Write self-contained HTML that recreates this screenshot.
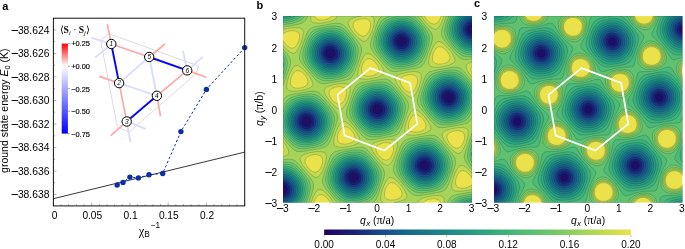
<!DOCTYPE html>
<html><head><meta charset="utf-8"><title>figure</title>
<style>html,body{margin:0;padding:0;background:#fff}svg{display:block}</style></head>
<body><svg width="685" height="249" viewBox="0 0 685 249">
<rect width="685" height="249" fill="#fff"/>
<g shape-rendering="geometricPrecision">
<rect x="283" y="16.1" width="189" height="186.6" fill="#ebe14b"/>
<path fill="#c3da52" stroke="#062018" stroke-opacity="0.38" stroke-width="0.5" fill-rule="evenodd" d="M283 16.1l31.6 0 0.9 1.8 1.3 1.2 2.2 0.8 2.5 0.3 3 -0.3 3 -0.8 2.5 -1.4 1.4 -1.6 93.3 0 1.8 3 2.5 2.6 2.5 1.8 2.5 0.7 2 -0.4 2 -1.6 1.8 -2.6 1.3 -3.5 30.9 0 0 50 -0.8 1.5 -0.2 1.5 0.2 1.5 0.8 2 0 105.6 -2 -3.1 -3 -2.8 -2.5 -1.4 -1.5 -0.3 -1 0.1 -1.5 0.6 -1 0.8 -2 2.6 -1.5 3.6 -0.6 3.9 0.4 2.5 0.9 1.5 1.8 1.3 2 0.5 3 0.2 3.5 -0.6 3 -1.3 2 -1.6 0 18 -31.6 0 -0.9 -1.8 -1.3 -1.2 -2.2 -0.8 -2.5 -0.3 -3 0.3 -3 0.8 -2.5 1.4 -1.4 1.6 -93.3 0 -1.8 -3 -2.5 -2.6 -2.5 -1.8 -2.5 -0.7 -2 0.4 -2 1.6 -1.8 2.6 -1.3 3.5 -30.9 0 0 -50 0.8 -1.5 0.2 -1.5 -0.2 -1.5 -0.8 -2 0 -105.6 2 3.1 3 2.8 2.5 1.4 1.5 0.3 1 -0.1 1.5 -0.6 1 -0.8 2 -2.6 1.5 -3.6 0.6 -3.9 -0.4 -2.5 -0.9 -1.5 -1.8 -1.3 -2 -0.5 -3 -0.2 -3.5 0.6 -3 1.3 -2 1.6zM314.5 154.6l-4 0.8 -3 1.4 -1.1 0.9 -0.8 1 -0.4 1 -0.2 1.5 0.2 1.5 0.8 2 1.2 2 1.8 2.1 1.5 1.4 2 1.3 1.5 0.5 1.5 0.1 1.5 -0.3 1 -0.7 1.5 -1.4 1 -1.5 1.6 -4 0.4 -2 0.1 -2 -0.6 -2.5 -0.6 -1 -0.9 -0.8 -2.5 -1zM339 86.6l-4 0.6 -3.3 1.4 -1.3 1 -0.8 1 -0.4 1 -0.2 1.5 0.2 1.5 0.8 2 2.5 3.7 1.5 1.5 2 1.4 1.5 0.7 1.5 0.3 1.5 -0.3 1 -0.4 1.5 -1.3 1 -1.3 1 -1.8 1 -2.5 0.6 -4 -0.4 -2.5 -0.5 -1 -0.9 -1 -2.3 -1.1zM360 19l-3.5 1.2 -1.5 0.9 -1 1 -0.9 2 0.1 2.5 0.8 2 1 1.7 3 3.4 3 2 1.5 0.4 1.5 0 1.5 -0.6 1.1 -0.9 1.4 -1.7 1 -1.8 1 -2.5 0.4 -2 0.2 -2 -0.3 -2 -1 -2 -1.2 -1 -1.1 -0.5 -3 -0.5zM385.5 142.6l-4 0.8 -3 1.4 -1.1 0.9 -0.8 1 -0.4 1 -0.2 1.5 0.2 1.5 0.8 2 1.2 2 1.8 2.1 1.5 1.4 2 1.3 1.5 0.5 1.5 0.1 1.5 -0.3 1 -0.7 1.5 -1.4 1 -1.5 1.6 -4 0.4 -2 0.1 -2 -0.6 -2.5 -0.7 -1 -0.8 -0.8 -2.5 -1zM410 74.6l-4 0.6 -3.3 1.4 -1.3 1 -0.8 1 -0.4 1 -0.2 1.5 0.2 1.5 0.8 2 2.5 3.7 1.5 1.5 2 1.4 1.5 0.7 1.5 0.3 1.5 -0.3 1 -0.4 1.5 -1.3 1 -1.3 1 -1.8 1 -2.5 0.6 -4 -0.4 -2.5 -0.5 -1 -0.9 -1 -2.3 -1.1zM438 47l-1.5 1.1 -1 1.1 -1.2 1.9 -1.1 2.5 -0.6 2.5 -0.2 2 0.2 2 0.7 1.5 0.8 1 1.4 0.9 1.5 0.4 2 0.3 2 -0.1 2.5 -0.4 2 -0.6 1.9 -1 1.7 -1.5 0.8 -2 -0.1 -2.5 -1.4 -3 -2.4 -3.1 -3 -2.4 -2.5 -0.9 -1.5 0zM456.5 130.6l-4 0.8 -3 1.4 -1.1 0.9 -0.8 1 -0.4 1 -0.2 1.5 0.2 1.5 0.8 2 1.2 2 1.8 2.1 1.5 1.4 2 1.3 1.5 0.5 1.5 0.1 1.5 -0.3 1 -0.7 1.5 -1.4 1 -1.5 1.6 -4 0.4 -2 0.1 -2 -0.6 -2.5 -1.5 -1.8 -2.5 -1zM296 71l-1.5 1.1 -1 1.1 -1.2 1.9 -1.1 2.5 -0.6 2.5 -0.2 2 0.3 2 0.6 1.5 0.9 1 1.3 0.9 1.5 0.4 2 0.3 2 -0.1 2.5 -0.4 2 -0.6 1.8 -1 1.8 -1.5 0.8 -2 -0.1 -2.5 -1.4 -3 -2.4 -3.1 -3 -2.4 -2.5 -0.9 -1.5 0zM344.5 126.7l-1.5 0.3 -1 0.7 -2.2 2.5 -1.8 4 -0.6 4 0.4 2.5 0.5 1 0.9 1 2.3 1.1 3 0.4 4.1 -0.5 3.7 -1.5 1.3 -1 0.8 -1 0.4 -1 0.2 -1.5 -0.2 -1.5 -0.8 -2 -1.2 -2 -1.8 -2.2 -1.5 -1.4 -2 -1.3 -1.5 -0.5zM367 59l-1.5 1.1 -1 1.1 -1.2 1.9 -1.1 2.5 -0.6 2.5 -0.2 2 0.3 2 0.6 1.5 0.8 1 1.4 0.9 1.5 0.4 2 0.3 2 -0.1 2.5 -0.4 2 -0.6 1.9 -1 1.7 -1.5 0.8 -2 -0.1 -2.5 -1.4 -3 -2.4 -3.1 -3 -2.4 -2.5 -0.9 -1.5 0zM391.5 182.7l-1.5 0.3 -1 0.7 -1 0.9 -1.2 1.6 -1.8 4 -0.6 4 0.4 2.5 0.5 1 0.9 1 2.3 1.1 3 0.4 4 -0.5 2 -0.6 1.8 -0.9 1.3 -1 0.8 -1 0.4 -1 0.2 -1.5 -0.2 -1.5 -0.8 -2 -1.2 -2 -1.6 -2 -1.7 -1.6 -2 -1.3 -1.5 -0.5zM416 114.6l-1.5 0.3 -1 0.4 -2 1.9 -1.9 3.5 -1.1 4 0 3 1 2.2 1 1 1 0.6 2.5 0.6 2 0.1 2.5 -0.3 3.9 -1.2 1.6 -1 1 -1 0.6 -1 0.4 -1.5 -0.1 -1.5 -0.7 -2 -1.1 -2 -1.5 -2 -1.6 -1.7 -2 -1.4 -1.5 -0.7z"/>
<path fill="#a6d459" stroke="#062018" stroke-opacity="0.38" stroke-width="0.5" fill-rule="evenodd" d="M283 16.1l27.9 0 -0.1 3.5 0.3 1 0.6 1 0.8 0.6 1.5 0.6 4 0.4 3.5 -0.1 3.5 -0.5 4 -0.9 3 -1 2.4 -1.1 1.4 -1 0.8 -1 0.3 -1.5 23.8 0 -5.7 1.3 -4.3 1.7 -1.4 1 -0.8 1 -0.4 1 0.1 1.5 0.7 2 1.6 3 2.4 3.5 2.6 3.1 2.5 2.5 2.5 2 2 1.2 2 0.5 1 -0.3 1 -0.6 1 -0.9 1.5 -2.2 2.5 -5.1 1.8 -5.2 0.9 -4.5 0 -3.5 -0.3 -1 -0.7 -1 -1.8 -1 49.8 0 3.5 5 4.3 4.6 3.5 2.7 1.5 0.7 1.5 0.3 1 -0.3 1 -0.6 2 -2.3 2.5 -4.7 2 -5.4 28 0 0 45.6 -3 1.3 -1.7 1.1 -0.8 1 -0.4 1.5 0.4 2 1.1 2.5 1.9 3 2.5 3.4 0 95.8 -4 -4.2 -3.5 -2.7 -2.5 -0.9 -1 0 -1 0.4 -1 0.8 -1.5 1.9 -1.5 2.6 -1.5 3.3 -2 6.2 -0.6 3 -0.2 2.5 0.3 2 0.8 1.5 1.2 0.8 2 0.5 3.5 0.2 4 -0.3 4.4 -0.7 4.1 -1.1 0 13.6 -27.9 0 0.1 -3.5 -0.3 -1 -0.6 -1 -0.8 -0.6 -1.5 -0.6 -4 -0.4 -3.5 0.1 -3.5 0.5 -4 0.9 -3 1 -2.4 1.1 -1.4 1 -0.8 1 -0.3 1.5 -23.8 0 5.7 -1.3 4.3 -1.7 1.4 -1 0.8 -1 0.4 -1 -0.1 -1.5 -0.7 -2 -1.6 -3 -2.4 -3.5 -2.6 -3.1 -2.5 -2.5 -2.5 -2 -2 -1.2 -2 -0.5 -1 0.3 -1 0.6 -1 0.9 -1.5 2.2 -2.5 5.1 -1.8 5.2 -0.9 4.5 0 3.5 0.3 1 0.7 1 1.8 1 -49.8 0 -3.5 -5 -4.3 -4.6 -3.5 -2.7 -1.5 -0.7 -1.5 -0.3 -1 0.3 -1 0.6 -2 2.3 -2.5 4.7 -2 5.4 -28 0 0 -45.6 3 -1.3 1.7 -1.1 0.8 -1 0.4 -1.5 -0.4 -2 -1.1 -2.5 -1.9 -3 -2.5 -3.4 0 -95.8 4 4.2 3.5 2.7 2.5 0.9 1 0 1 -0.4 1 -0.8 1.5 -1.9 1.5 -2.6 1.5 -3.3 2 -6.2 0.6 -3 0.2 -2.5 -0.3 -2 -0.8 -1.5 -1.2 -0.8 -2 -0.5 -3.5 -0.2 -4 0.3 -4.4 0.7 -4.1 1.1zM316.5 151.7l-6.7 1 -5.8 1.8 -2.8 1.7 -0.8 1 -0.3 1.5 0.4 2 1.4 3 2 3 2.7 3.5 2.9 3 3 2.5 2 1.2 2 0.5 1.5 -0.5 1.5 -1.3 1.5 -2.2 1.5 -2.8 1.5 -3.6 1.2 -3.8 0.8 -3.5 0.3 -3 -0.1 -1.5 -0.6 -1.5 -0.6 -0.8 -1 -0.6 -3 -0.6zM341 83.6l-6.5 0.9 -6 1.8 -1.8 0.8 -1.4 1 -0.8 1 -0.4 1.5 0.4 2 1.4 3 1.9 3 2.8 3.5 2.9 3.1 3 2.5 2 1.2 2 0.5 1.5 -0.5 1.5 -1.3 1.5 -2.2 1.5 -2.8 1.5 -3.5 1.1 -3.5 0.8 -3.5 0.4 -3 -0.1 -1.5 -0.3 -1.5 -0.7 -1 -0.7 -0.5 -1.5 -0.6 -1.5 -0.3zM367 53.5l-1.5 0.8 -2 2.3 -2 3.6 -1.6 3.9 -1.4 4.5 -0.7 4 0 3 0.7 1.7 1.5 1.2 2 0.5 3 0.2 3.5 -0.1 4 -0.6 3.7 -0.9 3.3 -1.1 2.7 -1.4 1.3 -1.5 0.4 -1 0 -1 -1 -3 -2.4 -4 -4 -5 -4 -3.8 -3 -1.9 -1.5 -0.4zM388 139.6l-6.5 0.9 -6 1.8 -1.9 0.9 -1.4 1 -0.7 1 -0.4 1.5 0.4 2 1.4 3 2 3 2.7 3.5 2.9 3 3 2.5 2 1.2 2 0.5 1.5 -0.5 1.5 -1.3 1.5 -2.2 1.5 -2.8 1.5 -3.6 1.2 -3.8 0.8 -3.5 0.3 -3 -0.4 -2.5 -0.7 -1 -0.7 -0.6 -1.5 -0.6 -1.5 -0.3zM412.5 71.6l-6.5 0.8 -6.1 1.7 -2.2 1 -1.4 1 -0.8 1 -0.4 1.5 0.4 2 1.1 2.5 1.9 3 2.7 3.5 2.8 3.1 3 2.7 2 1.3 2 0.6 1.5 -0.2 1.5 -1 1.5 -1.9 1.5 -2.6 1.5 -3.3 1.3 -3.7 0.9 -3.5 0.6 -3.5 -0.3 -3.1 -0.5 -1 -0.9 -0.9 -2.6 -0.8zM438 41.5l-1.5 0.8 -2 2.3 -2 3.6 -1.6 3.9 -1.4 4.5 -0.7 4 0 3 0.7 1.7 1.5 1.2 2 0.5 3 0.2 3.5 -0.1 4 -0.6 3.7 -0.9 3.3 -1.1 2.7 -1.4 1.4 -1.5 0.3 -1 0 -1 -1 -3 -2.4 -4 -4 -5 -4 -3.8 -3 -1.9 -1.5 -0.4zM459 127.6l-6.5 0.9 -6 1.8 -1.9 0.9 -1.4 1 -0.7 1 -0.4 1.5 0.4 2 1.4 3 1.9 3 2.8 3.5 2.9 3 3 2.5 2 1.2 2 0.5 1.5 -0.5 1.5 -1.3 1.5 -2.2 1.5 -2.8 1.5 -3.6 1.2 -3.8 0.8 -3.5 0.3 -3 -0.4 -2.5 -0.7 -1 -0.7 -0.6 -1.5 -0.6 -1.5 -0.3zM296 65.5l-1.5 0.8 -2 2.3 -2 3.6 -1.6 3.9 -1.4 4.5 -0.7 4 0 3 0.7 1.7 1.5 1.2 2 0.5 3 0.2 3.5 -0.2 4 -0.5 3.7 -0.9 3.3 -1.1 2.6 -1.4 1.4 -1.5 0.4 -1 0 -1 -1 -3 -2.4 -4 -4 -5 -4 -3.8 -3 -1.9 -1.5 -0.4zM343 121.5l-1.5 0.8 -2 2.3 -2 3.6 -1.5 3.6 -1.4 4.4 -0.8 4 0 3 0.6 2 1.1 1 2 0.7 3 0.3 3.5 -0.1 4 -0.5 4.1 -0.9 3.4 -1.2 2.6 -1.3 1.4 -1.5 0.4 -1 0 -1 -1 -3 -2.4 -4 -4 -5.1 -4 -3.8 -3 -1.9 -1.5 -0.4zM414 109.5l-1.5 0.8 -2 2.3 -2 3.6 -1.5 3.6 -1.4 4.4 -0.8 4 0 3 0.6 2 1.1 1 2 0.7 3 0.3 3.5 -0.1 4 -0.5 4.1 -0.9 3.4 -1.2 2.6 -1.3 1.4 -1.5 0.4 -1 0 -1 -1 -3 -2.4 -4 -4 -5.1 -4 -3.8 -3 -1.9 -1.5 -0.4z"/>
<path fill="#89cd62" stroke="#062018" stroke-opacity="0.38" stroke-width="0.5" fill-rule="evenodd" d="M283 16.1l24.6 0 -1.1 2.5 -1.3 2 -1.5 1.5 -1.7 1 -4.5 1.4 -14.5 2.5zM381.4 16.6l0.8 -0.5 35.4 0 10.5 12.5 2.7 3.5 1.3 2.5 0.5 2.5 -0.1 2.5 -1.4 5 -5.5 15.5 -1.7 3.5 -1.9 2.3 -1.5 1 -1.5 0.6 -5 1.2 -16.5 2.8 -3 0.2 -2.5 -0.3 -2.5 -1.1 -3 -2.5 -11.7 -13.7 -2.6 -3.5 -1.3 -2.5 -0.5 -2.5 0.2 -3 1.3 -4.5 5.6 -15.7 2 -3.8zM446.4 16.1l25.6 0 0 42.9 -4.5 0.6 -3 0 -2.5 -0.5 -2 -1.1 -2 -1.7 -2.5 -2.7 -9.7 -11.5 -2.9 -4 -1 -2 -0.4 -1.5 -0.1 -1.5 0.1 -2 1.2 -4.5zM332.4 23.6l4.6 -0.5 3 0.3 2.5 1.1 2.5 2 11.3 13.1 3.5 4.5 1.1 2 0.6 2 0.1 2 -0.2 2 -1.3 4.5 -5.6 15.8 -1.6 3.2 -1.9 2.3 -1.5 1 -1.5 0.6 -4.4 1.1 -16.6 2.8 -3 0.3 -2.5 -0.2 -3 -1.2 -3 -2.5 -13.2 -15.7 -1.7 -2.5 -0.9 -2 -0.3 -2.5 0.2 -2.5 1.3 -4.5 5.3 -15 1.6 -3.5 1.7 -2.2 2 -1.5 3.5 -1.2zM283 49.1l0 -0.2 3.5 4.2 2.6 3.5 1.1 2.5 0.4 2.5 -0.2 2.5 -0.9 3.5 -6.5 17.9zM450.3 67.6l3.7 -0.4 2.5 0 2 0.3 2 1 1.5 1 2 2 8 9.4 0 36.6 -1.5 2.7 -1.3 1.5 -1.7 1.2 -2.5 0.9 -4.5 1 -15 2.6 -3.5 0.3 -2.5 -0.2 -1.5 -0.4 -1.5 -0.8 -3 -2.5 -13.2 -15.7 -1.7 -2.5 -0.9 -2 -0.3 -2.5 0.2 -2.5 1.3 -4.5 5.3 -15 1.6 -3.5 1.7 -2.2 2 -1.5 3.5 -1.2zM383.9 79.1l2.1 0.1 2 0.5 1.5 0.8 2 1.5 3 3.2 10.5 12.4 2.4 3.5 1 2.5 0.2 2.5 -0.6 3.6 -6.6 19 -1.9 3.5 -1.9 2 -3.1 1.5 -5 1.1 -16 2.7 -3 0.2 -2.5 -0.3 -2.5 -1.1 -3 -2.5 -10.8 -12.6 -3.1 -4 -1.5 -2.5 -0.7 -2.5 0 -2 0.6 -3.1 6.5 -18.7 1.6 -3.3 1.9 -2.2 2.5 -1.4 3.5 -1.1 16 -2.7zM312.7 91.1l2.3 0.1 1.5 0.3 2 1 1.5 1 3.5 3.7 10.5 12.5 2.4 3.5 1 2.5 0.2 2.5 -0.6 3.5 -6.6 19 -1.9 3.5 -1.9 2 -3.1 1.5 -5 1.1 -16 2.7 -3 0.2 -2.5 -0.3 -2.5 -1.1 -2.5 -2 -9 -10.4 0 -36.6 1.1 -2.2 1.4 -1.7 1.6 -1.3 2.3 -1 5.6 -1.2 13.5 -2.3zM471.8 133.7l0.2 -0.4 0 36.6 -3.9 -4.7 -2.2 -3 -1.1 -2.5 -0.4 -2.5 0.2 -2.5 0.8 -3zM430.2 135.2l2.3 0 2 0.3 2 1 1.5 1 3 3.1 9.8 11.6 3 4 1.5 3 0.3 2.5 -0.4 3.5 -1.4 4.5 -5.4 15 -1.9 3.5 -1.9 2 -3.1 1.5 -5.5 1.2 -15.5 2.6 -3 0.2 -2.5 -0.3 -2.5 -1.1 -3 -2.5 -13.6 -16.1 -1.5 -2.5 -0.9 -2.5 -0.1 -2.5 0.4 -2.5 1.4 -4.5 5.3 -14.8 1.6 -3.2 1.9 -2.3 2.5 -1.4 3.5 -1.1 15.5 -2.6zM359.1 147.2l2.9 0 2 0.5 2 1.1 2 1.7 12.6 14.7 2.2 3 1.3 2.5 0.5 3 -0.4 3.5 -6.4 18.5 -1.1 2.5 -1.2 2 -1.3 1.5 -1.4 1 -35.4 0 -12.1 -14.5 -1.9 -3 -0.9 -2.5 -0.1 -2.5 0.7 -3.5 6.1 -17.5 1.3 -3 1.5 -2.3 1.5 -1.3 2 -1.1 5.5 -1.4zM288 159.2l2.5 0 2 0.3 2 1 2 1.5 3 3.2 9.7 11.5 1.9 2.5 1.6 2.5 0.9 3 -0.2 3.5 -1.1 4 -3.7 10.5 -25.6 0 0 -42.9zM469.9 192.2l2.1 -0.4 0 10.9 -24.6 0 1.1 -2.5 1.3 -2 1.5 -1.5 1.7 -1 4.5 -1.4z"/>
<path fill="#6ec66b" stroke="#062018" stroke-opacity="0.38" stroke-width="0.5" fill-rule="evenodd" d="M283 16.1l21.6 0 -1.6 2 -1.5 1.4 -2 1.3 -2 0.9 -6 1.7 -8.5 1.3zM388.8 16.6l1.7 -0.5 22.9 0 2.6 2 3.5 3.5 4.3 5 2.8 4 1.8 3.5 0.9 3 0.1 3.5 -0.7 4 -2.4 7.5 -2.6 6 -2.2 3.5 -3 2.6 -2 1.1 -3 1.1 -8.5 1.8 -7 0.7 -2.5 -0.2 -2.5 -0.5 -3.5 -1.6 -3.5 -2.8 -5.2 -5.7 -4.5 -6 -1.3 -2.5 -0.8 -2 -0.5 -2 -0.1 -2 0.6 -5 2 -6.5 2.6 -6.5 1.4 -2.5 1.3 -1.9 1.5 -1.5 1.5 -1.1 2 -1.1zM448.5 16.6l0.2 -0.5 23.3 0 0 40.6 -4 0.1 -3 -0.3 -2.5 -0.8 -2.5 -1.4 -3 -2.5 -3.5 -3.7 -4.1 -5 -2.7 -4 -1 -2 -0.8 -2.5 -0.3 -2 0 -2.5 1.1 -5.5zM330.9 26.1l4.6 -0.1 4 0.7 3.5 1.8 3.5 3 6.3 7.1 3.7 5.5 1.1 2.5 0.6 2 0.2 2 -0.1 2.5 -0.5 3 -0.9 3.5 -3 8 -2.4 4.6 -1.5 1.9 -1.5 1.4 -2 1.3 -2 0.9 -5.5 1.6 -8.5 1.4 -3.5 0.2 -2.5 -0.2 -3.5 -0.8 -3.5 -2 -4 -3.6 -4.5 -5.2 -3.4 -4.5 -1.9 -3.5 -1 -3.5 0 -4 1.2 -5.5 2.8 -8 2.3 -4.7 2.5 -3.2 2.8 -2.1 3.7 -1.6 5.5 -1.3zM283 52.6l0 -0.4 1.9 2.9 1.3 2.5 1 3 0.2 2.5 -0.2 3 -0.8 3.5 -1.5 5 -1.9 4.8zM448.6 70.1l3.4 -0.2 3 0.2 2.5 0.6 2.5 1.2 2.5 1.8 2.5 2.3 3.5 3.8 3.5 4.4 0 27.2 -1.8 3.8 -1.8 2.5 -2.1 2 -2.8 1.6 -4.5 1.5 -6 1.2 -6 0.8 -4.5 -0.1 -3.5 -0.8 -3.5 -2 -4 -3.6 -4.5 -5.1 -3.3 -4.6 -2 -3.5 -1 -3.5 0 -4 1.2 -5.5 2.8 -8 2.3 -4.7 2.5 -3.2 2.7 -2.1 3.8 -1.6 5.5 -1.3zM377.6 82.1l4.9 -0.1 4 0.7 3.5 1.8 3.5 3 6.3 7.1 3.7 5.5 1.1 2.5 0.6 2 0.2 2 -0.1 2.5 -0.5 3.1 -1 3.5 -2.9 8 -2.4 4.5 -1.5 1.9 -1.5 1.4 -1.7 1.2 -2.1 1 -5.7 1.6 -8.5 1.4 -3.5 0.2 -2.5 -0.2 -3.5 -0.8 -3.5 -2 -4 -3.6 -4.5 -5.1 -3.3 -4.5 -2 -3.5 -1 -3.5 0 -4 1.2 -5.6 2.8 -8 2.3 -4.7 2.5 -3.2 2.7 -2.1 3.8 -1.6 5.5 -1.3zM306.5 94.1l5 -0.1 4 0.7 3.5 1.8 3.5 3 6.3 7.1 3.7 5.6 1.1 2.5 0.6 2 0.2 2 -0.1 2.5 -0.5 3 -1 3.5 -2.9 8 -2.4 4.5 -1.5 1.9 -1.5 1.4 -1.7 1.2 -2.1 1 -5.7 1.6 -8.5 1.4 -3.5 0.2 -2.5 -0.2 -2 -0.3 -2 -0.7 -2 -1.1 -2 -1.5 -4.5 -4.4 -5 -6.1 0 -27.2 1.5 -3.3 1.7 -2.5 1.8 -1.9 2.2 -1.6 2.8 -1.2 3.5 -1.1 5 -1zM424.3 138.2l4.7 -0.2 4 0.6 3.5 1.6 3.5 2.8 6 6.7 4.3 6 1 2 0.8 2.5 0.3 2.5 -0.1 2.5 -0.5 3 -1 3.5 -2.8 7.7 -2.5 4.8 -2.6 3 -3.4 2.1 -5.5 1.8 -8.5 1.4 -3.5 0.3 -3 0 -4 -0.9 -3.5 -2 -3.5 -3.1 -4.6 -5.1 -3.7 -5 -1.9 -3.5 -1.1 -3.5 0 -4 1.1 -5.5 2.9 -8 2.3 -4.8 2.5 -3.2 2.7 -2 3.8 -1.7 5.5 -1.3zM471.9 139.7l0.1 -0.3 0 27.2 -2.2 -3.4 -1.3 -2.5 -0.7 -2.5 -0.2 -2.5 0.2 -3 0.8 -3.5 1.5 -5zM353.2 150.2l5.3 -0.2 2.5 0.3 2 0.6 2 1 2 1.4 4 3.7 6 7.2 2 3 1.3 2.5 0.8 2.5 0.3 2 0 2.5 -0.5 3 -2.2 7.5 -3 7 -1.2 2 -1.5 1.9 -3 2.4 -2.5 1.2 -3 1 -22.9 0 -3.1 -2.4 -3.5 -3.6 -4.2 -5 -3 -4.5 -1.4 -3 -0.7 -3 -0.1 -3 0.6 -3.5 1.8 -6 2.5 -6.5 2 -3.6 2.5 -2.9 3 -2 3.5 -1.3 5.5 -1.3zM283 162.2l3 -0.3 3.5 0.3 3 0.9 2.5 1.4 3 2.5 3.5 3.7 4.1 5 2.7 4 1 2 0.8 2.5 0.3 2 0 2.5 -1.3 6 -2.8 8 -23.3 0zM471 194.2l1 -0.1 0 8.6 -21.6 0 1.6 -2 1.5 -1.4 3.5 -2 6 -1.8z"/>
<path fill="#5abf72" stroke="#062018" stroke-opacity="0.38" stroke-width="0.5" fill-rule="evenodd" d="M283 16.1l18.6 0 -3.1 2.6 -4 1.8 -5.5 1.5 -6 0.7zM397.2 16.6l4.5 -0.5 4.8 0.2 3.5 0.8 3.5 1.8 4 3.3 4.3 4.9 3 4.5 1 2 0.8 2.5 0.5 4 -0.5 4.5 -1.7 6 -2.5 5.5 -2.4 3.5 -2.5 2.4 -3.5 2 -4 1.3 -6 1.2 -5.5 0.2 -4.5 -0.7 -3.5 -1.5 -2 -1.3 -2.5 -2.1 -4.5 -5 -3.3 -5 -1 -2 -0.8 -2.5 -0.4 -2 -0.1 -2.5 0.8 -5.5 2.3 -6.7 1.3 -2.8 1.6 -2.5 2.6 -3 3 -2 4 -1.7zM450.8 16.1l21.2 0 0 38.6 -3 0 -3 -0.4 -3 -1 -2.5 -1.4 -3 -2.4 -3 -3 -3.1 -3.9 -2.2 -3.5 -1.2 -2.5 -0.7 -2.5 -0.4 -2.5 0.1 -2.5 0.4 -3 0.7 -3 1.2 -3.5zM330.6 28.1l4.9 0.2 4 1 3.5 1.9 3.9 3.4 4.3 5 3.1 5 1 2.5 0.5 2 0.2 4.5 -1 5.5 -2.1 6 -2.4 4.6 -1.5 1.9 -1.5 1.6 -3.5 2.3 -5 1.8 -6.5 1.2 -5.5 0.2 -4 -0.7 -3.5 -1.5 -3.5 -2.5 -4 -4.1 -3.6 -4.8 -2.2 -4 -1.1 -4 -0.1 -4 0.9 -5 2 -6 2.3 -4.5 2.8 -3.5 3 -2.3 3.9 -1.7 5.1 -1.3zM283 56.1l0.8 1.5 0.8 2.5 0.5 4 -0.5 4.5 -1.6 5.7zM448.2 72.1l3.3 0 3 0.3 2.5 0.7 2.5 1.2 2.5 1.7 2.5 2.2 2.7 2.9 2.7 3.5 2.1 3.4 0 18.3 -1.8 4.4 -2 3.5 -2.2 2.5 -2.5 2 -3.5 1.7 -5 1.4 -5.5 0.8 -4.5 0.1 -4 -0.7 -3.5 -1.5 -3.5 -2.5 -3.8 -3.8 -3.5 -4.5 -2.3 -4.1 -1.2 -4 -0.3 -4 0.8 -5 2 -6 2.5 -5 2.7 -3.5 3.1 -2.3 3.5 -1.5 5 -1.4zM377.1 84.1l4.9 0.1 4 0.9 3.5 1.8 3.5 2.8 4.8 5.4 3.3 5 1.1 2.5 0.5 2 0.3 2 0.1 2.5 -1 5.6 -2.2 6.5 -2.4 4.5 -1.5 2 -1.5 1.5 -3.5 2.3 -5 1.8 -6.5 1.2 -5.5 0.2 -4 -0.7 -3.5 -1.5 -3.5 -2.5 -3.8 -3.8 -3.5 -4.5 -2.3 -4 -1.2 -4 -0.3 -4 0.8 -5.1 2 -6 2.3 -4.7 2.5 -3.3 3 -2.5 3.5 -1.7 5 -1.4zM306 96.1l4.5 0 4 0.8 4 2 3.5 2.8 4.8 5.4 3.3 5.1 1.1 2.5 0.5 2 0.3 2 0.1 2.5 -1 5.5 -2.2 6.5 -2.4 4.5 -1.5 2 -1.5 1.5 -3.5 2.3 -5 1.8 -6.5 1.2 -5.5 0.2 -3 -0.4 -2.5 -0.8 -2 -1 -2.5 -1.7 -2.5 -2.2 -2.7 -2.9 -2.4 -3 -1.9 -3 -0.5 -0.9 0 -18.3 1.6 -3.9 1.9 -3.5 2 -2.5 2.2 -2 2.8 -1.5 3.5 -1.3 4.5 -1.1zM423.7 140.2l4.8 -0.1 4 0.8 4 2 3.5 2.8 4.9 5.5 3.2 5 1.1 2.5 0.5 2 0.3 2 0.1 2.5 -1 5.5 -2.2 6.5 -2.4 4.5 -1.5 2 -1.5 1.5 -3.5 2.3 -4.5 1.7 -6.5 1.3 -5.5 0.2 -4 -0.5 -3.5 -1.4 -3.5 -2.4 -3.8 -3.7 -3.6 -4.5 -2.6 -4.5 -1.3 -4 -0.3 -4 0.8 -5 2 -6 2.3 -4.8 2.5 -3.3 2.9 -2.4 3.6 -1.8 5 -1.4zM471.9 144.7l0.1 -0.2 0 18.3 -1.6 -4.1 -0.5 -4 0.5 -4.5zM352.7 152.2l4.8 -0.1 4 0.8 4 2 3.5 2.8 4.9 5.5 3.2 5 1.1 2.5 0.5 2 0.3 2 0.1 2.5 -1 5.5 -2.2 6.5 -2.4 4.5 -1.5 2 -1.5 1.5 -3.5 2.3 -5 1.8 -6.5 1.2 -5.5 0.2 -4 -0.7 -3.5 -1.5 -3.5 -2.5 -3.5 -3.5 -3.8 -4.8 -2.2 -4 -1.3 -4 -0.3 -4 0.8 -5 2 -6 2.3 -4.8 2.5 -3.3 2.9 -2.4 3.6 -1.8 5 -1.4zM283 164.2l3 -0.1 3 0.4 3 1 2.5 1.4 3 2.4 3 3 3.1 3.9 2.2 3.5 1.2 2.5 0.7 2.5 0.4 2.5 -0.1 2.5 -0.4 3 -0.7 3 -1.2 3.5 -1.5 3.5 -21.2 0zM470.4 196.2l1.6 -0.1 0 6.6 -18.6 0 3 -2.5 3.6 -1.8 5 -1.4z"/>
<path fill="#48b779" stroke="#062018" stroke-opacity="0.38" stroke-width="0.5" fill-rule="evenodd" d="M283 16.1l15.6 0 -3.1 1.9 -3.5 1.4 -4.5 1.1 -4.5 0.4zM452.9 16.1l19.1 0 0 36.8 -3 -0.1 -3 -0.6 -2.5 -0.9 -2.9 -1.7 -2.6 -2.1 -2.8 -2.9 -2.4 -3 -1.8 -3 -1.1 -2.5 -0.7 -2.5 -0.3 -2.5 0 -2.5 0.5 -3 0.9 -3.5 1.1 -3zM399.2 18.1l4.8 -0.1 4 0.6 3.5 1.4 3.5 2.4 4 4 3.4 4.7 1.8 4 0.6 2 0.3 2.5 -0.3 4.5 -1.4 5.5 -2.3 5 -2.4 3.5 -3.2 2.8 -3.5 1.8 -4.5 1.4 -5 0.7 -4.5 0 -3.5 -0.8 -3.5 -1.5 -3.5 -2.5 -3.7 -3.9 -3.2 -4.5 -1.8 -4 -0.9 -4 0.2 -4.5 1.2 -5 2.1 -5 2.6 -4 2.6 -2.5 3.4 -2.1 4.5 -1.6zM328.1 30.1l4.9 -0.1 4 0.6 3.5 1.4 3.5 2.4 4 4 3.4 4.7 1.8 4 0.6 2 0.3 2.5 -0.3 4.5 -1.4 5.5 -2.3 5 -2.5 3.5 -3.1 2.8 -3.5 1.8 -4.5 1.4 -5 0.7 -4 0 -4 -0.8 -3.5 -1.5 -3.5 -2.5 -3.7 -3.9 -3.2 -4.5 -1.8 -4 -0.9 -4 0.2 -4.5 1.2 -5 2.1 -5 2.6 -4 2.6 -2.5 3.4 -2.1 4.5 -1.6zM283 63.1l0 -0.4 0 4.1zM445.9 74.1l4.6 -0.2 4 0.6 3.5 1.3 3.5 2.2 3.8 3.6 3.5 4.5 2.2 4.5 1 4 0 4.5 -1.3 5.5 -2 5.1 -2.7 4 -3 2.8 -3.5 2 -4.5 1.5 -5 0.8 -4.5 0 -4 -0.8 -3.5 -1.5 -3.3 -2.3 -3.9 -4 -3.2 -4.6 -1.8 -4 -0.9 -4 0.2 -4.5 1.2 -5 2 -5 2.7 -4 2.5 -2.5 3.5 -2.1 4 -1.4zM374.9 86.1l4.6 -0.2 4 0.6 3.5 1.3 3.7 2.3 4.1 4 3.3 4.5 2.1 4.5 0.9 4 -0.2 4.6 -1.2 5 -2 5 -2.7 4 -2.5 2.5 -3.5 2.1 -4.5 1.6 -5 0.8 -4.5 0.1 -4 -0.6 -3.5 -1.4 -3.5 -2.4 -3.8 -3.7 -3.3 -4.5 -2.1 -4.5 -0.9 -4 0.2 -4.6 1.2 -5 2 -5 2.6 -4 2.6 -2.5 3.5 -2.1 4 -1.4zM303.8 98.1l4.7 -0.2 4 0.6 3.5 1.3 3.5 2.2 3.9 3.6 3.4 4.6 2.3 4.5 0.9 4 0 4.5 -1.1 5 -2.2 5.5 -2.7 4 -2.5 2.5 -3.5 2.1 -4.5 1.6 -5 0.8 -4.5 0.1 -4 -0.6 -3.5 -1.4 -3.5 -2.4 -3.8 -3.7 -3.3 -4.5 -1.9 -4 -1 -4 0 -4.5 1.1 -5 2 -5 2.4 -4.1 2.5 -2.5 3.5 -2.3 4.5 -1.7zM421.6 142.2l4.9 -0.3 4 0.6 3.5 1.3 3.5 2.2 3.9 3.7 3.4 4.5 2.3 4.5 0.9 4 0 4.5 -1.1 5 -2.3 5.5 -2.6 4 -2.6 2.5 -3.4 2.1 -4 1.4 -5 1 -4.5 0.2 -4 -0.6 -3.5 -1.3 -3.5 -2.2 -3.8 -3.6 -3.5 -4.5 -2.2 -4.5 -1 -4 0 -4.5 1.1 -5 2 -5 2.4 -4 2.5 -2.6 3.5 -2.3 4 -1.6zM472 152.2l0 -0.2 0 4.1zM350.6 154.2l4.9 -0.3 4 0.6 3.5 1.3 3.5 2.2 3.9 3.7 3.4 4.5 2.3 4.5 0.9 4 0 4.5 -1.1 5 -2.3 5.5 -2.6 4 -2.6 2.5 -3.4 2.1 -4 1.4 -5 1 -4.5 0.2 -4 -0.6 -3.5 -1.3 -3.5 -2.2 -3.8 -3.6 -3.5 -4.5 -2.2 -4.5 -1 -4 0 -4.5 1.1 -5 2 -5 2.4 -4 2.5 -2.6 3.5 -2.3 4 -1.6zM283 166.2l0 -0.3 2 0.1 3.5 0.5 3 1 2.5 1.4 2.9 2.3 2.6 2.6 2.7 3.4 1.8 3 1.1 2.5 0.7 2.5 0.3 2.5 0 2.5 -0.5 3 -0.9 3.5 -1.1 3 -1.5 3 -19.1 0zM468.4 198.2l3.6 -0.3 0 4.8 -15.6 0 2.3 -1.5 2.8 -1.3 3.5 -1.1z"/>
<path fill="#38ab7d" stroke="#062018" stroke-opacity="0.38" stroke-width="0.5" fill-rule="evenodd" d="M283 16.1l12.2 0 -2.7 1.3 -3 1 -3.5 0.6 -3 0.2zM455 16.1l17 0 0 35.1 -3 -0.3 -3 -0.6 -2.5 -1.1 -2.5 -1.5 -2.5 -2 -2.4 -2.6 -1.9 -2.5 -1.7 -3 -1 -2.5 -0.6 -2.5 -0.2 -2.5 0.1 -2.5 0.5 -3 0.9 -3 1.3 -3zM397.1 20.1l4.4 -0.5 4 0.3 3.5 1 3.3 1.7 3.7 3 3 3.4 2.2 3.6 1.6 4 0.5 4 -0.3 4 -1.2 4.5 -2.1 4.5 -2.2 3 -2.7 2.5 -3.3 1.9 -4 1.4 -4.5 0.7 -4 0 -4 -0.8 -3.5 -1.6 -4 -3 -3.2 -3.6 -2.6 -4 -1.5 -4 -0.5 -4 0.4 -4.5 1.4 -4.7 2.2 -4.3 2.3 -3 3.1 -2.5 3.9 -1.9zM326.1 32.1l4.4 -0.5 4 0.3 3.5 1 3.3 1.7 3.7 3 3 3.4 2.2 3.6 1.6 4 0.5 4 -0.3 4 -1.2 4.5 -2.1 4.5 -2.2 3 -2.7 2.5 -3.3 1.9 -4 1.4 -4.5 0.7 -4 0 -4 -0.8 -3.5 -1.6 -4 -3 -3.2 -3.6 -2.6 -4 -1.5 -4 -0.5 -4 0.4 -4.5 1.4 -4.7 2.2 -4.3 2.3 -3 3.1 -2.5 3.4 -1.7zM443.9 76.1l4.1 -0.4 4 0.2 3.5 0.8 3.5 1.7 3.5 2.7 3.2 3.5 2.5 4 1.6 4 0.5 4 -0.3 4 -1.2 4.5 -2.1 4.6 -2.2 3 -2.8 2.5 -3.2 1.8 -4 1.4 -4.5 0.7 -4 0 -4 -0.8 -3.5 -1.6 -4 -3 -3.2 -3.5 -2.5 -4.1 -1.6 -4 -0.5 -4 0.4 -4.5 1.4 -4.7 2.1 -4.3 2.4 -3 3 -2.4 3.5 -1.8zM372.9 88.1l4.1 -0.4 4 0.2 3.5 0.8 3.5 1.7 3.5 2.7 3.2 3.5 2.5 4 1.6 4 0.5 4 -0.3 4.1 -1.2 4.5 -2.1 4.5 -2.2 3 -2.8 2.5 -3.2 1.8 -4 1.4 -4.5 0.7 -4 0 -4 -0.8 -3.5 -1.6 -4 -3 -3.2 -3.5 -2.5 -4 -1.6 -4 -0.5 -4 0.4 -4.6 1.4 -4.7 2.1 -4.3 2.4 -3 3 -2.4 3.5 -1.8zM306.8 99.6l4.2 0.4 3.5 1.1 3.5 2 3.5 3 2.9 3.6 2.3 4 1.3 4 0.3 4 -0.6 4.5 -1.5 4.5 -2.2 4 -2.5 3 -3 2.3 -4 1.8 -4.5 1.1 -5 0.2 -4 -0.5 -3.5 -1.4 -3.5 -2.2 -3 -2.8 -2.8 -3.5 -2.1 -4 -1.1 -3.5 -0.3 -4 0.6 -4.5 1.5 -4.5 2.2 -4.1 2.5 -3 3 -2.3 3.5 -1.6 4.5 -1.2zM423.9 143.7l4.1 0.2 4 1 3.5 1.8 3 2.4 3.2 3.6 2.6 4 1.5 4 0.5 4 -0.4 4.5 -1.3 4.5 -2.1 4.2 -2.5 3.3 -3 2.4 -3.5 1.8 -4.5 1.3 -4.5 0.5 -4 -0.3 -4 -1.2 -3.5 -2 -3 -2.5 -3.1 -3.5 -2.4 -4 -1.3 -3.5 -0.5 -4 0.4 -4.5 1.3 -4.5 1.9 -4 2.6 -3.5 3.1 -2.5 3.5 -1.8 4 -1.2zM352.7 155.7l4.3 0.2 3.5 0.8 3.5 1.7 3.5 2.7 3.2 3.6 2.6 4 1.5 4 0.5 4 -0.4 4.5 -1.3 4.5 -2.1 4.2 -2.5 3.3 -3 2.4 -3.5 1.8 -4.5 1.3 -4.5 0.5 -4 -0.3 -4 -1.2 -3.5 -2 -3 -2.5 -3.1 -3.5 -2.4 -4 -1.3 -3.5 -0.5 -4 0.4 -4.5 1.3 -4.5 1.9 -4 2.6 -3.5 2.6 -2.2 3.5 -1.9 4 -1.3zM283 167.7l3 0.2 3 0.6 2.5 1.1 2.5 1.5 2.5 2 2.4 2.6 1.9 2.5 1.7 3 1 2.5 0.6 2.5 0.2 2.5 -0.1 2.5 -0.5 3 -0.9 3 -1.3 3 -1.5 2.5 -17 0zM470.3 199.7l1.7 -0.1 0 3.1 -12.2 0 2.2 -1.1 2.5 -0.9 3 -0.7z"/>
<path fill="#28a082" stroke="#062018" stroke-opacity="0.38" stroke-width="0.5" fill-rule="evenodd" d="M283 16.1l8.2 0 -3.7 1 -4 0.4 -0.5 0zM456.7 16.6l0.4 -0.5 14.9 0 0 33.4 -3 -0.3 -2.5 -0.6 -2.4 -1 -2.1 -1.2 -2.3 -1.8 -2.2 -2.3 -2 -2.7 -1.4 -2.5 -0.9 -2.5 -0.6 -2.5 -0.2 -2.5 0.2 -2.5 0.6 -3 0.8 -2.5 1.1 -2.5zM398 21.6l4 -0.3 3.5 0.4 3.5 1.1 3 1.6 3.2 2.7 2.8 3.3 2.1 3.7 1.1 3.5 0.4 3.5 -0.4 4 -1.2 4.1 -2 3.9 -2.4 3 -2.6 2.1 -3.5 1.8 -3.5 1 -4 0.5 -4 -0.3 -3.5 -1 -3.1 -1.6 -3.4 -2.7 -2.8 -3.3 -2.1 -3.5 -1.3 -4 -0.4 -4 0.5 -4 1.3 -4 2.2 -4 2.1 -2.5 3 -2.3 3.5 -1.7zM327 33.6l4 -0.3 3.5 0.4 3.5 1.1 3 1.6 3.2 2.7 2.8 3.3 2.1 3.7 1.1 3.5 0.4 3.5 -0.4 4 -1.2 4.1 -2 3.9 -2.4 3 -2.6 2.1 -3.5 1.8 -3.5 1 -4 0.5 -4 -0.3 -3.5 -1 -3.1 -1.6 -3.4 -2.7 -2.8 -3.3 -2.1 -3.5 -1.3 -4 -0.4 -4 0.5 -4 1.3 -4 2.2 -4 2.1 -2.5 3 -2.3 3.5 -1.7zM444.8 77.6l4.2 -0.3 3.5 0.4 3.5 1.1 3 1.6 3.3 2.7 2.7 3.3 2.1 3.7 1.1 3.5 0.4 3.5 -0.4 4 -1.2 4.1 -2 3.9 -2.4 3.1 -2.6 2 -3.5 1.8 -3.5 1 -4 0.5 -4 -0.3 -3.5 -1 -3.1 -1.5 -3.4 -2.8 -2.8 -3.3 -2.1 -3.5 -1.3 -4 -0.4 -4 0.5 -4 1.3 -4 2.1 -4 2.2 -2.5 3 -2.3 3.5 -1.7zM373.8 89.6l4.2 -0.3 3.5 0.4 3.5 1.1 3 1.6 3.3 2.7 2.7 3.3 2.1 3.7 1.1 3.5 0.4 4.1 -0.5 4 -1.3 4 -1.8 3.5 -2.5 3 -2.5 2 -3.5 1.8 -3.5 1 -4 0.5 -4 -0.3 -3.5 -1 -3.1 -1.5 -3.4 -2.8 -2.8 -3.2 -2.1 -3.5 -1.3 -4 -0.4 -4.1 0.5 -4 1.3 -4 2.1 -4 2.2 -2.5 3 -2.3 3.5 -1.7zM302.8 101.6l3.7 -0.3 4 0.4 3.5 1.1 3 1.6 3.3 2.7 2.7 3.3 2.1 3.8 1.1 3.5 0.4 4 -0.5 4 -1.3 4 -1.8 3.5 -2.5 3 -2.5 2 -3.5 1.8 -3.5 1 -4 0.5 -4 -0.3 -3.5 -1 -3.1 -1.5 -3.4 -2.8 -2.8 -3.2 -2.1 -3.5 -1.3 -4 -0.4 -4 0.5 -4 1.3 -4 2.1 -4.1 2.2 -2.5 3 -2.3 3.5 -1.7zM420.6 145.7l3.9 -0.4 4 0.4 3.5 1.1 3 1.6 3 2.5 2.8 3.3 2.1 3.5 1.2 3.5 0.5 3.5 -0.3 4 -1.1 4 -1.9 4 -2.3 3 -2.5 2.2 -3.3 1.8 -3.7 1.2 -4 0.6 -4 -0.2 -3.5 -0.9 -3.5 -1.7 -3.5 -2.8 -2.8 -3.2 -2.1 -3.5 -1.3 -4 -0.4 -4 0.5 -4 1.3 -4 1.8 -3.5 2.4 -3 2.6 -2.1 3.5 -1.8zM349.6 157.7l3.9 -0.4 4 0.4 3.5 1.1 3 1.6 3 2.5 2.8 3.3 2.1 3.5 1.2 3.5 0.5 3.5 -0.3 4 -1.1 4 -1.9 4 -2.3 3 -2.5 2.2 -3.3 1.8 -3.7 1.2 -4 0.6 -4 -0.2 -3.5 -0.9 -3.5 -1.7 -3.5 -2.8 -2.8 -3.2 -2.1 -3.5 -1.3 -4 -0.4 -4 0.5 -4 1.3 -4 1.8 -3.5 2.4 -3 2.6 -2.1 3.5 -1.8zM283 169.7l0 -0.4 0.5 0 4 0.6 3 1.1 2.5 1.4 2.3 1.8 2.2 2.3 2 2.7 1.4 2.5 0.9 2.5 0.6 2.5 0.2 2.5 -0.2 3 -0.7 3 -0.9 2.5 -1.3 2.6 -1.6 2.4 -14.9 0zM467.5 201.7l4.5 -0.4 0 1.4 -8.2 0z"/>
<path fill="#229284" stroke="#062018" stroke-opacity="0.38" stroke-width="0.5" fill-rule="evenodd" d="M458.9 16.6l0.5 -0.5 12.6 0 0 31.8 -2.5 -0.3 -2.5 -0.6 -2.5 -1 -2 -1.3 -2 -1.6 -2 -2.1 -1.7 -2.4 -1.3 -2.5 -0.9 -2.5 -0.4 -2.5 -0.1 -2.5 0.3 -2.5 0.6 -2.5 1 -2.6 1.4 -2.4zM398.9 23.1l3.6 -0.1 3.5 0.5 3 1.1 3 1.8 2.9 2.7 2.3 3 1.5 3 1 3.5 0.2 3.5 -0.4 3.5 -1.2 3.5 -1.9 3.5 -2.2 2.5 -2.7 2.1 -3.5 1.6 -3.5 0.8 -3.5 0.3 -3.5 -0.5 -3.5 -1.2 -3 -1.8 -3 -2.8 -2.2 -3 -1.5 -3 -1 -3.5 -0.2 -3.5 0.6 -4 1.3 -3.6 2 -3.3 2.5 -2.6 2.5 -1.8 3.5 -1.5zM327.9 35.1l3.6 -0.1 3.5 0.5 3 1.1 3 1.8 2.9 2.7 2.3 3 1.5 3 1 3.5 0.2 3.5 -0.5 3.5 -1.1 3.5 -2 3.5 -2.1 2.5 -2.7 2.1 -3.5 1.6 -3.5 0.8 -3.5 0.3 -3.5 -0.5 -3.5 -1.2 -3 -1.8 -3 -2.8 -2.2 -3 -1.5 -3 -1 -3.5 -0.2 -3.5 0.6 -4 1.3 -3.6 2 -3.3 2.5 -2.6 2.5 -1.8 3.5 -1.5zM445.7 79.1l3.8 -0.1 3.5 0.5 3 1.1 3 1.8 3 2.7 2.2 3 1.5 3 1 3.5 0.2 3.5 -0.5 3.5 -1.1 3.5 -2 3.5 -2.1 2.6 -2.7 2 -3 1.4 -3.5 1 -3.5 0.3 -3.5 -0.4 -3.5 -1.1 -3 -1.7 -3 -2.5 -2.4 -3.1 -1.8 -3.5 -1 -3.5 -0.2 -3.5 0.5 -3.5 1.1 -3.5 2 -3.5 2.3 -2.6 3 -2.2 3 -1.3zM374.6 91.1l3.9 -0.1 3.5 0.5 3 1.1 3 1.8 3 2.7 2.2 3 1.5 3 1 3.5 0.2 3.6 -0.5 3.5 -1.1 3.5 -2 3.5 -2.2 2.5 -2.6 2 -3 1.4 -3.5 1 -3.5 0.3 -3.5 -0.4 -3.5 -1.1 -3 -1.7 -3 -2.5 -2.4 -3 -1.8 -3.5 -1 -3.5 -0.2 -3.6 0.5 -3.5 1.1 -3.5 2 -3.5 2.2 -2.5 2.6 -2 3.5 -1.6zM303.6 103.1l3.4 -0.2 3.5 0.5 3.5 1.2 3 1.8 3 2.7 2.2 3.1 1.5 3 1 3.5 0.2 3.5 -0.5 3.5 -1.1 3.5 -2 3.5 -2.2 2.5 -2.6 2 -3 1.4 -3.5 1 -3.5 0.3 -3.5 -0.4 -3.5 -1.1 -3 -1.7 -3 -2.5 -2.4 -3 -1.8 -3.5 -1 -3.5 -0.2 -3.5 0.5 -3.5 1.1 -3.5 2 -3.5 2.1 -2.6 2.7 -2 3.5 -1.6zM421.4 147.2l3.6 -0.3 3.5 0.5 3 1 3 1.7 3 2.5 2.4 3.1 1.6 3 1.1 3.5 0.3 3.5 -0.4 3.7 -1.2 3.8 -1.8 3.2 -2.4 2.8 -2.6 2 -3 1.4 -3.5 1 -3.5 0.3 -3.5 -0.4 -3.5 -1.1 -3 -1.7 -3 -2.5 -2.4 -3 -1.8 -3.5 -1 -3.5 -0.2 -3.5 0.5 -3.5 1.1 -3.5 2 -3.5 2.1 -2.5 2.7 -2.1 3.5 -1.6zM350.4 159.2l3.6 -0.3 3.5 0.5 3 1 3 1.7 3 2.5 2.4 3.1 1.6 3 1.1 3.5 0.3 3.5 -0.4 3.5 -1 3.5 -1.9 3.5 -2.1 2.6 -2.5 2 -3 1.6 -3.5 1.1 -3.5 0.4 -3.5 -0.3 -3.5 -1 -3 -1.5 -3 -2.4 -2.5 -3 -2 -3.5 -1.1 -3.5 -0.3 -3.5 0.4 -4 1.2 -3.5 1.9 -3.5 2.2 -2.5 2.7 -2.1 3 -1.4zM283 171.2l0 -0.3 1.5 0.1 3.1 0.7 2.6 1 2.5 1.5 2.3 1.9 1.8 2.1 1.7 2.5 1.2 2.5 0.8 2.5 0.4 2.5 0 2.5 -0.4 2.5 -0.6 2.5 -1.1 2.5 -1.5 2.5 -1.7 2 -12.6 0z"/>
<path fill="#1d8487" stroke="#062018" stroke-opacity="0.38" stroke-width="0.5" fill-rule="evenodd" d="M461.3 16.6l0.6 -0.5 10.1 0 0 30.1 -2.5 -0.3 -2 -0.5 -2.5 -1 -2 -1.3 -2 -1.7 -2 -2.3 -1.3 -2 -1.1 -2.5 -0.5 -2 -0.4 -2.5 0.1 -2.5 0.4 -2.5 0.8 -2.3 1 -2.2 1.5 -2.1zM400.2 24.6l3.3 0.1 3 0.7 3 1.3 2.5 1.8 2.5 2.6 1.7 2.5 1.3 3 0.7 3.5 0 3 -0.7 3.5 -1.2 3 -2 3 -2.3 2.2 -2.5 1.6 -3 1.2 -3.5 0.6 -3.5 -0.1 -3 -0.7 -3 -1.3 -2.5 -1.8 -2.5 -2.6 -1.8 -2.6 -1.2 -3 -0.7 -3.5 0 -3 0.7 -3.5 1.3 -3 2 -3 2.2 -2.1 3 -1.8 3 -1.1zM329.1 36.6l3.4 0.1 3 0.7 3 1.3 2.5 1.8 2.5 2.6 1.7 2.5 1.3 3 0.7 3.5 0 3 -0.7 3.5 -1.2 3 -1.8 2.7 -2.3 2.3 -2.7 1.8 -3 1.2 -3 0.5 -3.5 0.1 -3 -0.6 -3 -1.2 -2.6 -1.8 -2.4 -2.3 -2 -2.7 -1.4 -3 -0.8 -3.5 -0.1 -3 0.7 -3.5 1.1 -3 2 -3.1 2.4 -2.4 2.6 -1.7 3 -1.2zM446.8 80.6l3.2 0 3 0.6 3 1.2 2.6 1.7 2.4 2.4 2 2.7 1.4 2.9 0.8 3.5 0.1 3 -0.7 3.5 -1.1 3.1 -1.9 2.9 -2.1 2.3 -2.6 1.8 -2.9 1.2 -3.5 0.7 -3.5 0.1 -3 -0.6 -3 -1.2 -2.6 -1.7 -2.4 -2.4 -2 -2.7 -1.4 -3 -0.8 -3.5 -0.1 -3 0.7 -3.5 1.4 -3.5 1.7 -2.6 2.3 -2.4 2.7 -1.7 3 -1.2zM375.7 92.6l3.3 0 3 0.6 3 1.2 2.6 1.7 2.4 2.4 2 2.7 1.4 2.9 0.8 3.5 0.1 3.1 -0.7 3.5 -1.1 3 -1.9 3 -2.1 2.2 -2.6 1.8 -2.9 1.2 -3.5 0.7 -3.5 0.1 -3 -0.6 -3 -1.2 -2.6 -1.7 -2.4 -2.4 -2 -2.7 -1.4 -2.9 -0.8 -3.5 -0.1 -3.1 0.7 -3.5 1.3 -3.5 1.8 -2.6 2.3 -2.4 2.7 -1.7 3 -1.2zM304.6 104.6l3.4 0 3 0.6 3 1.2 2.6 1.7 2.4 2.4 2 2.7 1.4 3 0.8 3.5 0.1 3 -0.7 3.5 -1.1 3 -1.9 3 -2.1 2.2 -2.5 1.7 -3 1.3 -3 0.7 -3.5 0.1 -3 -0.5 -3 -1.1 -3 -1.9 -2.5 -2.4 -2 -2.7 -1.4 -2.9 -0.8 -3.5 -0.1 -3 0.7 -3.5 1.3 -3.5 1.8 -2.7 2.3 -2.4 2.7 -1.7 3 -1.2zM422.4 148.7l3.6 -0.1 3 0.6 3 1.2 2.5 1.7 2.5 2.4 2 2.7 1.4 3 0.7 3 0.2 3 -0.5 3.5 -1.1 3 -1.7 3 -2 2.2 -2.5 1.9 -3 1.4 -3.5 0.9 -3.5 0.1 -3 -0.5 -3 -1.1 -2.5 -1.5 -2.5 -2.2 -2.1 -2.7 -1.6 -3 -0.9 -3.5 -0.2 -3.5 0.6 -3.5 1.2 -3.1 1.8 -2.9 2.2 -2.3 2.5 -1.7 3 -1.3zM351.4 160.7l3.1 -0.1 3.5 0.6 3 1.2 2.5 1.7 2.5 2.4 2 2.7 1.4 3 0.7 3 0.2 3 -0.5 3.5 -1.1 3 -1.7 3 -2 2.2 -2.5 1.9 -3 1.4 -3.5 0.9 -3.5 0.1 -3 -0.5 -3 -1.1 -2.5 -1.5 -2.5 -2.2 -2.1 -2.7 -1.6 -3 -0.9 -3.5 -0.2 -3.5 0.6 -3.5 1.2 -3.1 1.8 -2.9 2.2 -2.3 2.5 -1.7 3 -1.3zM283 172.7l2 0.1 2.5 0.6 2.5 1 2 1.3 2 1.7 2 2.3 1.3 2 1.1 2.5 0.6 2.5 0.3 2.5 -0.1 2.5 -0.6 2.5 -0.9 2.5 -1.2 2.2 -1.5 2 -1.9 1.8 -10.1 0z"/>
<path fill="#1a7488" stroke="#062018" stroke-opacity="0.38" stroke-width="0.5" fill-rule="evenodd" d="M464.1 16.6l0.8 -0.5 7.1 0 0 28.5 -2.5 -0.3 -2.1 -0.7 -2.4 -1.1 -1.9 -1.4 -1.6 -1.5 -1.6 -2 -1.1 -2 -0.9 -2.5 -0.4 -2 -0.1 -2.5 0.3 -2.5 0.7 -2.5 1 -2 1.3 -2 1.4 -1.5zM397.8 26.6l3.2 -0.4 3 0.2 3 0.9 2.4 1.3 2.1 1.6 2.1 2.4 1.5 2.5 1.1 3 0.4 3 -0.2 3 -0.8 3 -1.2 2.5 -1.9 2.5 -2 1.7 -2.5 1.4 -2.5 0.9 -3 0.5 -3 -0.2 -3 -0.7 -2.5 -1.2 -2.5 -1.9 -2 -2.2 -1.5 -2.4 -1.1 -2.9 -0.5 -3 0.1 -3 0.7 -3 1.3 -2.7 1.7 -2.3 2.3 -2.1 2.5 -1.4zM326.8 38.6l2.7 -0.4 3 0.2 3 0.7 2.5 1.2 2.5 1.9 2 2.2 1.5 2.4 1.1 2.8 0.5 3 -0.1 3 -0.7 3 -1.1 2.5 -1.8 2.5 -2.2 2 -2.4 1.5 -2.8 1 -3 0.5 -3 -0.2 -3 -0.7 -2.5 -1.2 -2.5 -1.9 -2 -2.2 -1.5 -2.4 -1.1 -2.9 -0.5 -3 0.1 -3 0.7 -3 1.3 -2.7 1.7 -2.3 2.3 -2.1 2.5 -1.4zM444.7 82.6l2.8 -0.4 3 0.2 3 0.7 2.5 1.2 2.4 1.8 2.1 2.3 1.5 2.4 1.1 2.8 0.5 3 -0.1 3 -0.7 3 -1.2 2.5 -1.6 2.4 -2 1.9 -2.5 1.6 -2.5 1 -3 0.5 -3 0 -3 -0.7 -2.5 -1 -2.5 -1.8 -2.3 -2.4 -1.6 -2.5 -1.2 -3 -0.5 -3 0.1 -3 0.7 -3 1.3 -2.7 1.6 -2.3 2.4 -2.1 2.5 -1.4zM373.7 94.6l2.8 -0.4 3 0.2 3 0.7 2.5 1.2 2.4 1.8 2.1 2.3 1.5 2.4 1.1 2.8 0.5 3 -0.1 3.1 -0.7 3 -1.2 2.5 -1.6 2.3 -2 1.9 -2.5 1.6 -2.5 1 -3 0.5 -3 0 -3 -0.7 -2.5 -1 -2.5 -1.8 -2.3 -2.3 -1.6 -2.5 -1.2 -3 -0.5 -3 0.1 -3.1 0.7 -3 1.3 -2.7 1.6 -2.3 2.2 -2 2.7 -1.5zM302.7 106.6l2.8 -0.4 3 0.2 3 0.7 2.5 1.2 2.4 1.9 2.1 2.2 1.5 2.4 1.1 2.9 0.5 3 -0.1 3 -0.7 3 -1.2 2.5 -1.6 2.3 -2 1.9 -2.5 1.6 -2.5 1 -3 0.5 -3 0 -3 -0.7 -2.5 -1 -2.5 -1.8 -2.3 -2.3 -1.6 -2.5 -1.2 -3 -0.5 -3 0.1 -3 0.7 -3 1.3 -2.8 1.6 -2.2 2.2 -2.1 2.5 -1.5zM420.6 150.7l2.9 -0.5 3 0.2 3 0.7 2.5 1.2 2.5 1.9 2 2.2 1.5 2.4 1.1 2.9 0.5 3 -0.1 3 -0.7 3 -1.2 2.5 -1.6 2.3 -2 1.9 -2.5 1.6 -2.5 1 -3 0.5 -3 0 -3 -0.7 -2.5 -1 -2.5 -1.8 -2.3 -2.3 -1.6 -2.5 -1.2 -3 -0.5 -3 0.1 -3 0.7 -3 1.3 -2.8 1.6 -2.2 2.2 -2 2.4 -1.5zM349.5 162.7l3 -0.5 3 0.2 3 0.7 2.5 1.2 2.5 1.9 2 2.2 1.5 2.4 1.1 2.9 0.5 3 -0.1 3 -0.7 3 -1.2 2.5 -1.6 2.3 -2 1.9 -2.5 1.6 -2.5 1 -3 0.5 -3 0 -3 -0.7 -2.5 -1 -2.5 -1.8 -2.3 -2.3 -1.6 -2.5 -1.2 -3 -0.5 -3 0.1 -3 0.7 -3 1.1 -2.5 1.8 -2.5 2.1 -2 2.5 -1.5zM283 174.7l0 -0.5 0.5 0.1 3.5 0.7 2.5 1 2.4 1.7 2 2 1.5 2 1.1 2.2 0.7 2.3 0.4 2.5 -0.1 2.5 -0.4 2.5 -0.7 2 -1.1 2 -1.5 2 -1.8 1.7 -1.9 1.3 -7.1 0z"/>
<path fill="#17658a" stroke="#062018" stroke-opacity="0.38" stroke-width="0.5" fill-rule="evenodd" d="M468.1 16.6l2 -0.5 1.9 0 0 26.8 -2.5 -0.4 -2 -0.7 -2 -1 -2 -1.6 -1.5 -1.6 -1.3 -2 -0.9 -2 -0.6 -2.5 -0.1 -2 0.2 -2.5 0.8 -2.5 1 -2 1.4 -1.9 1.5 -1.4 2 -1.3zM399.1 28.1l2.9 -0.2 2.5 0.4 2.5 0.9 2 1.2 2 1.7 1.6 2 1.4 2.5 0.7 2.5 0.2 2.5 -0.2 2.5 -0.7 2.5 -1.4 2.5 -1.6 2 -1.8 1.5 -2.2 1.2 -2.5 0.8 -2.5 0.3 -2.5 -0.2 -2.5 -0.7 -2.5 -1.2 -2.1 -1.7 -1.7 -2 -1.5 -2.5 -0.8 -2.5 -0.3 -2.5 0.2 -3 0.8 -2.5 1.3 -2.5 1.6 -1.9 2 -1.6 2.5 -1.3zM328 40.1l2.5 -0.2 2.5 0.3 2.5 0.8 2.5 1.4 2 1.7 1.6 2 1.4 2.5 0.7 2.5 0.2 2.5 -0.2 2.5 -0.7 2.5 -1.4 2.5 -1.6 2 -1.8 1.5 -2.2 1.2 -2.5 0.8 -2.5 0.3 -2.5 -0.2 -2.5 -0.7 -2.5 -1.2 -2.1 -1.7 -1.7 -2 -1.5 -2.5 -0.8 -2.5 -0.3 -2.5 0.2 -3 0.8 -2.5 1.3 -2.5 1.6 -1.9 2 -1.6 2.5 -1.3zM445.9 84.1l2.6 -0.2 2.5 0.3 2.5 0.8 2.2 1.1 1.9 1.5 1.9 2.3 1.3 2.2 0.8 2.5 0.3 2.5 -0.1 2.5 -0.7 2.5 -1.2 2.5 -1.5 2 -1.9 1.8 -2.5 1.4 -2.5 0.8 -2.5 0.3 -2.5 -0.2 -2.5 -0.7 -2.5 -1.2 -2.1 -1.7 -1.7 -2 -1.5 -2.5 -0.8 -2.5 -0.3 -2.5 0.2 -3 0.8 -2.5 1.3 -2.5 1.6 -1.9 2 -1.6 2.5 -1.3zM374.9 96.1l2.6 -0.2 2.5 0.3 2.5 0.8 2.2 1.1 1.9 1.5 1.9 2.3 1.3 2.2 0.8 2.5 0.3 2.5 -0.1 2.6 -0.7 2.5 -1.2 2.5 -1.5 2 -1.9 1.7 -2.5 1.4 -2.5 0.8 -2.5 0.3 -2.5 -0.2 -2.5 -0.7 -2.5 -1.2 -2.1 -1.6 -1.7 -2 -1.5 -2.5 -0.8 -2.5 -0.3 -2.5 0.2 -3.1 0.8 -2.5 1.3 -2.5 1.6 -1.9 2 -1.6 2.5 -1.3zM303.8 108.1l2.7 -0.2 2.5 0.3 2.5 0.8 2.2 1.2 1.9 1.5 1.9 2.2 1.3 2.3 0.8 2.5 0.3 2.5 -0.1 2.5 -0.7 2.5 -1.2 2.5 -1.5 2 -1.9 1.7 -2.5 1.4 -2.5 0.8 -2.5 0.3 -2.5 -0.2 -2.5 -0.7 -2.5 -1.2 -2.1 -1.6 -1.7 -2 -1.5 -2.5 -0.8 -2.5 -0.3 -2.5 0.2 -3 0.8 -2.5 1.3 -2.5 1.6 -2 2 -1.6 2.5 -1.3zM421.7 152.2l2.8 -0.3 2.5 0.3 2.5 0.8 2.2 1.2 1.9 1.5 1.9 2.2 1.3 2.3 0.8 2.5 0.3 2.5 -0.1 2.5 -0.7 2.5 -1.2 2.5 -1.5 2 -1.9 1.7 -2.5 1.4 -2.5 0.8 -2.5 0.3 -2.5 -0.2 -2.5 -0.7 -2.5 -1.2 -2 -1.6 -1.8 -2 -1.4 -2.5 -0.9 -2.5 -0.3 -2.5 0.2 -3 0.7 -2.5 1.4 -2.5 1.6 -2 2 -1.6 2.5 -1.3zM350.7 164.2l2.8 -0.3 2.5 0.3 2.5 0.8 2.2 1.2 1.9 1.5 1.9 2.2 1.3 2.3 0.8 2.5 0.3 2.5 -0.1 2.5 -0.7 2.5 -1.2 2.5 -1.5 2 -1.9 1.7 -2.5 1.4 -2.5 0.8 -2.5 0.3 -2.5 -0.2 -2.5 -0.7 -2.5 -1.2 -2 -1.6 -1.8 -2 -1.4 -2.5 -0.9 -2.5 -0.3 -2.5 0.2 -3 0.7 -2.5 1.4 -2.5 1.6 -2 2 -1.6 2 -1.1zM283 176.2l0 -0.3 1.5 0.2 3 0.9 2.2 1.2 1.9 1.5 1.7 2 1.2 2 1 2.5 0.4 2.5 -0.1 2.5 -0.5 2.5 -0.8 2 -1.5 2.3 -1.6 1.7 -1.9 1.3 -2 1 -2.6 0.7 -1.9 0z"/>
<path fill="#19528a" stroke="#062018" stroke-opacity="0.38" stroke-width="0.5" fill-rule="evenodd" d="M469.4 18.1l2.6 -0.4 0 23.3 -2 -0.2 -2 -0.7 -1.8 -1 -1.7 -1.4 -1.4 -1.6 -0.9 -1.5 -0.8 -2 -0.4 -2 -0.1 -2 0.3 -2 0.6 -2 1.1 -2 1.3 -1.5 1.8 -1.5 1.5 -0.8zM398.4 30.1l2.1 -0.3 2.5 0.1 2 0.4 2 0.9 2 1.4 1.4 1.5 1.4 2 0.8 2 0.4 2 0.1 2.5 -0.5 2.5 -0.9 2 -1.2 1.8 -1.5 1.6 -2 1.3 -2 0.8 -2 0.4 -2.5 0 -2.5 -0.5 -2 -0.9 -2 -1.4 -1.5 -1.6 -1.3 -2 -0.8 -2 -0.4 -2 -0.1 -2.5 0.6 -2.5 0.8 -2 1.4 -2 1.6 -1.5 1.7 -1.1zM327.4 42.1l2.1 -0.3 2.5 0.1 2 0.4 2 0.9 2 1.4 1.4 1.5 1.4 2 0.8 2 0.4 2 0.1 2.5 -0.5 2.5 -0.9 2 -1.2 1.8 -1.5 1.6 -2 1.3 -2 0.8 -2 0.4 -2.5 0 -2.5 -0.5 -2 -0.9 -2 -1.4 -1.5 -1.6 -1.3 -2 -0.8 -2 -0.4 -2 -0.1 -2.5 0.5 -2.5 0.9 -2 1.4 -2 1.6 -1.5 1.7 -1.1zM445.3 86.1l2.2 -0.3 2 0 2.5 0.5 2 0.9 2 1.4 1.5 1.5 1.3 2 0.8 2 0.4 2 0.1 2.5 -0.5 2.5 -0.9 2 -1.2 1.8 -1.5 1.6 -2 1.3 -2 0.8 -2 0.4 -2.5 0 -2.5 -0.5 -2 -0.9 -2 -1.4 -1.5 -1.6 -1.3 -2 -0.8 -2 -0.4 -2 -0.1 -2.5 0.5 -2.5 0.9 -2 1.4 -2 1.6 -1.5 1.7 -1.1zM374.2 98.1l2.3 -0.3 2 0 2.5 0.5 2 0.9 2 1.4 1.5 1.5 1.3 2 0.8 2 0.4 2 0.1 2.6 -0.5 2.5 -0.9 2 -1.2 1.7 -1.5 1.6 -2 1.3 -2 0.8 -2 0.4 -2.5 0 -2.5 -0.5 -2 -0.9 -2 -1.4 -1.5 -1.5 -1.3 -2 -0.8 -2 -0.4 -2 -0.1 -2.6 0.5 -2.5 0.9 -2 1.4 -2 1.5 -1.5 1.8 -1.1zM303.2 110.2l2.3 -0.4 2 0 2.5 0.5 2 0.9 2 1.4 1.5 1.6 1.3 2 0.8 2 0.4 2 0.1 2.5 -0.5 2.5 -0.9 2 -1.2 1.7 -1.5 1.6 -2 1.3 -2 0.8 -2 0.4 -2.5 0 -2.5 -0.5 -2 -0.9 -2 -1.4 -1.5 -1.5 -1.3 -2 -0.8 -2 -0.4 -2 -0.1 -2.5 0.5 -2.5 0.9 -2 1.4 -2 1.5 -1.5 1.8 -1.2zM421.1 154.2l2.4 -0.4 2 0 2.5 0.5 2 0.9 2 1.4 1.5 1.6 1.3 2 0.8 2 0.4 2 0.1 2.5 -0.5 2.5 -0.9 2 -1.2 1.7 -1.5 1.6 -2 1.3 -2 0.8 -2 0.4 -2.5 0 -2.5 -0.5 -2 -0.9 -2 -1.4 -1.4 -1.5 -1.4 -2 -0.8 -2 -0.4 -2 -0.1 -2.5 0.5 -2.5 0.9 -2 1.3 -2 1.6 -1.5 1.8 -1.2zM350.1 166.2l2.4 -0.4 2 0 2.5 0.5 2 0.9 2 1.4 1.5 1.6 1.3 2 0.8 2 0.4 2 0.1 2.5 -0.6 2.5 -0.8 2 -1.2 1.7 -1.5 1.6 -2 1.3 -2 0.8 -2 0.4 -2.5 0 -2.5 -0.5 -2 -0.9 -2 -1.4 -1.4 -1.5 -1.4 -2 -0.8 -2 -0.4 -2 -0.1 -2.5 0.5 -2.5 0.9 -2 1.3 -2 1.6 -1.5 1.8 -1.2zM283 178.2l0 -0.4 0.5 0 3 0.7 2.3 1.2 1.8 1.5 1.6 2 1.1 2 0.6 2 0.2 2.5 -0.3 2.5 -0.6 2 -1.1 2 -1.3 1.5 -1.8 1.5 -1.9 1 -2.1 0.6 -2 0.3z"/>
<path fill="#193880" stroke="#062018" stroke-opacity="0.38" stroke-width="0.5" fill-rule="evenodd" d="M469.6 20.1l2.4 -0.4 0 19.4 -3 -0.7 -1.5 -0.8 -1.5 -1.1 -2 -2.6 -1.1 -3.3 0 -2 0.2 -1.5 1.2 -3 2.2 -2.4 1.5 -1zM398.5 32.1l2 -0.4 2 0.1 2 0.4 1.5 0.7 1.5 1 1.5 1.5 1 1.5 0.7 1.7 0.4 2 0 2 -0.4 2 -0.7 1.5 -1 1.6 -1.5 1.4 -1.5 1 -1.5 0.6 -2 0.4 -2 -0.1 -1.9 -0.4 -1.6 -0.7 -1.5 -1 -1.5 -1.5 -1 -1.5 -0.7 -1.8 -0.4 -2 0 -2 0.5 -2 0.6 -1.5 1 -1.5 1.5 -1.4 1.5 -1zM327.5 44.1l2 -0.4 2 0.1 2 0.4 1.5 0.7 1.5 1 1.5 1.5 1 1.5 0.7 1.7 0.4 2 0 2 -0.4 2 -0.7 1.5 -1 1.6 -1.5 1.4 -1.5 1 -1.5 0.6 -2 0.4 -2 -0.1 -1.8 -0.4 -1.7 -0.7 -1.5 -1 -1.5 -1.5 -1 -1.5 -0.7 -1.8 -0.4 -2 0 -2 0.5 -2 0.6 -1.5 1 -1.5 1.5 -1.4 1.5 -1zM445.4 88.1l2.1 -0.4 2 0.1 2 0.4 1.5 0.7 1.5 1 1.5 1.5 1 1.5 0.7 1.7 0.4 2 0 2 -0.4 2 -0.7 1.5 -1 1.6 -1.5 1.4 -1.5 1 -1.5 0.6 -2 0.4 -2 -0.1 -2 -0.4 -1.5 -0.7 -1.5 -1 -1.5 -1.5 -1 -1.5 -0.7 -1.8 -0.4 -2 0 -2 0.4 -2 0.7 -1.5 1 -1.5 1.5 -1.4zM374.4 100.1l1.6 -0.3 2 -0.1 2 0.4 1.5 0.5 1.5 0.9 1.5 1.3 1 1.3 1 2 0.6 2 0 2.1 -0.3 2 -0.5 1.5 -0.9 1.5 -1.3 1.5 -1.6 1.1 -1.5 0.7 -2 0.5 -2 0.1 -2 -0.4 -1.5 -0.5 -1.5 -0.9 -1.5 -1.3 -1 -1.3 -1 -2 -0.6 -2 0 -2.1 0.3 -2 0.5 -1.5 0.9 -1.5 1.4 -1.5 1.5 -1.1zM303.4 112.2l1.6 -0.4 2 -0.1 2 0.4 1.5 0.6 1.5 0.8 1.5 1.3 1 1.4 1 2 0.6 2 0 2 -0.3 2 -0.5 1.5 -0.9 1.5 -1.4 1.5 -1.5 1.1 -1.5 0.7 -2 0.5 -2 0.1 -2 -0.4 -1.5 -0.5 -1.5 -0.9 -1.5 -1.3 -1 -1.3 -1 -2 -0.6 -2 0 -2 0.3 -2 0.5 -1.5 0.9 -1.5 1.4 -1.6 1.5 -1.1zM421.3 156.2l1.7 -0.4 2 -0.1 2 0.4 1.5 0.5 1.5 0.9 1.5 1.3 1 1.4 1.1 2 0.5 2 0 2 -0.3 2 -0.6 1.5 -0.8 1.5 -1.4 1.5 -1.5 1.1 -1.5 0.7 -2 0.5 -2 0.1 -2 -0.4 -1.5 -0.5 -1.6 -1 -1.4 -1.2 -1 -1.3 -1 -2 -0.6 -2 0 -2 0.3 -2 0.5 -1.5 0.9 -1.5 1.4 -1.6 1.5 -1.1zM350.3 168.2l1.7 -0.4 2 -0.1 2 0.4 1.5 0.5 1.5 0.9 1.5 1.3 1 1.4 1.1 2 0.5 2 0 2 -0.3 2 -0.6 1.5 -0.8 1.5 -1.4 1.5 -1.5 1.1 -1.5 0.7 -2 0.5 -2 0.1 -2 -0.4 -1.5 -0.5 -1.6 -1 -1.4 -1.2 -1 -1.3 -1 -2 -0.6 -2 0 -2 0.3 -2 0.5 -1.5 0.9 -1.5 1.4 -1.6 1.5 -1.1zM283 180.2l0 -0.5 3 0.7 2 1.1 1.4 1.2 1.2 1.5 0.9 1.8 0.5 1.7 0.2 2 -0.3 2 -0.4 1.5 -0.8 1.5 -1.2 1.5 -1.5 1.3 -1.5 0.8 -1.5 0.5 -2 0.3z"/>
<path fill="#1a1f75" stroke="#062018" stroke-opacity="0.38" stroke-width="0.5" fill-rule="evenodd" d="M470.6 22.1l1.4 -0.2 0 15 -2.5 -0.7 -2.3 -1.6 -1.4 -2 -0.7 -2.5 0.1 -2.5 1.1 -2.5 1.7 -1.8zM399.5 34.1l3 -0.1 1.5 0.4 1.5 0.7 2.1 2 1.1 2.5 0.3 1.5 -0.1 1.5 -0.9 2.6 -1 1.4 -1 0.9 -2.5 1.2 -1.5 0.2 -1.5 -0.1 -1.5 -0.4 -1.5 -0.7 -2.1 -2.1 -1.2 -2.5 -0.2 -1.5 0.1 -1.5 0.9 -2.5 1 -1.4 1 -0.9zM328.5 46.1l1.5 -0.2 1.5 0.1 1.5 0.4 1.5 0.7 2.1 2 1.1 2.5 0.3 1.5 -0.1 1.5 -0.9 2.6 -1 1.4 -1 0.9 -2.5 1.2 -1.5 0.2 -1.5 -0.1 -1.5 -0.4 -1.5 -0.7 -2.1 -2.1 -1.2 -2.5 -0.2 -1.5 0.1 -1.5 0.9 -2.5 1 -1.4 1 -0.9zM446.4 90.1l1.6 -0.2 1.5 0.1 2.5 0.8 1.5 1.1 1 1.1 1.2 2.6 0.3 1.5 -0.1 1.5 -0.9 2.6 -1 1.4 -1 0.9 -2.5 1.2 -1.5 0.2 -1.5 -0.1 -1.5 -0.4 -1.5 -0.7 -2.1 -2.1 -1.2 -2.5 -0.2 -1.5 0.1 -1.5 0.9 -2.5 1 -1.4 1 -0.9zM375.4 102.1l1.6 -0.2 1.5 0.1 2.5 0.8 1.5 1.1 1 1.1 1.3 2.6 0.2 1.5 -0.1 1.6 -0.9 2.5 -1 1.4 -1 0.9 -2.5 1.2 -1.5 0.2 -1.5 -0.1 -1.5 -0.4 -1.5 -0.7 -2.1 -2 -1.2 -2.5 -0.2 -1.5 0.1 -1.6 0.9 -2.5 1 -1.4 1 -0.9zM304.4 114.2l1.6 -0.3 1.5 0.1 2.5 0.8 1.5 1.1 1 1.1 1.3 2.7 0.2 1.5 -0.1 1.5 -0.9 2.5 -1 1.4 -1 0.9 -2.5 1.2 -1.5 0.2 -1.5 -0.1 -1.5 -0.4 -1.5 -0.7 -2.1 -2 -1.1 -2.5 -0.3 -1.5 0.1 -1.5 0.8 -2.5 1.1 -1.5 1 -0.9zM422.3 158.2l2.7 -0.3 1.5 0.3 1.5 0.6 2.2 1.9 1.4 2.5 0.3 1.5 0.1 1.5 -0.7 2.5 -0.8 1.3 -1 1.1 -2.5 1.4 -1.5 0.4 -1.5 0 -2.6 -0.7 -2.4 -1.8 -0.9 -1.2 -0.7 -1.5 -0.3 -1.5 -0.1 -1.5 0.3 -1.5 0.6 -1.5 1.6 -2 1.5 -1zM351.3 170.2l2.7 -0.3 1.5 0.3 1.5 0.6 2.2 1.9 1.4 2.5 0.3 1.5 0.1 1.5 -0.7 2.5 -0.8 1.3 -1 1.1 -2.5 1.4 -1.5 0.4 -1.5 0 -2.6 -0.7 -2.4 -1.8 -0.9 -1.2 -0.7 -1.5 -0.3 -1.5 -0.1 -1.5 0.3 -1.5 0.6 -1.5 1.6 -2 1.5 -1zM283 182.2l0 -0.3 0.5 0.1 2 0.6 1.5 0.9 1 0.9 1.4 2.3 0.5 1.5 0.1 1.5 -0.5 2.5 -1.6 2.5 -2.4 1.6 -2.5 0.6z"/>
<path fill="#1d0e66" stroke="#062018" stroke-opacity="0.38" stroke-width="0.5" fill-rule="evenodd" d="M471.1 24.6l0.9 -0.2 0 9.9 -1.5 -0.4 -1.5 -1 -1 -1.5 -0.5 -1.8 0.2 -1.5 0.8 -1.7 1 -1zM400.1 36.6l1.9 -0.1 2 0.6 1.5 1.4 0.8 1.6 0.1 2 -0.4 1.5 -1.2 1.5 -1.8 1.1 -2 0.1 -2 -0.6 -1.5 -1.4 -0.8 -1.7 -0.1 -2 0.5 -1.5 1.1 -1.5zM329.1 48.6l1.9 -0.1 2 0.6 1.5 1.4 0.8 1.6 0.1 2 -0.4 1.5 -1.2 1.5 -1.8 1.1 -2 0.1 -2 -0.6 -1.5 -1.4 -0.8 -1.7 -0.1 -2 0.5 -1.5 1.1 -1.5zM447 92.6l2 -0.1 2 0.6 1.5 1.4 0.8 1.6 0.1 2 -0.4 1.5 -1.2 1.5 -1.8 1.1 -2 0.1 -2 -0.6 -1.5 -1.4 -0.8 -1.7 -0.1 -2 0.4 -1.5 1.2 -1.5zM376 104.6l2 -0.1 2 0.6 1.5 1.4 0.8 1.6 0.1 2.1 -0.4 1.5 -1.2 1.5 -1.8 1 -2 0.1 -2 -0.6 -1.5 -1.4 -0.8 -1.6 -0.1 -2.1 0.4 -1.5 1.2 -1.5zM304.9 116.7l2.1 -0.2 2 0.6 1.5 1.4 0.8 1.7 0.1 2 -0.4 1.5 -1.2 1.5 -1.8 1 -2 0.1 -2 -0.6 -1.5 -1.4 -0.8 -1.6 -0.1 -2 0.4 -1.5 1.2 -1.5zM422.9 160.7l1.6 -0.3 2 0.5 1.5 1 1.1 1.8 0.4 2 -0.6 2 -1.1 1.5 -1.8 1 -2 0.1 -2 -0.6 -1.5 -1.4 -0.8 -1.6 -0.1 -2 0.4 -1.5 1.2 -1.5zM351.9 172.7l1.6 -0.3 2 0.5 1.5 1 1.1 1.8 0.4 2 -0.6 2 -1.1 1.5 -1.8 1 -2 0.1 -2 -0.6 -1.5 -1.4 -0.8 -1.6 -0.1 -2 0.4 -1.5 1.2 -1.5zM283 184.7l0 -0.2 1.5 0.4 1.7 1.3 0.9 1.5 0.4 2 -0.5 1.9 -1 1.4 -1.5 1 -1.5 0.4z"/>
<rect x="494" y="16.1" width="188.6" height="186.6" fill="#ebe14b"/>
<path fill="#c5da52" stroke="#062018" stroke-opacity="0.38" stroke-width="0.5" fill-rule="evenodd" d="M494 16.1l31.2 0 1.3 2.1 2 1.7 2.5 1.1 2.5 0.3 2.5 -0.3 2.5 -1 2 -1.6 1.6 -2.3 92.6 0 1.1 3 1.1 1.5 1.2 1.2 1.5 1.1 1.5 0.7 3 0.5 3 -0.5 1.5 -0.7 1.5 -1.1 2 -2.7 1 -3 29.5 0 0 50.3 -0.8 2.2 -0.2 2 0.3 2 0.7 2.1 0 100.7 -2 -2.4 -2.5 -1.6 -3 -0.7 -3 0.3 -2.5 1.2 -2.2 2 -1.6 3 -0.4 3 0.4 3 1.3 2.5 2.1 2 2.9 1.3 3 0.3 3 -0.6 2.6 -1.5 1.9 -2.2 0 17.7 -31.2 0 -1.3 -2.1 -2 -1.7 -2.5 -1.1 -2.5 -0.3 -2.5 0.3 -2.5 1 -2 1.6 -1.6 2.3 -92.6 0 -1.1 -3 -1.1 -1.5 -1.2 -1.2 -1.5 -1.1 -1.5 -0.7 -3 -0.5 -3 0.5 -1.5 0.7 -1.5 1.1 -2 2.7 -1 3 -29.5 0 0 -50.3 0.8 -2.2 0.2 -2 -0.3 -2 -0.7 -2.1 0 -100.7 2 2.4 2.5 1.6 3 0.7 3 -0.3 2.5 -1.2 2.2 -2 1.6 -3 0.4 -3 -0.4 -3 -1.3 -2.5 -2.1 -2 -2.9 -1.3 -3 -0.3 -3 0.6 -2.6 1.5 -1.9 2.2zM523.5 153.6l-2 0.5 -1.5 0.8 -1.5 1.1 -1.1 1.2 -0.9 1.5 -0.7 2 -0.2 1.5 0.2 2 0.6 2 0.8 1.5 2.3 2.5 1.5 0.9 2 0.8 1.5 0.2 2 -0.1 2 -0.6 1.5 -0.8 1.5 -1.3 1 -1.1 0.8 -1.5 0.7 -2 0.2 -1.5 0 -2 -0.6 -2 -0.7 -1.5 -1.2 -1.5 -1.2 -1 -1.5 -0.9 -2 -0.6 -1.5 -0.2zM547.5 85.6l-2 0.5 -1.5 0.8 -1.5 1.1 -1.1 1.1 -0.9 1.5 -0.7 2 -0.2 1.5 0.2 2 0.6 2 0.8 1.5 1.1 1.5 1.2 1.1 1.5 0.9 2 0.8 1.5 0.2 2 -0.1 2 -0.6 1.5 -0.8 1.5 -1.3 1 -1.2 0.8 -1.5 0.7 -2 0.2 -2 -0.1 -1.5 -0.5 -2 -0.7 -1.5 -1.2 -1.5 -1.2 -0.9 -1.5 -0.9 -2 -0.6 -1.5 -0.2zM572 17.5l-2 0.5 -1.5 0.6 -1.5 1 -1.5 1.4 -1 1.6 -0.6 1.5 -0.2 1.5 0 2 0.4 2 0.7 1.5 1.1 1.5 1.1 1.2 1.5 1.1 2 0.8 1.5 0.4 2 0 2 -0.5 1.5 -0.7 1.5 -1.1 1.2 -1.2 0.9 -1.5 0.8 -2 0.3 -2 0 -1.5 -0.4 -2 -0.7 -1.5 -1 -1.5 -1.1 -1 -1.5 -1 -2 -0.8 -1.5 -0.3zM594.6 141.6l-2 0.5 -1.5 0.7 -1.5 1.1 -1.2 1.3 -0.9 1.5 -0.7 2 -0.2 1.5 0.2 2 0.6 2 0.8 1.5 1.2 1.5 1.2 1 1.5 1 2 0.7 1.5 0.2 2 -0.1 2 -0.6 1.3 -0.7 1.3 -1 1.3 -1.5 0.8 -1.5 0.7 -2 0.2 -2 -0.1 -1.5 -0.5 -2 -0.7 -1.5 -1.2 -1.5 -1.1 -1 -1.5 -0.9 -2 -0.6 -1.5 -0.2zM618.6 73.6l-2 0.5 -1.5 0.7 -1.5 1.1 -1.2 1.2 -0.9 1.5 -0.7 2 -0.2 1.5 0.2 2 0.6 2 0.7 1.5 1.2 1.5 1.3 1.1 1.5 1 2 0.7 1.5 0.2 2 -0.1 2 -0.6 1.4 -0.8 1.2 -1 1.3 -1.5 0.8 -1.5 0.7 -2 0.2 -2 -0.1 -1.5 -0.5 -2 -0.8 -1.5 -1.2 -1.5 -1 -0.9 -1.5 -0.9 -2 -0.6 -1.5 -0.2zM649.1 47l-1.5 0.6 -1.6 1 -1.4 1.4 -1.1 1.6 -0.6 1.5 -0.5 2 0 2 0.4 2 0.6 1.5 1.2 1.7 1.5 1.3 1.5 0.9 1.5 0.5 2 0.3 1.5 0 2 -0.5 3 -1.6 1.2 -1.1 1.1 -1.5 0.6 -1.5 0.5 -2 -0.1 -2 -0.3 -1.5 -0.9 -2 -1 -1.5 -2.6 -2.2 -1.5 -0.7 -2 -0.5 -2 0zM665.6 129.6l-2 0.5 -1.5 0.7 -1.5 1.1 -1.2 1.3 -0.9 1.5 -0.7 2 -0.2 1.5 0.2 2 0.6 2 0.8 1.5 1.2 1.5 1.2 1.1 1.5 0.9 2 0.7 1.5 0.2 2 -0.1 2 -0.6 1.3 -0.7 1.3 -1 1.3 -1.5 0.8 -1.5 0.7 -2 0.2 -2 -0.1 -1.5 -0.5 -2 -0.7 -1.5 -1.2 -1.5 -1.1 -1 -1.5 -0.8 -2 -0.7 -1.5 -0.2zM507 71l-1.5 0.6 -1.5 1 -1.5 1.5 -1 1.5 -0.6 1.5 -0.5 2 0 2 0.4 2 0.6 1.5 1.1 1.6 1.5 1.4 1.5 0.8 1.5 0.6 2 0.3 1.5 0 2 -0.4 3 -1.6 1.3 -1.2 1 -1.5 0.7 -1.5 0.5 -2 -0.1 -2 -0.3 -1.5 -0.9 -2 -1 -1.5 -1.2 -1.2 -1.5 -1 -1.5 -0.7 -2 -0.5 -2 0zM554 127l-1.5 0.6 -1.6 1.1 -1.4 1.4 -1 1.6 -0.6 1.5 -0.5 2 0 2 0.4 2 0.7 1.5 1 1.5 1.5 1.4 1.5 0.9 1.5 0.5 2 0.3 1.5 0 2 -0.4 3 -1.6 1.2 -1.1 1.1 -1.5 0.7 -1.5 0.5 -2 -0.1 -2 -0.3 -1.5 -0.8 -2 -1.1 -1.5 -1.2 -1.2 -1.5 -1.1 -1.5 -0.7 -2 -0.5 -2 0zM578 59l-1.5 0.6 -1.5 1 -1.5 1.5 -1 1.5 -0.6 1.5 -0.5 2 0 2 0.4 2 0.6 1.5 1.1 1.6 1.5 1.4 1.5 0.9 1.5 0.5 2 0.3 1.5 0 2 -0.4 3 -1.6 1.3 -1.2 1.1 -1.5 0.6 -1.5 0.5 -2 -0.1 -2 -0.3 -1.5 -0.9 -2 -1 -1.5 -2.7 -2.2 -1.5 -0.7 -2 -0.5 -2 0zM603.1 182.7l-2 0.3 -1.5 0.6 -1.5 1 -1.2 1.1 -1.1 1.5 -1 2 -0.4 2 0 1.5 0.3 2 0.5 1.5 0.9 1.5 1.4 1.5 1.6 1 1.5 0.7 2 0.4 1.5 0 2 -0.3 1.5 -0.5 1.5 -0.9 1.6 -1.4 1.1 -1.5 0.7 -1.5 0.4 -1.5 0.1 -2 -0.3 -1.5 -0.7 -2 -0.9 -1.5 -1.3 -1.5 -1.7 -1.3 -1.5 -0.7 -1.5 -0.4zM625.1 115l-1.5 0.6 -1.6 1.1 -1.4 1.3 -1.1 1.7 -0.6 1.5 -0.5 2 0 2 0.4 2 0.7 1.5 1.1 1.6 1.5 1.3 1.5 0.9 1.5 0.5 2 0.3 1.5 0 2 -0.5 3 -1.5 1.1 -1.1 1.1 -1.5 0.7 -1.5 0.5 -2 -0.1 -2 -0.3 -1.5 -0.8 -2 -1.1 -1.5 -1.1 -1.2 -1.5 -1.1 -1.5 -0.7 -2 -0.5 -2 0z"/>
<path fill="#abd558" stroke="#062018" stroke-opacity="0.38" stroke-width="0.5" fill-rule="evenodd" d="M494 16.1l30.2 0 1.4 2.5 2.3 2 2.6 1.2 3 0.4 3 -0.5 3 -1.3 2.1 -1.8 1.6 -2.5 90.6 0 0.6 2 0.7 1.5 1.1 1.5 1.4 1.4 3 1.9 1.5 0.4 2 0.3 2 -0.2 1.5 -0.5 1.5 -0.7 1.5 -1.2 1.3 -1.4 0.9 -1.5 1.2 -3.5 28.6 0 0 48.6 -1.5 2.9 -0.4 3 0.5 3 1.4 2.7 0 97.6 -2.5 -2.3 -3 -1.5 -3 -0.4 -3 0.7 -2.5 1.4 -2.2 2.4 -1.4 3 -0.5 3 0.4 3 1.4 3 2.3 2.2 2.5 1.2 3 0.6 3 -0.3 3 -1.3 2.5 -2 0 16.1 -30.2 0 -1.4 -2.5 -2.3 -2 -2.6 -1.2 -3 -0.4 -3 0.5 -3 1.3 -2.1 1.8 -1.6 2.5 -90.6 0 -0.6 -2 -0.7 -1.5 -1.1 -1.5 -1.4 -1.4 -3 -1.9 -1.5 -0.4 -2 -0.3 -2 0.2 -1.5 0.5 -1.5 0.7 -1.5 1.2 -1.3 1.4 -0.9 1.5 -1.2 3.5 -28.6 0 0 -48.6 1.5 -2.9 0.4 -3 -0.5 -3 -1.4 -2.7 0 -97.6 2.5 2.3 3 1.5 3 0.4 3 -0.7 2.5 -1.4 2.2 -2.4 1.4 -3 0.5 -3 -0.4 -3 -1.4 -3 -2.3 -2.2 -2.5 -1.2 -3 -0.6 -3 0.3 -3 1.3 -2.5 2zM524.5 152.6l-2 0.3 -2 0.7 -1.5 0.9 -1.5 1.2 -1.2 1.5 -0.8 1.5 -0.7 2 -0.1 2 0.3 2 0.7 2 1.1 2 1.2 1.3 1.5 1.3 2 1 2 0.6 2 0.2 2 -0.3 2 -0.8 1.5 -1 1.5 -1.5 1.3 -1.8 0.8 -2 0.4 -2 0.1 -2 -0.3 -2 -0.6 -1.5 -0.9 -1.5 -1.3 -1.5 -1.5 -1.1 -2 -0.9 -2 -0.5zM549 84.6l-2 0.2 -2 0.6 -2 1 -1.4 1.2 -1.3 1.5 -0.8 1.5 -0.6 2 -0.2 2 0.3 2 0.6 2 1.2 2 1.2 1.4 1.5 1.3 2 1 2 0.6 2 0.2 2 -0.3 2 -0.8 1.5 -1 1.4 -1.4 1.1 -1.5 1 -2 0.5 -2 0.1 -2 -0.2 -2 -0.7 -2 -0.9 -1.5 -1.3 -1.4 -1.5 -1.1 -1.5 -0.8 -2 -0.5zM570 17.1l-2 0.8 -1.5 0.9 -1.4 1.3 -1.1 1.5 -0.7 1.5 -0.5 2 -0.1 2 0.4 2 0.8 2 0.9 1.5 1.3 1.5 1.9 1.5 1.5 0.7 2 0.6 2 0.2 2 -0.3 2 -0.8 1.5 -1 1.5 -1.5 1.3 -1.9 0.8 -2 0.4 -2 0.1 -2 -0.4 -2 -0.8 -2 -1 -1.5 -1.4 -1.3 -1.5 -1 -2 -0.8 -2 -0.3 -2 0zM595.6 140.6l-2 0.3 -2 0.7 -1.5 0.8 -1.6 1.3 -1.2 1.5 -0.8 1.5 -0.7 2 -0.1 2 0.3 2 0.7 2 1.1 2 1.3 1.4 1.5 1.2 2 1 2 0.6 2 0.2 2 -0.4 2 -0.7 1.5 -1 1.5 -1.5 1.2 -1.8 0.8 -2 0.4 -2 0.1 -2 -0.4 -2 -0.5 -1.5 -0.9 -1.5 -1.3 -1.5 -1.4 -1.1 -2 -0.9 -2 -0.5zM620.1 72.6l-2 0.2 -2 0.6 -2 1 -1.5 1.2 -1.3 1.5 -0.8 1.5 -0.5 1.5 -0.3 2 0.1 2 0.6 2 1.1 2 1.1 1.5 1.5 1.3 2 1.2 2 0.7 2 0.3 2 -0.2 1.5 -0.5 2 -1.1 1.5 -1.3 1.1 -1.4 1.1 -2 0.6 -2 0.2 -2 -0.1 -2 -0.6 -2 -0.8 -1.5 -1.1 -1.5 -1.4 -1.2 -2 -1 -2 -0.6zM649.1 46l-2 0.8 -1.5 1 -1.5 1.5 -1.3 1.8 -0.8 2 -0.4 2 -0.1 2 0.3 2 0.9 2 1 1.5 1.4 1.4 1.5 1 1.5 0.6 2 0.5 2 0.1 2 -0.3 2 -0.7 1.5 -0.9 1.5 -1.2 1.2 -1.5 0.8 -1.5 0.7 -2 0.1 -2 -0.3 -2 -0.7 -2 -1.1 -2 -1.4 -1.5 -1.8 -1.4 -1.5 -0.7 -2 -0.6 -2 -0.2zM666.6 128.6l-2 0.3 -2 0.7 -1.5 0.8 -1.6 1.3 -1.2 1.5 -0.8 1.5 -0.7 2 -0.1 2 0.3 2 0.6 2 1.2 2 1.3 1.4 1.5 1.2 2 1.1 2 0.5 2 0.2 2 -0.4 2 -0.8 1.5 -1 1.5 -1.4 1.2 -1.8 0.8 -2 0.4 -2 0.1 -2 -0.4 -2 -0.5 -1.5 -0.9 -1.5 -1.3 -1.5 -1.4 -1.1 -2 -0.9 -2 -0.5zM507 70.1l-2 0.8 -1.5 1 -1.5 1.4 -1.2 1.8 -0.8 2 -0.4 2 -0.1 2 0.4 2 0.8 2 1 1.5 1.3 1.4 1.5 1 2 0.8 2 0.3 2 0 2 -0.3 2 -0.8 1.5 -1 1.5 -1.4 1.1 -1.5 0.7 -1.5 0.5 -2 0.1 -2 -0.4 -2 -0.8 -2 -0.9 -1.5 -1.4 -1.5 -1.9 -1.4 -1.5 -0.8 -2 -0.5 -2 -0.2zM554 126.1l-2 0.7 -1.5 1 -1.5 1.5 -1.2 1.9 -0.8 2 -0.4 2 -0.1 2 0.4 2 0.8 2 1 1.5 1.3 1.3 1.5 1 2 0.8 2 0.3 2 0 2 -0.4 2 -0.7 1.5 -1 1.5 -1.3 1.1 -1.5 0.7 -1.5 0.5 -2 0.1 -2 -0.4 -2 -0.8 -2 -0.9 -1.5 -1.3 -1.5 -2 -1.5 -1.5 -0.8 -2 -0.5 -2 -0.2zM578 58.1l-2 0.7 -1.5 1 -1.5 1.5 -1.2 1.8 -0.8 2 -0.4 2 -0.1 2 0.4 2 0.8 2 1 1.5 1.3 1.4 1.5 1 2 0.8 2 0.3 2 0 2 -0.4 2 -0.7 1.5 -1 1.6 -1.4 1 -1.5 0.7 -1.5 0.5 -2 0.1 -2 -0.4 -2 -0.8 -2 -0.9 -1.5 -1.4 -1.5 -1.9 -1.4 -1.5 -0.7 -2 -0.6 -2 -0.2zM601.1 182l-2 0.8 -1.5 1 -1.5 1.4 -1 1.5 -1 2 -0.5 2 -0.1 2 0.2 2 0.7 2 0.9 1.5 1.3 1.4 1.5 1.1 2 0.9 2 0.5 2 0.1 2 -0.3 2 -0.7 1.5 -0.8 1.4 -1.2 1.3 -1.5 0.8 -1.5 0.6 -2 0.2 -2 -0.2 -2 -0.7 -2 -0.9 -1.6 -1.5 -1.8 -1.5 -1.3 -2 -1 -2 -0.6 -2 -0.2zM625.1 114l-2 0.8 -1.5 1 -1.5 1.5 -1.3 1.9 -0.8 2 -0.4 2 -0.1 2 0.4 2 0.8 2 1 1.5 1.4 1.3 1.5 1 1.5 0.6 2 0.5 2 0.1 2 -0.3 2 -0.7 1.5 -0.8 1.4 -1.2 1.3 -1.5 0.8 -1.5 0.6 -2 0.2 -2 -0.3 -2 -0.6 -2 -0.9 -1.6 -1.5 -1.8 -1.5 -1.3 -2 -1 -2 -0.6 -2 -0.2z"/>
<path fill="#8fce60" stroke="#062018" stroke-opacity="0.38" stroke-width="0.5" fill-rule="evenodd" d="M494 16.1l29 0 1.6 3 2.4 2.2 3 1.4 3.5 0.4 3.5 -0.5 3.3 -1.5 2.3 -2 1 -1.5 0.8 -1.5 25.5 0 -1.9 0.7 -2 1.1 -1.4 1.2 -1.3 1.5 -0.8 1.5 -0.7 2 -0.2 2 0.2 2 0.6 2 0.9 2 1.2 1.7 1.5 1.5 1.5 1.1 2 1 2 0.6 2 0.2 2 -0.3 1.5 -0.5 2 -1.1 1.4 -1.2 2.2 -3 0.9 -2 0.5 -2 0.1 -2 -0.2 -2 -0.6 -2 -0.7 -1.5 -1.1 -1.5 -1.5 -1.3 -1.5 -0.9 -2 -0.8 56.3 0 0.6 2 0.9 2 2.5 3 1.8 1.4 1.5 0.8 2 0.6 2 0.3 2 -0.2 2 -0.6 3 -1.9 1.5 -1.7 1 -1.7 0.9 -2 0.5 -2 27.6 0 0 47 -1.3 1.5 -0.8 1.5 -0.7 2 -0.2 2 0.2 2 0.6 2 0.9 2 1.3 1.8 0 94.6 -3 -2.4 -3 -1.2 -3 -0.2 -3 0.7 -2.9 1.8 -2.2 2.5 -1.5 3.5 -0.5 3.5 0.4 3 1.4 3 2.3 2.3 2.5 1.4 3 0.7 3.5 -0.2 3 -0.9 3 -1.9 0 14.6 -29 0 -1.6 -3 -2.4 -2.2 -3 -1.4 -3.5 -0.4 -3.5 0.5 -3.3 1.5 -2.3 2 -1 1.5 -0.8 1.5 -25.5 0 1.9 -0.7 2 -1.1 1.4 -1.2 1.3 -1.5 0.8 -1.5 0.7 -2 0.2 -2 -0.2 -2 -0.6 -2 -0.9 -2 -1.2 -1.7 -1.5 -1.5 -1.5 -1.1 -2 -1 -2 -0.6 -2 -0.2 -2 0.3 -1.5 0.5 -2 1.1 -1.4 1.2 -2.2 3 -0.9 2 -0.5 2 -0.1 2 0.2 2 0.6 2 0.7 1.5 1.1 1.5 1.5 1.3 1.5 0.9 2 0.8 -56.3 0 -0.6 -2 -0.9 -2 -2.5 -3 -1.8 -1.4 -1.5 -0.8 -2 -0.6 -2 -0.3 -2 0.2 -2 0.6 -3 1.9 -1.5 1.7 -1 1.7 -0.9 2 -0.5 2 -27.6 0 0 -47 1.3 -1.5 0.8 -1.5 0.7 -2 0.2 -2 -0.2 -2 -0.6 -2 -0.9 -2 -1.3 -1.8 0 -94.6 3 2.4 3 1.2 3 0.2 3 -0.7 2.9 -1.8 2.2 -2.5 1.5 -3.5 0.5 -3.5 -0.4 -3 -1.4 -3 -2.3 -2.3 -2.5 -1.4 -3 -0.7 -3.5 0.2 -3 0.9 -3 1.9zM525 151.7l-2.5 0.3 -2 0.6 -2 1 -1.5 1.1 -1.4 1.5 -1.1 2 -0.7 2 -0.2 2 0.2 2 0.8 2.5 1.1 2 1.6 2 1.7 1.4 2 1.1 2 0.7 2.5 0.3 2 -0.3 2 -0.7 2 -1.3 1.5 -1.4 1.3 -1.8 1 -2 0.6 -2 0.2 -2.5 -0.2 -2 -0.5 -2 -1.1 -2 -1.3 -1.6 -1.5 -1.2 -2 -1 -2 -0.5zM546 84.1l-2 0.7 -2 1.1 -1.4 1.2 -1.3 1.5 -1 2 -0.6 2 -0.1 2 0.3 2 0.7 2 1.1 2 1.6 2 1.7 1.5 2 1.1 2 0.7 2.5 0.3 2 -0.3 2 -0.7 2 -1.3 1.5 -1.4 1.3 -1.9 1 -2 0.7 -2.5 0.1 -2.5 -0.3 -2 -0.7 -2 -1.1 -1.8 -1.5 -1.6 -1.5 -1.1 -2 -0.8 -2.5 -0.6 -2.5 0zM577.5 57l-2 0.9 -1.7 1.2 -1.5 1.5 -1.3 2 -0.9 2 -0.5 2.5 -0.1 2.5 0.4 2 0.8 2 0.9 1.5 1.5 1.5 1.9 1.3 2 0.8 2.5 0.4 2.5 -0.1 2 -0.4 2 -0.8 2 -1.3 1.6 -1.4 1.3 -2 0.8 -2 0.3 -2 -0.1 -2 -0.5 -2 -0.9 -2 -1.3 -2 -1.7 -1.6 -2 -1.4 -2 -0.9 -2 -0.5 -2 0zM596.1 139.7l-2.5 0.2 -2 0.7 -2 1 -1.6 1.1 -1.4 1.5 -1.1 2 -0.7 2 -0.2 2 0.2 2 0.8 2.5 1.1 2 1.6 2 1.8 1.4 2 1.1 2 0.7 2.5 0.3 2 -0.3 2 -0.7 2 -1.3 1.5 -1.4 1.2 -1.8 1 -2 0.6 -2 0.2 -2.5 -0.2 -2 -0.5 -2 -1.1 -2 -1.2 -1.5 -1.5 -1.2 -2 -1.1 -2 -0.5zM617.1 72.1l-2 0.7 -2 1.1 -1.5 1.2 -1.3 1.5 -1 2 -0.6 2 -0.1 2 0.3 2 0.7 2 1.1 2 1.6 2 1.8 1.5 2 1.1 2 0.7 2.5 0.3 2 -0.3 2 -0.7 2 -1.3 1.5 -1.5 1.3 -1.8 0.9 -2 0.7 -2.5 0.1 -2.5 -0.3 -2 -0.7 -2 -1 -1.8 -1.5 -1.6 -1.6 -1.1 -1.9 -0.8 -2.5 -0.6 -2.5 0zM648.6 45l-2 0.9 -1.8 1.2 -1.5 1.5 -1.3 2 -0.9 2 -0.5 2.5 -0.1 2.5 0.4 2 0.8 2 0.9 1.5 1.5 1.5 2 1.3 2 0.8 2.5 0.4 2.5 -0.1 2 -0.4 2 -0.8 1.8 -1.2 1.6 -1.5 1.1 -1.5 0.9 -2 0.4 -2 0 -2 -0.4 -2 -0.7 -2 -1.2 -2 -1.5 -1.7 -2 -1.5 -2 -1 -2 -0.6 -2.5 -0.1zM664.1 128.1l-2 0.6 -2 1.2 -1.6 1.3 -1.2 1.5 -1 2 -0.6 2 -0.1 2 0.3 2 0.7 2 1.1 2 1.6 2 1.8 1.4 2 1.2 2 0.6 2.5 0.3 2 -0.3 2 -0.7 2 -1.3 1.5 -1.5 1.2 -1.7 1 -2 0.7 -2.5 0.1 -2.5 -0.3 -2 -0.6 -2 -1.1 -1.8 -1.5 -1.7 -1.5 -1 -2 -0.9 -2.5 -0.6 -2.5 0zM506.5 69l-2 0.9 -2 1.4 -1.6 1.8 -1.2 2 -0.9 2.5 -0.3 2 0.1 2.5 0.5 2 0.9 2 1.1 1.5 1.4 1.4 2 1.1 2 0.7 2.5 0.3 2.5 -0.1 2 -0.6 2 -0.8 2 -1.4 1.4 -1.6 1 -1.5 0.8 -2 0.3 -2 -0.1 -2 -0.5 -2 -0.9 -2 -1.3 -2 -1.7 -1.7 -2 -1.4 -2 -0.8 -2 -0.5 -2 0zM556 124.6l-2 0.3 -2 0.7 -2 1.3 -1.5 1.5 -1.3 1.8 -0.9 2 -0.6 2 -0.2 2.5 0.2 2 0.5 2 1.1 2 1.3 1.5 1.4 1.1 2 1.1 2 0.5 2.5 0.2 2.5 -0.2 2 -0.6 2.2 -1.1 1.8 -1.5 1.3 -1.5 1 -2 0.6 -2 0.1 -2 -0.3 -2 -0.9 -2.5 -1.2 -2 -1.6 -1.8 -2 -1.6 -2 -1 -2 -0.5zM627.1 112.6l-2 0.3 -2 0.7 -2 1.3 -1.5 1.4 -1.3 1.9 -1 2 -0.6 2 -0.2 2.5 0.2 2 0.5 2 1.1 2 1.3 1.5 1.5 1.2 2 1 2 0.5 2.5 0.2 2.5 -0.3 2 -0.6 2.1 -1 1.8 -1.5 1.3 -1.5 1 -2 0.6 -2 0.1 -2 -0.3 -2 -0.9 -2.5 -1.2 -2 -1.5 -1.8 -2 -1.5 -2 -1 -2 -0.6z"/>
<path fill="#73c869" stroke="#062018" stroke-opacity="0.38" stroke-width="0.5" fill-rule="evenodd" d="M494 16.1l27.7 0 0.7 2 0.8 1.5 2.3 2.4 1.5 0.9 2 0.8 4 0.6 4 -0.5 2 -0.7 2 -1 2.9 -2.5 1.1 -1.5 0.9 -2 20.8 0 -1.7 1 -1.8 1.5 -1.2 1.5 -0.9 1.5 -0.5 1.5 -0.3 2 0 2 0.5 2 0.7 2 1.1 2 1.4 1.8 1.8 1.7 1.7 1.2 2 1 2 0.6 2 0.2 2 -0.2 1.5 -0.5 2 -1 1.5 -1.1 2.6 -3.2 1 -2 0.7 -2 0.5 -4 -0.2 -2 -0.5 -2 -1.7 -3 -1.4 -1.4 -1.6 -1.1 51.6 0 0.8 2.5 1 2 1.5 2 1.8 1.8 2 1.4 2 1 2 0.6 2 0.2 2 -0.2 2 -0.7 2 -1.2 1.5 -1.3 1.3 -1.6 1.3 -2 0.8 -2 0.6 -2.5 26.5 0 0 45.3 -1.9 1.7 -1.3 2 -0.8 2 -0.3 2.5 0.2 2.5 0.8 2.5 1.4 2.5 1.9 2.4 0 91.4 -3 -2.2 -3.5 -1.3 -3.5 -0.1 -3 1 -3 2.2 -2.4 3.2 -1.4 3.5 -0.5 4 0.5 3.5 1.3 2.7 2.1 2.3 2.9 1.7 3.5 0.8 3.5 -0.1 3.5 -0.8 3 -1.6 0 13 -27.7 0 -0.7 -2 -0.8 -1.5 -2.3 -2.4 -1.5 -0.9 -2 -0.8 -4 -0.6 -4 0.5 -2 0.7 -2 1 -2.9 2.5 -1.1 1.5 -0.9 2 -20.8 0 1.7 -1 1.8 -1.5 1.2 -1.5 0.9 -1.5 0.5 -1.5 0.3 -2 0 -2 -0.5 -2 -0.7 -2 -1.1 -2 -1.4 -1.8 -1.8 -1.7 -1.7 -1.2 -2 -1 -2 -0.6 -2 -0.2 -2 0.2 -1.5 0.5 -2 1 -1.5 1.1 -2.6 3.2 -1 2 -0.7 2 -0.5 4 0.2 2 0.5 2 1.7 3 1.4 1.4 1.6 1.1 -51.6 0 -0.8 -2.5 -1 -2 -1.5 -2 -1.8 -1.8 -2 -1.4 -2 -1 -2 -0.6 -2 -0.2 -2 0.2 -2 0.7 -2 1.2 -1.5 1.3 -1.3 1.6 -1.3 2 -0.8 2 -0.6 2.5 -26.5 0 0 -45.3 1.9 -1.7 1.3 -2 0.8 -2 0.3 -2.5 -0.2 -2.5 -0.8 -2.5 -1.4 -2.5 -1.9 -2.4 0 -91.4 3 2.2 3.5 1.3 3.5 0.1 3 -1 3 -2.2 2.4 -3.2 1.4 -3.5 0.5 -4 -0.5 -3.5 -1.3 -2.7 -2.1 -2.3 -2.9 -1.7 -3.5 -0.8 -3.5 0.1 -3.5 0.8 -3 1.6zM523.5 150.7l-2.5 0.5 -2.5 1 -2 1.3 -1.8 1.7 -1.1 1.5 -0.9 2 -0.4 2 0.1 2.5 0.5 2.5 1.2 2.5 1.4 2.1 2 2 2 1.5 2.5 1.2 2.5 0.5 2.5 0 2 -0.6 2 -1 2 -1.6 1.7 -2.1 1.4 -2.5 0.8 -2.5 0.4 -2.5 -0.1 -2.5 -0.6 -2.5 -0.9 -2 -1.2 -1.6 -1.6 -1.4 -2.4 -1.3 -2 -0.6 -2.5 -0.3zM548 82.6l-2.5 0.5 -2.5 0.9 -2 1.1 -1.8 1.5 -1.2 1.5 -1.1 2 -0.5 2 -0.1 2.5 0.5 2.5 1 2.5 1.6 2.5 1.6 1.8 2 1.6 2.5 1.3 2.5 0.7 2.5 0 2.5 -0.6 2 -1 2 -1.6 1.4 -1.7 1.5 -2.5 0.9 -2.5 0.4 -2.5 0.1 -2.5 -0.5 -2.5 -0.8 -2 -1.5 -2 -1.5 -1.3 -2 -1.1 -2 -0.7 -2.5 -0.4zM577.5 55.5l-2 0.8 -2 1.3 -1.9 2 -1.3 2 -1.2 2.5 -0.7 3 -0.1 2.5 0.4 2.5 0.7 2 1.2 2 1.5 1.5 1.9 1.3 2.5 0.9 2.5 0.4 2.5 0 2.5 -0.4 2.5 -0.9 2.1 -1.2 1.9 -1.6 1.2 -1.5 1 -2 0.5 -2 0.1 -2 -0.3 -2.5 -1 -2.5 -1.4 -2.5 -2 -2.2 -2.1 -1.6 -2 -1.1 -2.5 -0.8 -2.5 -0.2zM594.6 138.7l-2.5 0.5 -2.5 1 -2.1 1.2 -1.8 1.8 -1.1 1.5 -0.9 2 -0.4 2 0.1 2.5 0.5 2.5 1.2 2.5 1.4 2.1 2.1 2.1 2 1.4 2.5 1.2 2.5 0.5 2.5 0 2 -0.6 2 -1 2 -1.6 1.6 -2.1 1.4 -2.5 0.8 -2.5 0.4 -2.5 -0.1 -2.5 -0.6 -2.5 -0.9 -2 -1.1 -1.5 -1.8 -1.5 -2.2 -1.3 -2 -0.6 -2.5 -0.3zM619.1 70.6l-2.5 0.4 -2.5 0.9 -2.1 1.2 -1.8 1.5 -1.2 1.5 -1.1 2 -0.5 2 -0.1 2.5 0.5 2.5 1 2.5 1.6 2.5 1.7 1.8 2 1.6 2.5 1.3 2.5 0.7 2.5 0 2.5 -0.6 2 -1 2 -1.7 1.3 -1.6 1.5 -2.5 0.9 -2.5 0.4 -2.5 0.1 -2.5 -0.5 -2.5 -0.9 -2 -1.3 -1.9 -1.5 -1.4 -2 -1.1 -2 -0.7 -2.5 -0.4zM648.6 43.5l-2 0.8 -2 1.3 -2 2 -1.3 2 -1.2 2.5 -0.7 3 -0.1 2.5 0.4 2.5 0.7 2 1.2 2 1.5 1.5 2 1.3 2.5 0.9 2.5 0.4 2.5 0 2.5 -0.5 2.5 -0.9 2 -1.1 1.9 -1.6 1.2 -1.5 1 -2 0.5 -2 0.1 -2 -0.3 -2.5 -1 -2.5 -1.4 -2.5 -2 -2.2 -2 -1.6 -2 -1.1 -2.5 -0.8 -2.5 -0.2zM665.6 126.7l-2.5 0.5 -2.5 1 -2 1.2 -1.9 1.8 -1.1 1.5 -0.9 2 -0.4 2 0.1 2.5 0.5 2.5 1.2 2.5 1.5 2.2 2 2 2 1.4 2.5 1.2 2.5 0.5 2.5 0 2 -0.6 2 -1 2 -1.7 1.6 -2 1.4 -2.5 0.8 -2.5 0.4 -2.5 -0.1 -2.5 -0.6 -2.5 -0.9 -2 -1.1 -1.5 -1.8 -1.5 -2.2 -1.2 -2 -0.6 -2.5 -0.4zM506.5 67.6l-2 0.7 -2 1.4 -1.9 1.9 -1.4 2 -1.1 2.5 -0.7 3 -0.1 2.5 0.4 2.5 0.7 2 1.2 2 1.5 1.5 1.9 1.3 2.5 0.9 2.5 0.4 2.5 0 2.5 -0.4 2.5 -0.9 2 -1.1 1.9 -1.7 1.3 -1.5 1 -2 0.5 -2 0.1 -2 -0.3 -2.5 -0.9 -2.5 -1.5 -2.5 -2.1 -2.3 -2 -1.5 -2.5 -1.3 -2 -0.6 -2.5 -0.2zM553.5 123.6l-2 0.7 -2 1.3 -1.9 2.1 -1.4 2 -1.1 2.5 -0.7 3 -0.1 2.5 0.4 2.5 0.7 2 1.2 2 1.5 1.5 1.9 1.2 2.5 0.9 2.5 0.4 2.5 0 2.5 -0.4 2.5 -0.9 2.1 -1.2 1.8 -1.5 1.6 -2 0.9 -2 0.4 -2 0 -2 -0.5 -2.5 -1 -2.5 -1.3 -2.1 -2 -2.2 -2 -1.6 -2.5 -1.3 -2 -0.6 -2.5 -0.2zM624.6 111.5l-2 0.8 -2 1.3 -2 2.1 -1.4 2 -1.1 2.5 -0.7 3 -0.1 2.5 0.4 2.5 0.7 2 1.2 2 1.5 1.5 2 1.2 2.5 0.9 2.5 0.4 2.5 0 2.5 -0.5 2.5 -0.9 2 -1.1 1.8 -1.5 1.2 -1.5 1.1 -2 0.5 -2 0.1 -2 -0.3 -2.5 -0.9 -2.5 -1.5 -2.5 -2 -2.3 -2 -1.6 -2 -1.1 -2.5 -0.8 -2.5 -0.2z"/>
<path fill="#60c170" stroke="#062018" stroke-opacity="0.38" stroke-width="0.5" fill-rule="evenodd" d="M494 16.1l25.9 0 0.3 2 0.8 2 1 1.6 1.5 1.4 2 1.2 2 0.7 2.5 0.5 2.5 0.2 3 -0.3 2.5 -0.5 2.5 -0.9 2.5 -1.3 2.2 -1.6 1.4 -1.5 0.9 -1.5 0.7 -2 15.3 0 -2 1.5 -1.4 1.5 -0.9 1.5 -0.6 1.5 -0.3 1.5 0 2 0.5 2.5 0.7 2 1.2 2.5 1.4 2 3.4 3.6 2.5 1.7 2 1 2 0.6 2 0.2 2 -0.1 1.5 -0.5 3 -2 1.5 -1.5 1.5 -2 2 -4 1.2 -4.5 0 -4.5 -0.9 -3.5 -0.9 -1.5 -1.3 -1.5 46.2 0 0.9 2.5 1.4 2.5 1.5 2.1 2 2.1 2 1.6 2.5 1.5 2.5 1 2.5 0.3 2 -0.2 2 -0.7 2 -1.3 1.5 -1.4 1.6 -2 1.5 -2.5 1 -2.5 0.8 -3 25.1 0 0 43.4 -3 2 -1.9 2.1 -1.1 2.5 -0.3 2.5 0.5 3.5 1.1 3 2.2 3.5 2.5 2.7 0 87.8 -2 -1.5 -2 -1.2 -3.5 -1.2 -2 -0.1 -1.5 0.1 -3 1.3 -3 2.7 -2.7 4 -1.6 4.5 -0.6 4.5 0.4 3.5 1.2 3 1.8 2.1 2.5 1.5 4 1.2 4 0.1 4 -0.6 4 -1.5 0 11.2 -25.9 0 -0.3 -2 -0.8 -2 -1 -1.6 -1.5 -1.4 -2 -1.2 -2 -0.7 -2.5 -0.5 -2.5 -0.2 -3 0.3 -2.5 0.5 -2.5 0.9 -2.5 1.3 -2.2 1.6 -1.4 1.5 -0.9 1.5 -0.7 2 -15.3 0 2 -1.5 1.4 -1.5 0.9 -1.5 0.6 -1.5 0.3 -1.5 0 -2 -0.5 -2.5 -0.7 -2 -1.2 -2.5 -1.4 -2 -3.4 -3.6 -2.5 -1.7 -2 -1 -2 -0.6 -2 -0.2 -2 0.1 -1.5 0.5 -3 2 -1.5 1.5 -1.5 2 -2 4 -1.2 4.5 0 4.5 0.9 3.5 0.9 1.5 1.3 1.5 -46.2 0 -0.9 -2.5 -1.4 -2.5 -1.5 -2.1 -2 -2.1 -2 -1.6 -2.5 -1.5 -2.5 -1 -2.5 -0.3 -2 0.2 -2 0.7 -2 1.3 -1.5 1.4 -1.6 2 -1.5 2.5 -1 2.5 -0.8 3 -25.1 0 0 -43.4 3 -2 1.9 -2.1 1.1 -2.5 0.3 -2.5 -0.5 -3.5 -1.1 -3 -2.2 -3.5 -2.5 -2.7 0 -87.8 2 1.5 2 1.2 3.5 1.2 2 0.1 1.5 -0.1 3 -1.3 3 -2.7 2.7 -4 1.6 -4.5 0.6 -4.5 -0.4 -3.5 -1.2 -3 -1.8 -2.1 -2.5 -1.5 -4 -1.2 -4 -0.1 -4 0.6 -4 1.5zM525.5 149.2l-3 0.3 -3.5 0.9 -2.8 1.3 -2.2 1.5 -1.5 1.5 -1.4 2 -0.7 2 -0.1 2.5 0.5 3 1.2 3 1.8 3 2.1 2.5 2.6 2.2 2.5 1.5 3 1.1 2.5 0.2 2 -0.3 2.5 -1.1 2 -1.6 2 -2.3 1.6 -2.7 1.3 -3 0.8 -3.5 0.1 -3 -0.2 -2.5 -0.8 -2.5 -0.8 -1.5 -1.5 -1.7 -2 -1.3 -2.5 -0.9 -2.5 -0.5zM546 81.6l-3 0.8 -2.5 1.1 -2.4 1.6 -1.6 1.5 -1.4 2 -0.6 2 -0.2 2 0.2 2.5 1 3 1.6 3 1.9 2.6 2.5 2.4 2.5 1.8 3 1.3 2.5 0.5 2.5 -0.1 2 -0.8 2.5 -1.7 2.3 -2.5 1.9 -3 1.2 -3 0.8 -3.5 0.1 -3 -0.3 -3 -0.7 -2 -1.2 -2 -1.6 -1.5 -2 -1.1 -2.5 -0.9 -2.5 -0.4 -3 0zM578.5 53.1l-2.5 0.6 -2 1.2 -2.4 2.2 -1.8 2.5 -1.5 3 -1 3 -0.5 3.5 0.1 3 0.5 2.5 0.9 2 1.2 1.7 1.8 1.3 2.2 1.1 2.5 0.7 3 0.3 3 -0.2 3 -0.6 3 -1.1 2.6 -1.4 2.1 -1.8 1.2 -1.5 1 -2 0.4 -2 -0.1 -2.5 -0.7 -3 -1.4 -3 -1.7 -2.5 -2.3 -2.6 -2.6 -2 -3 -1.6 -2.5 -0.7zM596.6 137.2l-3 0.3 -3.5 0.9 -2.8 1.3 -2.3 1.5 -1.5 1.5 -1.4 2 -0.7 2 -0.1 2.5 0.5 3 1.2 3 1.8 3 2.1 2.5 2.7 2.2 2.5 1.5 3 1.1 2.5 0.2 2 -0.3 2.5 -1.1 2 -1.7 2 -2.3 1.5 -2.6 1.3 -3 0.8 -3.5 0.1 -3 -0.2 -2.5 -0.8 -2.5 -0.8 -1.5 -1.4 -1.6 -2 -1.4 -2.5 -0.9 -2.5 -0.5zM617.1 69.6l-3 0.8 -2.5 1.1 -2.5 1.6 -1.6 1.5 -1.4 2 -0.6 2 -0.2 2 0.2 2.5 1 3 1.6 3 2 2.7 2.5 2.4 2.5 1.7 3 1.3 2.5 0.5 2.5 -0.2 2.5 -0.9 2 -1.5 2.2 -2.5 1.9 -3 1.2 -3 0.8 -3.5 0.1 -3 -0.3 -3 -0.7 -2 -1.2 -2 -1.6 -1.5 -1.9 -1.1 -2.5 -0.8 -2.5 -0.5 -3 0zM649.6 41.1l-2.5 0.6 -2 1.2 -2.5 2.3 -1.8 2.4 -1.5 3 -1 3 -0.5 3.5 0.1 3 0.5 2.5 0.9 2 1.1 1.5 1.7 1.4 2.2 1.1 2.8 0.8 2.5 0.2 3 -0.1 3 -0.5 3 -1 2.6 -1.4 2 -1.5 1.4 -1.5 1.1 -2 0.5 -2 0.1 -2.5 -0.7 -3 -1.2 -3 -2 -3 -2.2 -2.5 -2.6 -2 -3 -1.7 -2.5 -0.7zM667.6 125.2l-3 0.3 -3.5 0.9 -2.8 1.3 -2.3 1.5 -1.5 1.5 -1.4 2 -0.7 2 -0.1 2.5 0.5 3 1.2 3 1.8 3 2.1 2.5 2.7 2.3 2.5 1.4 3 1.1 2.5 0.2 2 -0.3 2.5 -1.2 2 -1.6 2 -2.4 1.5 -2.5 1.3 -3 0.8 -3.5 0.1 -3 -0.2 -2.5 -0.6 -2 -1 -2 -1.4 -1.6 -2 -1.3 -2.5 -1 -2.5 -0.5zM507.5 65.1l-2.5 0.7 -2 1.1 -2.4 2.2 -1.8 2.5 -1.5 3 -1 3 -0.5 3.5 0.1 3 0.5 2.5 0.9 2 1.2 1.6 1.8 1.4 2.2 1.1 2.5 0.7 3 0.3 3 -0.2 3 -0.6 3 -1.1 2.5 -1.4 2.2 -1.8 1.2 -1.5 1 -2 0.4 -2 -0.1 -2.5 -0.7 -3 -1.4 -3 -1.6 -2.5 -2.5 -2.6 -2.5 -2 -3 -1.6 -2.5 -0.7zM554.5 121.1l-2.5 0.6 -2 1.2 -2.4 2.3 -1.8 2.5 -1.5 3 -1 3 -0.5 3.5 0.1 3 0.5 2.5 0.9 2 1.2 1.5 1.8 1.5 2.2 1 2.5 0.7 3 0.3 3 -0.2 3 -0.6 3 -1.1 2.5 -1.4 2.1 -1.7 1.3 -1.5 1 -2 0.4 -2 -0.1 -2.5 -0.7 -3 -1.4 -3 -1.6 -2.5 -2.5 -2.7 -2.5 -2 -3 -1.6 -2.5 -0.7zM625.6 109.1l-2.5 0.6 -2 1.2 -2.5 2.3 -1.8 2.5 -1.5 3 -1 3 -0.5 3.5 0.1 3 0.5 2.5 0.9 2 1.2 1.5 1.6 1.3 2.3 1.2 2.7 0.7 2.5 0.2 3 -0.1 3 -0.5 3 -1 2.5 -1.3 2 -1.5 1.4 -1.5 1.2 -2 0.5 -2 0.1 -2.5 -0.6 -3 -1.3 -3 -1.9 -3 -2.3 -2.5 -2.6 -2.2 -3 -1.6 -2.5 -0.7z"/>
<path fill="#4eba77" stroke="#062018" stroke-opacity="0.38" stroke-width="0.5" fill-rule="evenodd" d="M494 16.1l23.2 0 -0.6 3 -0.6 1.9 -0.8 1.1 -1.2 0.7 -2.5 0.4 -10 0.3 -4 0.7 -3.5 0.9zM591.5 16.6l0.9 -0.5 34.6 0 3 5 3.1 4 3 3 6.7 6 1 2 -0.2 2 -0.8 2 -3.6 6.5 -1.5 3.5 -1.5 5 -1.7 8.5 -0.6 1.5 -0.8 1.1 -1 0.6 -1.8 0.3 -8.2 0.2 -4.5 0.5 -4.5 1 -8.5 2.8 -1.5 0.2 -1.5 -0.3 -1 -0.6 -1 -1.1 -4.7 -7.7 -3 -4 -2.8 -2.9 -7.3 -6.6 -1 -2 0.2 -2 0.9 -2 3.5 -6.5 1.5 -3.5 1.5 -5 1.7 -8.5 0.6 -1.5zM659.3 16.1l23.3 0 0 41.2 -7.5 2.4 -1.5 0.1 -1.5 -0.5 -1 -0.9 -1 -1.3 -4.2 -7 -3 -4 -2.8 -2.9 -5.9 -5.1 -1.8 -2 -0.6 -1.5 0.2 -2 5.1 -10 1.2 -3zM549.6 23.1l1.4 -0.1 1 0.3 1.5 1.1 1.5 2.1 3.7 6.1 2.8 3.8 3 3.2 5.8 5 1.9 2 0.6 1.5 -0.2 2 -0.8 2 -3.6 6.5 -1.5 3.5 -1.5 5 -1.7 8.5 -0.6 1.5 -0.9 1.1 -1 0.6 -1.7 0.3 -8.3 0.2 -5 0.6 -4.5 1.1 -7.5 2.5 -1.5 0.3 -1.5 -0.1 -1.5 -0.8 -1 -1.2 -4.6 -7.6 -3.4 -4.4 -3 -3 -6.7 -6.1 -1 -2 0.2 -2 0.9 -2 3.5 -6.5 1.5 -3.5 1.5 -5 1.7 -8.5 0.6 -1.5 0.8 -1 1 -0.6 1.5 -0.3 9 -0.2 5 -0.7 4 -1zM494 52.1l6.3 5.5 1.2 1.5 0.4 1.5 -0.6 2.5 -5.2 10 -1.3 3.5 -0.8 3.3zM667.5 67.1l2.1 0 1 0.5 1 0.9 6.1 9.6 2.4 3 2.5 2.6 0 30.2 -1.1 5.8 -0.9 2 -1 0.8 -1 0.4 -2.5 0.3 -7.5 0.1 -4 0.5 -5 1.2 -7.5 2.5 -1.5 0.3 -1.5 -0.1 -1.5 -0.8 -1 -1.1 -4.7 -7.6 -3.3 -4.4 -3 -3.1 -6.8 -6.1 -1 -2 0.2 -2 0.8 -2 3.6 -6.5 1.5 -3.5 1.5 -5 1.7 -8.3 0.6 -1.7 0.8 -1 1.1 -0.6 1.5 -0.3 9 -0.2 5 -0.7 4 -1zM596.5 79.1l2.1 0 1 0.5 1 0.8 1.5 2.1 3.6 6.1 2.9 3.9 3 3.2 7.2 6.4 1 2 -0.2 2 -0.8 2 -3.6 6.6 -1.5 3.5 -1.5 5 -1.7 8.5 -0.6 1.5 -0.8 1 -1 0.6 -1.5 0.3 -8.5 0.2 -5 0.6 -4.5 1.1 -7.6 2.5 -1.5 0.3 -1.5 -0.1 -1.5 -0.8 -1 -1.1 -4.6 -7.6 -3.4 -4.5 -3 -3 -6.7 -6 -1 -2 0.2 -2 0.8 -2 3.6 -6.6 1.5 -3.5 1.5 -5 1.7 -8.5 0.6 -1.5 0.8 -1 1 -0.6 1.5 -0.3 9 -0.2 5 -0.7 4 -1zM525.4 91.1l2.1 0 1 0.4 1 0.9 1.5 2.1 3.7 6.1 2.8 3.8 3 3.2 7.3 6.6 1 2 -0.2 2 -0.8 2 -3.6 6.5 -1.5 3.5 -1.5 5 -1.7 8.3 -0.6 1.7 -0.9 1 -1 0.6 -1.5 0.3 -8.5 0.2 -5 0.6 -4.5 1.1 -7.5 2.5 -1.5 0.3 -1.5 -0.1 -1.5 -0.9 -1 -1.1 -5.6 -9 -2.4 -3 -2.5 -2.6 0 -30.2 1.1 -5.8 0.9 -2 1 -0.8 1 -0.4 2.5 -0.3 7.5 -0.1 4.5 -0.6 4.5 -1.1zM643.3 135.2l2.3 -0.1 1 0.5 1 0.8 5.1 8.3 2.6 3.5 3.3 3.5 7.2 6.5 1 2 -0.2 2 -0.9 2 -3.5 6.5 -1.5 3.5 -1.5 5 -1.7 8.5 -0.6 1.5 -0.8 1 -1 0.6 -1.5 0.3 -8.5 0.2 -5 0.6 -4.5 1.1 -7.5 2.5 -1.5 0.3 -1.5 -0.1 -1.5 -0.8 -1 -1.1 -4.7 -7.6 -3.3 -4.4 -3 -3.1 -6.8 -6 -1 -2 0.2 -2 0.8 -2 3.6 -6.5 1.5 -3.5 1.5 -5 1.7 -8.5 0.6 -1.5 0.9 -1.1 1 -0.6 1.7 -0.3 8.3 -0.2 5 -0.6 4.5 -1.1zM682.5 139.2l0.1 -0.3 0 27.8 -6.3 -5.5 -1.2 -1.5 -0.4 -1.5 0.6 -2.5 5.2 -10zM572.3 147.2l2.2 -0.1 1 0.4 1 0.9 1.5 2.1 3.7 6.2 2.6 3.5 3.7 3.9 5.9 5.1 1.3 1.5 0.5 1 0.1 1.5 -0.4 1.5 -4.3 8.3 -2 4.7 -0.9 3.5 -1.5 7.5 -0.6 2 -0.6 1 -1.3 1 -34.6 0 -2.7 -4.5 -2.9 -3.9 -3.5 -3.6 -6.2 -5.5 -1.2 -1.5 -0.3 -1 0 -1.5 0.5 -1.5 4.2 -7.9 1.9 -4.6 1 -3.5 1.5 -7.5 0.5 -2 1.1 -1.5 1.5 -0.8 2.5 -0.3 7.5 -0.1 4.5 -0.6 4.5 -1.1zM501.2 159.2l2.3 -0.1 1 0.4 1 0.9 1.5 2 3.7 6.3 2.6 3.5 3.7 3.9 5.9 5.1 1.3 1.5 0.5 1 0.1 1.5 -0.4 1.5 -4.9 9.5 -1.2 3 -1 3.5 -23.3 0 0 -41.2zM682.5 193.7l0.1 9 -23.2 0 0.6 -3 0.6 -1.9 0.8 -1.1 1.2 -0.7 2.5 -0.4 10 -0.3 4 -0.7z"/>
<path fill="#3eb07c" stroke="#062018" stroke-opacity="0.38" stroke-width="0.5" fill-rule="evenodd" d="M494 16.1l19.3 0 -2.3 2.3 -1.5 0.9 -1.9 0.8 -4.1 1 -9.5 1.6zM609.5 16.6l3 -0.5 7.6 0 2 0.7 2 1.3 3.5 3.4 8.6 10.6 1.8 3.5 0.5 2 0.1 2 -0.4 2.5 -0.7 2.5 -3.9 11.1 -2 3.9 -2 2.4 -2.5 1.5 -3.5 1.2 -11.5 2 -5 0.4 -2.5 -0.4 -2.5 -1 -2.5 -1.8 -2.5 -2.6 -6.9 -8.2 -2.2 -3 -1.6 -3.5 -0.4 -3.5 0.9 -4.5 3.7 -10.2 1.6 -3.8 1.9 -2.8 2 -1.7 3 -1.4 3.5 -0.9zM661.5 16.6l0.1 -0.5 21 0 0 38.7 -3.5 0.3 -3 -0.3 -2.5 -0.8 -2 -1.2 -2 -1.8 -2.5 -2.8 -6.3 -7.6 -2.4 -3.5 -1.2 -3.5 -0.2 -2 0.2 -2 1.1 -4zM541.4 28.1l4.1 -0.4 3.5 0.4 3 1.3 2.5 2 8.5 9.7 2.9 4 1.4 3.5 0.3 2 -0.1 2 -1.1 4.5 -4 11 -1.9 3.6 -2 2.3 -2.7 1.6 -3.8 1.2 -12 2.1 -2.5 0.2 -2.5 -0.1 -2 -0.4 -1.5 -0.6 -3 -2.1 -2.5 -2.6 -7.2 -8.7 -1.8 -2.5 -1.3 -2.5 -0.6 -2.5 0 -3 1.2 -4.5 3.7 -10.4 1.7 -3.6 1.8 -2.3 2 -1.5 3 -1.3 3.5 -0.8zM494 56.1l0 -0.3 1.9 3.3 0.5 2 0.2 2 -0.6 4 -2 5.9zM659.3 72.1l3.3 -0.4 3 0.1 2.5 0.6 2 1 2 1.5 2 2.1 8.5 10.2 0 18.9 -2 5.5 -1.5 3.2 -1.7 2.4 -2.3 1.8 -2.7 1.2 -4.3 1 -10.5 1.7 -4.5 0.1 -2 -0.4 -1.5 -0.6 -3 -2.1 -2.5 -2.6 -7.3 -8.7 -1.8 -2.5 -1.3 -2.5 -0.6 -2.5 0 -3 1.2 -4.5 3.8 -10.6 1.6 -3.4 1.9 -2.4 2.2 -1.6 2.8 -1.1zM588.2 84.1l4.4 -0.4 3.5 0.4 3 1.3 2.5 2 8.4 9.7 2.9 4 1.4 3.5 0.3 2 -0.1 2 -1.1 4.6 -4 11 -1.8 3.5 -2 2.3 -2.9 1.7 -3.6 1.1 -12.1 2.1 -2.5 0.2 -2.5 -0.1 -2 -0.4 -1.5 -0.6 -3 -2.1 -2.5 -2.6 -7.2 -8.6 -1.8 -2.5 -1.3 -2.5 -0.6 -2.5 0 -3 1.1 -4.6 3.8 -10.5 1.7 -3.5 1.8 -2.3 2.3 -1.7 2.7 -1.1zM517.2 96.1l4.3 -0.4 3.5 0.4 3 1.3 2.5 1.9 8.5 9.8 2.9 4.1 1.4 3.5 0.3 2 -0.1 2 -1.2 4.5 -3.9 11 -1.9 3.6 -2 2.2 -2.8 1.7 -3.7 1.1 -12 2.1 -2.5 0.2 -2.5 -0.1 -2 -0.4 -1.5 -0.6 -3 -2.1 -3 -3.2 -7.5 -9.1 0 -18.9 3.1 -8.1 1.6 -2.5 1.8 -1.6 2.3 -1.4 2.7 -0.8zM635 140.2l4.6 -0.5 3 0.3 3 1.1 2.5 1.8 2.5 2.6 5.6 6.7 3.4 4.5 1.1 2 0.6 2 0.3 2 -0.1 2 -1.2 4.5 -3.9 11 -1.8 3.5 -2 2.2 -2.9 1.8 -3.6 1.1 -12 2.1 -2.5 0.2 -2.5 -0.1 -2 -0.4 -1.5 -0.6 -3 -2.1 -2.5 -2.6 -7.3 -8.6 -1.8 -2.5 -1.3 -2.5 -0.6 -2.5 0 -3 1.1 -4.5 3.9 -10.7 1.6 -3.3 1.9 -2.4 2.2 -1.6 2.8 -1.2zM682.5 146.2l0.1 -0.4 0 17.2 -1.2 -1.8 -0.8 -2 -0.6 -3.5 0.6 -4zM564 152.2l4.5 -0.5 3.5 0.4 3 1.3 2.5 2 8.5 9.8 2.9 4 1 2 0.5 2 0.2 2 -0.2 2 -1.2 4.5 -4.2 11.2 -1.8 3.3 -2.2 2.2 -1.5 0.9 -2 0.8 -5.5 1.3 -7.9 1.3 -7.6 0 -3 -1.3 -2.5 -2 -9.9 -11.7 -1.7 -2.5 -1 -2.5 -0.4 -2.5 0.2 -2.5 1 -4 3.8 -10.6 1.7 -3.4 1.8 -2.4 2.2 -1.6 2.8 -1.2zM494 164.2l0 -0.2 3 -0.3 3 0.2 2.5 0.7 2.5 1.4 2 1.8 2.5 2.8 6.3 7.6 2.4 3.5 1.2 3.5 0.2 2 -0.2 2 -1.1 4 -3.3 9.5 -21 0zM681.9 196.2l0.7 -0.1 0 6.6 -19.3 0 2.3 -2.3 3 -1.6 4 -1z"/>
<path fill="#2fa580" stroke="#062018" stroke-opacity="0.38" stroke-width="0.5" fill-rule="evenodd" d="M494 16.1l14.6 0 -2.5 1.5 -3.1 1.1 -4.5 1.1 -4.5 0.5zM664.4 16.1l18.2 0 0 36.2 -3 -0.1 -2.5 -0.4 -2.5 -0.9 -2.5 -1.4 -2.5 -2 -3 -3.2 -2.9 -3.7 -1.8 -3 -1 -2.5 -0.5 -2 -0.2 -2 0 -2.5 0.6 -3 0.8 -3 1.3 -3.5zM611.4 18.6l4.7 0 3.5 0.7 3.5 1.7 3 2.4 4.6 5.2 3 4.5 1.4 4 0.3 4 -0.8 5 -2 5.8 -2.2 4.2 -2.6 3 -3.2 2.3 -4 1.5 -6 1.1 -5 0.3 -3.5 -0.5 -3.5 -1.4 -3 -2.1 -3.3 -3.2 -3.6 -4.5 -2 -3.5 -1.2 -3.5 -0.3 -4 0.7 -4.5 1.8 -5.5 1.9 -4 2.5 -3.2 2.5 -2.1 3.4 -1.7 4.6 -1.3zM540.4 30.6l4.1 -0.1 4 0.8 3.5 1.7 3 2.4 4.3 4.7 3.4 5 1.4 4 0.3 4 -0.7 4.5 -2 6 -2.2 4.3 -2.7 3.2 -3.3 2.3 -4 1.5 -6 1.1 -5 0.3 -3.5 -0.5 -3.5 -1.4 -3 -2.1 -3.2 -3.2 -3.6 -4.5 -2 -3.5 -1.2 -3.5 -0.3 -4 0.7 -4.5 1.8 -5.5 1.9 -4 2.4 -3.2 2.5 -2.1 3.5 -1.7 4.5 -1.3zM658.1 74.6l4.5 -0.1 3.5 0.6 3.5 1.6 3 2.3 4.3 4.6 3.5 5 1.6 4 0.5 4 -0.7 4.5 -1.9 6 -2.2 4.6 -2.6 3.2 -3 2.2 -4 1.6 -5.5 1.2 -5.5 0.4 -3.5 -0.4 -3.5 -1.2 -3 -2 -3 -2.8 -3.6 -4.2 -2.6 -4.1 -1.3 -3.5 -0.5 -4 0.7 -4.5 1.5 -5 2 -4.5 2.5 -3.5 2.8 -2.3 3 -1.5 4.5 -1.4zM587.1 86.6l4.5 -0.1 3.5 0.6 3.5 1.6 3 2.2 4.3 4.7 3.5 5 1.6 4 0.5 4 -0.7 4.6 -1.9 6 -2.2 4.5 -2.6 3.2 -3 2.2 -4 1.6 -5.5 1.2 -5.6 0.4 -3.5 -0.4 -3.5 -1.2 -3 -2 -3 -2.8 -3.5 -4.2 -2.6 -4 -1.3 -3.5 -0.5 -4 0.7 -4.6 1.7 -5.5 2.1 -4.5 2.4 -3.2 2.5 -2.1 3.4 -1.7 4.1 -1.2zM516 98.6l4.5 -0.1 3.5 0.6 3.5 1.6 3 2.2 4.5 4.7 3.4 5.1 1.6 4 0.5 4 -0.7 4.5 -1.9 6 -2.2 4.5 -2.7 3.3 -3 2.1 -4 1.6 -5.5 1.2 -5.5 0.4 -3.5 -0.4 -3.5 -1.3 -3 -1.9 -3 -2.8 -3.5 -4.2 -2.6 -4 -1.3 -3.5 -0.5 -4 0.7 -4.5 1.7 -5.5 2.1 -4.6 2.4 -3.2 2.5 -2.1 3.4 -1.7 4.1 -1.1zM633.8 142.7l4.3 -0.2 4 0.6 3.5 1.6 3 2.3 4.4 4.7 3.4 5 1.6 4 0.5 4 -0.7 4.5 -1.9 6 -2.2 4.5 -2.6 3.2 -3 2.2 -4 1.6 -5.5 1.2 -5.5 0.4 -3.5 -0.4 -3.5 -1.2 -3 -2 -3 -2.8 -3.6 -4.2 -2.6 -4 -1.3 -3.5 -0.5 -4 0.7 -4.5 1.5 -5 2 -4.5 2.5 -3.5 2.8 -2.4 3 -1.5 4 -1.2zM562.7 154.7l4.3 -0.2 3.5 0.5 3.5 1.4 3 2.1 4.5 4.7 3.7 5 1.7 4 0.6 4 -0.6 4.5 -1.9 6.1 -2.3 4.9 -2.7 3.2 -3 2.2 -3.5 1.5 -5.5 1.2 -5.5 0.5 -3.5 -0.3 -3.5 -1.1 -3 -1.8 -3 -2.7 -4 -4.7 -2.6 -4 -1.3 -3.5 -0.5 -4 0.7 -4.5 1.5 -5 2 -4.5 2.5 -3.5 2.7 -2.4 3 -1.5 4 -1.2zM494 166.7l0 -0.2 2.5 0 3 0.5 2.5 0.9 2.5 1.4 2.5 2 3 3.2 2.9 3.7 1.8 3 1 2.5 0.5 2 0.2 2 0 2.5 -0.6 3 -0.8 3 -1.3 3.5 -1.5 3 -18.2 0zM680.5 198.7l2.1 -0.2 0 4.2 -14.6 0 2.1 -1.3 3 -1.2 3.5 -0.9z"/>
<path fill="#259983" stroke="#062018" stroke-opacity="0.38" stroke-width="0.5" fill-rule="evenodd" d="M494 16.1l9.5 0 -4.5 1.4 -5 0.5zM666.8 16.6l0.4 -0.5 15.4 0 0 33.9 -3 -0.2 -2.5 -0.6 -2.5 -1.1 -2 -1.2 -2.5 -2 -2.2 -2.3 -1.9 -2.5 -1.7 -3 -1 -2.5 -0.4 -2 -0.3 -2.5 0.2 -2.5 0.5 -3 1 -3 1.1 -2.5zM608.9 21.1l4.2 -0.3 3.5 0.3 3.5 1.1 3 1.7 3.5 3.1 2.9 3.6 2.2 4 1 3.5 0.2 4 -0.6 4 -1.6 4.5 -1.9 3.5 -2.2 2.7 -3 2.3 -3 1.4 -4 1 -4 0.5 -4 -0.2 -3.5 -1 -3 -1.6 -3.5 -2.8 -3.2 -3.8 -2.1 -3.5 -1.4 -4 -0.3 -4 0.7 -4.5 1.6 -4.5 2.2 -3.8 2.4 -2.7 2.8 -2 3.4 -1.5zM537.9 33.1l4.1 -0.3 3.5 0.3 3.5 1.1 3 1.7 3.5 3 3 3.7 2.2 4 1 3.5 0.2 4 -0.6 4 -1.6 4.5 -1.9 3.5 -2.3 2.7 -2.5 2 -3.5 1.7 -4 1.1 -4 0.4 -4 -0.2 -3.5 -1 -3 -1.6 -3.5 -2.9 -3.1 -3.7 -2.1 -3.5 -1.3 -4 -0.4 -4 0.6 -4 1.5 -4.5 2.3 -4.3 2.4 -2.7 2.9 -2 3.4 -1.5zM655.7 77.1l4.4 -0.3 3.5 0.3 3.5 1.1 3 1.7 3.5 3.1 2.9 3.6 2 3.5 1.1 3.5 0.4 4 -0.6 4 -1.4 4.5 -1.9 3.6 -2.4 3 -2.6 2 -3 1.6 -4 1.1 -4 0.6 -4 -0.2 -3.5 -0.8 -3.5 -1.7 -3.5 -2.9 -3.2 -3.8 -2.1 -3.5 -1.3 -4 -0.4 -4 0.6 -4 1.5 -4.5 2.1 -4 2.3 -2.7 3 -2.2 3.5 -1.6zM584.7 89.1l4.4 -0.3 3.5 0.3 3.5 1.1 3 1.7 3.1 2.7 3 3.5 2.1 3.5 1.3 4 0.4 4.1 -0.6 4 -1.4 4.5 -1.9 3.6 -2.4 2.9 -2.6 2.1 -3 1.5 -4 1.2 -4 0.5 -4.1 -0.2 -3.5 -0.8 -3.5 -1.8 -3.5 -2.8 -3.1 -3.7 -2.1 -3.5 -1.3 -4 -0.4 -4.1 0.6 -4 1.4 -4.5 2.2 -4 2.2 -2.6 3 -2.3 3.5 -1.5zM513.6 101.1l4.4 -0.3 3.5 0.3 3.5 1.1 3 1.7 3.3 2.7 2.9 3.6 2.1 3.5 1.3 4 0.4 4 -0.6 4 -1.5 4.5 -1.9 3.6 -2.3 2.9 -2.7 2.1 -3 1.5 -4 1.2 -4 0.5 -4 -0.2 -3.5 -0.8 -3.5 -1.8 -3.5 -2.9 -3.1 -3.6 -2.1 -3.5 -1.3 -4 -0.4 -4 0.6 -4 1.4 -4.5 2.2 -4.1 2.2 -2.6 3 -2.2 3.5 -1.6zM631.5 145.2l4.1 -0.4 3.5 0.2 3.5 1 3 1.6 3.2 2.6 3 3.5 2.5 4 1.2 3.5 0.5 3.5 -0.4 4 -1.3 4.5 -1.9 4 -2.2 3 -2.6 2.2 -3 1.7 -4 1.2 -4 0.6 -4 0 -3.5 -0.7 -3.5 -1.6 -3.5 -2.7 -3.3 -3.7 -2.5 -4 -1.3 -4 -0.4 -4 0.6 -4 1.4 -4.5 2.2 -4 2.3 -2.7 3 -2.3 3.5 -1.6zM560.5 157.2l4 -0.4 3.5 0.2 3.5 1 3 1.6 3.3 2.6 3.1 3.5 2.4 4 1.2 3.5 0.5 3.5 -0.4 4 -1.3 4.5 -1.9 4 -2.2 3 -2.7 2.2 -3 1.7 -4 1.2 -4 0.6 -4 0 -3.5 -0.7 -3.5 -1.7 -3.5 -2.7 -3.2 -3.6 -2.5 -4 -1.2 -3.5 -0.5 -4 0.6 -4.5 1.4 -4.5 2.2 -4 2.2 -2.7 3 -2.3 3.5 -1.5zM494 169.2l0 -0.4 0.5 0 4 0.5 3 1.1 2.5 1.5 2.5 2 2.2 2.3 1.9 2.5 1.7 3 1 2.5 0.5 2.5 0.2 2.5 -0.2 2.5 -0.6 3 -1.1 3 -1.1 2.5 -1.6 2.5 -15.4 0zM678.3 201.2l4.3 -0.4 0 1.9 -9.5 0 2.5 -0.9z"/>
<path fill="#208c85" stroke="#062018" stroke-opacity="0.38" stroke-width="0.5" fill-rule="evenodd" d="M670.1 16.1l12.5 0 0 31.8 -2.5 -0.2 -2.5 -0.7 -2.5 -1.1 -2.1 -1.3 -2.3 -2 -1.8 -2 -1.7 -2.5 -1.2 -2.5 -0.8 -2.5 -0.4 -2.5 0 -2.5 0.4 -2.5 0.7 -2.5 1.2 -2.8 1.3 -2.2zM609.4 23.1l3.7 -0.2 3.5 0.5 3 1 2.9 1.7 2.8 2.5 2.4 3 1.7 3 1.1 3.5 0.3 3.5 -0.5 4 -1.1 3.5 -2 3.5 -2.1 2.5 -2.5 2 -3 1.5 -3.5 1 -3.5 0.3 -3.5 -0.2 -3.5 -1.1 -3 -1.6 -3 -2.5 -2.5 -3 -1.9 -3.4 -1.1 -3.5 -0.3 -3.5 0.5 -4 1.3 -3.7 1.8 -3.3 2.2 -2.5 3 -2.2 3 -1.4zM538.3 35.1l3.7 -0.2 3.5 0.4 3 1.1 3 1.7 2.8 2.5 2.4 3 1.7 3 1.1 3.5 0.3 3.5 -0.5 4 -1.1 3.5 -2 3.5 -2.1 2.5 -2.6 2 -3 1.5 -3.5 1 -3.5 0.3 -3.5 -0.2 -3.5 -1.1 -3 -1.6 -3 -2.5 -2.5 -3.1 -1.8 -3.3 -1.1 -3.5 -0.3 -3.5 0.5 -4 1.2 -3.6 1.9 -3.4 2.2 -2.5 2.9 -2.2 3 -1.4zM656.2 79.1l3.4 -0.2 3.5 0.3 3 1 3 1.6 3 2.6 2.5 3 1.8 3.2 1.1 3.5 0.3 3.5 -0.5 4 -1.2 3.7 -1.9 3.3 -2.1 2.5 -2.5 2 -3 1.5 -3.5 1 -3.5 0.3 -3.5 -0.2 -3.5 -1 -3 -1.7 -3 -2.5 -2.5 -3 -1.9 -3.4 -1.1 -3.5 -0.3 -3.5 0.5 -4 1.2 -3.5 1.9 -3.5 2.2 -2.5 2.5 -2 3.5 -1.6zM585.1 91.1l3.5 -0.2 3.5 0.3 3 1 3 1.6 3 2.5 2.5 3 1.8 3.3 1.1 3.5 0.3 3.6 -0.5 4 -1.2 3.6 -1.9 3.4 -2.1 2.5 -2.5 1.9 -3 1.5 -3.5 1 -4.1 0.3 -3.5 -0.3 -3 -1 -3 -1.6 -3 -2.5 -2.5 -3 -1.8 -3.3 -1.1 -3.5 -0.3 -3.6 0.5 -4 1.2 -3.6 1.9 -3.4 2.1 -2.5 2.6 -2 3.4 -1.6zM514.1 103.1l3.4 -0.2 3.5 0.3 3 0.9 3 1.7 3 2.5 2.5 3 1.9 3.4 1.1 3.5 0.3 3.5 -0.4 3.5 -1.1 3.5 -1.8 3.5 -2 2.5 -2.5 2.1 -3 1.6 -3.5 1.1 -4 0.4 -3.5 -0.2 -3 -0.9 -3.2 -1.6 -3.1 -2.5 -2.5 -3 -2 -3.5 -1.1 -3.5 -0.3 -3.5 0.5 -4 1.2 -3.7 1.9 -3.3 2.1 -2.6 2.6 -2 3.4 -1.6zM631.9 147.2l3.7 -0.3 3.5 0.3 3 1 3 1.6 2.8 2.4 2.5 3 1.8 3 1.2 3.5 0.4 3.5 -0.3 3.5 -1.2 4 -1.7 3.4 -2.1 2.6 -2.4 2.1 -3 1.6 -3.5 1.1 -4 0.4 -3.5 -0.2 -3 -0.9 -3.3 -1.6 -3.1 -2.5 -2.5 -3 -2 -3.5 -1.1 -3.5 -0.3 -3.5 0.5 -4 1.1 -3.5 2 -3.5 2.1 -2.5 2.6 -2 3.1 -1.5zM560.9 159.2l3.6 -0.3 3.5 0.3 3 1 3 1.6 2.9 2.4 2.5 3 1.8 3 1.2 3.5 0.4 3.5 -0.4 4 -1.1 3.5 -1.8 3.5 -2 2.5 -2.5 2.1 -3 1.6 -3.5 1.1 -4 0.4 -3.5 -0.2 -3 -0.9 -3.2 -1.6 -3 -2.5 -2.6 -3 -2 -3.5 -1.1 -3.5 -0.3 -3.5 0.5 -4 1.1 -3.5 2 -3.5 2.1 -2.6 2.6 -1.9 3.1 -1.5zM494 171.2l0 -0.3 1 0 3.5 0.7 2.5 1 2.5 1.5 2 1.7 2.2 2.4 1.7 2.5 1.2 2.5 0.8 2.5 0.4 2.5 0 2.5 -0.4 2.5 -0.7 2.5 -1.2 2.8 -1.3 2.2 -1.7 2 -12.5 0z"/>
<path fill="#1b7e87" stroke="#062018" stroke-opacity="0.38" stroke-width="0.5" fill-rule="evenodd" d="M672.5 16.6l0.6 -0.5 9.5 0 0 29.8 -2.5 -0.3 -2.5 -0.7 -2 -1 -2 -1.3 -2 -1.8 -1.5 -1.8 -1.2 -1.9 -1.2 -2.5 -0.6 -2 -0.3 -2.5 0.1 -2.5 0.4 -2.5 0.9 -2.5 1.3 -2.5 1.5 -2zM609.2 25.1l3.4 -0.3 3 0.4 3 0.9 2.5 1.4 2.5 2.1 2.1 2.5 1.8 3 0.9 3 0.4 3 -0.3 3.5 -0.8 3 -1.5 3 -2 2.5 -2.3 2 -2.8 1.5 -3 1 -3.5 0.4 -3 -0.3 -3 -0.8 -3 -1.6 -2.5 -2 -2.3 -2.7 -1.7 -3 -1 -3 -0.3 -3 0.3 -3.5 1.1 -3.5 1.6 -3 1.8 -2.1 2.5 -2 3 -1.5zM538.1 37.1l3.4 -0.3 3 0.4 3 0.9 2.5 1.4 2.5 2 2.2 2.6 1.8 3 1 3 0.3 3 -0.3 3.5 -0.8 3 -1.5 3 -2 2.5 -2.3 2 -2.9 1.6 -3 0.9 -3.5 0.4 -3 -0.3 -3 -0.8 -3 -1.6 -2.5 -2.1 -2.2 -2.6 -1.7 -3 -1 -3 -0.3 -3 0.3 -3.5 1.1 -3.5 1.6 -3 1.7 -2.1 2.5 -2 3 -1.5zM656 81.1l3.6 -0.3 3 0.4 3 1 2.5 1.3 2.5 2.1 2.2 2.5 1.7 3 1 3 0.3 3 -0.3 3.5 -0.8 3 -1.5 3 -2 2.5 -2.4 2.1 -2.7 1.4 -3 1 -3.5 0.4 -3 -0.3 -3 -0.8 -3 -1.6 -2.5 -2 -2.3 -2.7 -1.7 -3 -1 -3 -0.3 -3 0.3 -3.5 1 -3.3 1.5 -2.9 2 -2.4 2.5 -2.1 3 -1.5zM585 93.1l3.6 -0.3 3 0.4 3 0.9 2.5 1.4 2.5 2 2.2 2.6 1.7 3 1 3 0.3 3 -0.3 3.6 -0.8 3 -1.5 3 -2 2.5 -2.4 2 -2.7 1.4 -3 1 -3.5 0.4 -3.1 -0.3 -3 -0.8 -3 -1.6 -2.5 -2 -2.2 -2.6 -1.7 -3 -1 -3 -0.3 -3 0.3 -3.6 0.8 -3 1.6 -3.1 2 -2.5 2.5 -2 3 -1.5zM513.9 105.1l3.6 -0.3 3 0.4 3 0.9 2.5 1.4 2.5 2 2.3 2.7 1.7 3 1 3 0.3 3 -0.3 3.5 -0.9 3 -1.5 3 -1.9 2.5 -2.2 1.8 -2.5 1.4 -3 1.1 -3.5 0.4 -3 -0.1 -3 -0.8 -3 -1.4 -3 -2.4 -2.2 -2.5 -1.7 -3 -1 -3 -0.3 -3 0.3 -3.5 0.8 -3 1.6 -3.1 2 -2.6 2.5 -2 3 -1.5zM631.8 149.2l3.3 -0.4 3 0.3 3 0.8 2.5 1.3 2.6 2 2.2 2.5 1.9 3 1 3 0.5 3 -0.2 3.5 -0.8 3 -1.4 3 -1.8 2.5 -2.1 2 -2.9 1.7 -3 1.1 -3.5 0.4 -3 -0.1 -3 -0.7 -3 -1.5 -2.6 -1.9 -2.3 -2.5 -1.8 -3 -1.1 -3 -0.5 -3 0.2 -3.5 0.9 -3.5 1.5 -3 2 -2.5 2.3 -2 2.9 -1.6zM560.8 161.2l3.2 -0.4 3 0.3 3 0.8 2.6 1.3 2.6 2 2.2 2.5 1.9 3 1 3 0.5 3 -0.2 3.5 -0.8 3 -1.4 3 -1.8 2.5 -2.1 2 -3 1.7 -3 1.1 -3.5 0.4 -3 -0.1 -3 -0.7 -3 -1.5 -3 -2.4 -2.1 -2.5 -1.8 -3 -0.9 -3 -0.4 -3 0.3 -3.5 0.9 -3.3 1.5 -2.9 2 -2.5 2.5 -2 2.5 -1.3zM494 173.2l0 -0.3 1 0 3.5 0.8 2.5 1.2 2 1.3 2 1.8 1.8 2.2 1.2 2 1.1 2.5 0.5 2.5 0.2 2.5 -0.2 2.5 -0.6 2.5 -1 2.5 -1.2 2 -1.6 2 -1.7 1.5 -9.5 0z"/>
<path fill="#197089" stroke="#062018" stroke-opacity="0.38" stroke-width="0.5" fill-rule="evenodd" d="M675.9 16.6l1 -0.5 5.7 0 0 27.9 -2.5 -0.3 -2 -0.7 -2 -1 -2 -1.4 -1.5 -1.5 -1.6 -2 -1 -2 -0.9 -2.5 -0.3 -2 -0.1 -2.5 0.4 -2.5 0.7 -2 1 -2 1.4 -2 1.9 -1.8zM608.8 27.1l2.8 -0.3 3 0.1 2.5 0.7 2.5 1.2 2.5 1.9 2 2.3 1.5 2.6 0.9 2.5 0.4 2.5 -0.1 3 -0.8 3 -1.2 2.5 -1.7 2.4 -2 1.8 -2.5 1.5 -2.5 0.8 -2.5 0.4 -3 -0.1 -3 -0.7 -2.5 -1.2 -2.5 -1.9 -1.8 -2 -1.6 -2.5 -1.1 -3 -0.4 -2.5 0.1 -3 0.8 -3 1.2 -2.5 1.8 -2.4 2 -1.7 2.5 -1.5zM537.8 39.1l2.7 -0.3 3 0.1 2.5 0.7 2.5 1.2 2.5 1.8 1.8 2 1.6 2.5 0.9 2.5 0.5 2.5 0 3 -0.6 3 -1.1 2.5 -1.6 2.4 -2 2 -2.5 1.5 -2.5 1 -2.5 0.5 -3 0 -3 -0.6 -2.5 -1.1 -2.5 -1.8 -2 -2 -1.5 -2.4 -1.3 -3 -0.5 -3 0.1 -3 0.8 -3 1.2 -2.5 1.7 -2.3 2 -1.8 2.5 -1.5zM655.7 83.1l2.9 -0.3 3 0.1 2.5 0.7 2.5 1.2 2.4 1.8 1.8 2 1.6 2.5 1 2.5 0.4 2.5 0 3 -0.6 3 -1.1 2.5 -1.5 2.3 -2 2 -2.5 1.6 -2.5 1 -2.5 0.5 -3 0 -3 -0.6 -2.5 -1.1 -2.4 -1.7 -2.1 -2.1 -1.6 -2.4 -1.3 -3 -0.5 -3 0.1 -3 0.8 -3 1.2 -2.5 1.8 -2.4 2 -1.8 2.5 -1.4zM584.7 95.1l2.8 -0.3 3.1 0.1 2.5 0.7 2.5 1.2 2.4 1.8 1.8 2 1.6 2.5 1 2.5 0.4 2.5 0 3.1 -0.6 3 -1.1 2.5 -1.5 2.3 -2 1.9 -2.5 1.6 -2.5 1 -2.5 0.5 -3.1 0 -3 -0.6 -2.5 -1.1 -2.5 -1.7 -2 -2.1 -1.5 -2.3 -1.3 -3 -0.5 -3 0.1 -3.1 0.8 -3 1.2 -2.5 1.7 -2.3 2 -1.8 2.5 -1.5zM513.7 107.1l2.8 -0.3 3 0.1 2.5 0.7 2.5 1.2 2.5 1.9 1.8 2 1.6 2.5 1 2.5 0.4 2.5 0 3 -0.6 3 -1.1 2.5 -1.6 2.3 -2 2 -2.5 1.6 -2.5 0.9 -2.5 0.5 -3 0 -3 -0.6 -2.5 -1.1 -2.5 -1.8 -2 -2.1 -1.5 -2.2 -1.3 -3 -0.5 -3 0.1 -3 0.8 -3 1.2 -2.5 1.7 -2.4 2 -1.8 2.5 -1.5zM631.6 151.2l2.5 -0.4 3 0.1 3 0.7 2.5 1.2 2.4 1.9 1.8 2 1.6 2.5 1 2.5 0.4 2.5 0 3 -0.6 3 -1.1 2.5 -1.5 2.2 -2 2 -2.5 1.6 -2.5 1 -2.5 0.5 -3 0 -3 -0.6 -2.5 -1.1 -2.5 -1.7 -2 -2.1 -1.6 -2.3 -1.2 -3 -0.6 -3 0.1 -3 0.8 -3 1.2 -2.5 1.8 -2.5 2 -1.7 2.5 -1.5zM560.5 163.2l2.5 -0.4 3 0.1 3 0.7 2.5 1.2 2.5 1.9 1.8 2 1.6 2.5 1 2.5 0.4 2.5 0 3 -0.6 3 -1.1 2.5 -1.6 2.3 -2 2 -2.5 1.5 -2.5 1 -2.5 0.5 -3 0 -3 -0.6 -2.5 -1.1 -2.5 -1.8 -2 -2 -1.5 -2.3 -1.2 -3 -0.6 -3 0.1 -3 0.8 -3 1.2 -2.5 1.7 -2.4 2 -1.8 2.5 -1.5zM494 175.2l0 -0.4 0.5 0 3.5 0.8 2.5 1.2 2 1.4 2 2 1.4 2 1 2 0.7 2.5 0.3 2.5 -0.1 2.5 -0.6 2.5 -0.9 2 -1.2 2 -1.6 1.9 -2 1.6 -1.8 1 -5.7 0z"/>
<path fill="#16618a" stroke="#062018" stroke-opacity="0.38" stroke-width="0.5" fill-rule="evenodd" d="M679.7 17.1l2.9 -0.5 0 25.5 -2.5 -0.4 -2 -0.7 -2 -1.2 -1.5 -1.3 -1.5 -1.7 -1.1 -1.7 -0.8 -2 -0.5 -2.5 -0.1 -2.5 0.4 -2 0.7 -2 1 -2 1.4 -1.7 1.5 -1.3 2 -1.2zM608.7 29.1l2.4 -0.4 2.5 0 2.5 0.6 2.5 1.1 2 1.5 1.6 1.7 1.3 2 1 2.5 0.5 2.5 -0.1 2.5 -0.5 2.5 -0.9 2 -1.3 2 -1.6 1.7 -2 1.3 -2.5 1.1 -2.5 0.4 -2.5 0 -2.5 -0.6 -2.2 -0.9 -2.1 -1.5 -2 -2 -1.2 -2 -1 -2.5 -0.5 -2.5 0.1 -2.5 0.6 -2.5 0.8 -2 1.4 -2 1.6 -1.6 2.1 -1.4zM537.7 41.1l2.3 -0.4 2.5 0 2.5 0.6 2 0.8 2 1.3 1.8 1.7 1.4 2 1.2 2.5 0.5 2.5 0.1 2.5 -0.5 2.5 -0.7 2 -1.3 2.1 -1.8 1.9 -2.1 1.5 -2.1 0.9 -2.5 0.6 -2.5 0 -2.5 -0.4 -2.5 -1 -2 -1.4 -1.7 -1.7 -1.5 -2 -1.1 -2.5 -0.5 -2.5 -0.1 -2.5 0.5 -2.5 1 -2.5 1.4 -2 2 -2 2 -1.2zM655.6 85.1l2.5 -0.4 2.5 0 2.5 0.6 2 0.8 2 1.4 1.7 1.6 1.4 2 1.2 2.5 0.5 2.5 0.1 2.5 -0.5 2.5 -0.8 2 -1.2 2 -1.8 2 -2.1 1.5 -2 0.9 -2.5 0.6 -2.5 0 -2.5 -0.4 -2.5 -1 -2 -1.3 -1.8 -1.8 -1.5 -2 -1.1 -2.5 -0.5 -2.5 -0.1 -2.5 0.5 -2.5 1 -2.4 1.4 -2.1 1.6 -1.6 2 -1.4zM587.8 96.6l2.3 0.2 2.5 0.6 2.3 1.2 2 1.5 1.7 2 1.2 2 0.9 2.5 0.3 2.5 -0.2 2.6 -0.6 2.5 -1 2 -1.5 2 -1.6 1.5 -2 1.2 -2.5 0.9 -2.5 0.4 -2.6 -0.2 -2.5 -0.6 -2.3 -1.2 -2 -1.5 -1.7 -2 -1.2 -2 -0.9 -2.5 -0.3 -2.5 0.2 -2.6 0.6 -2.5 1.1 -2.2 1.5 -1.9 2 -1.7 2 -1.1 2.5 -0.8zM516.6 108.6l2.4 0.2 2.5 0.6 2 1 2 1.4 1.7 1.9 1.3 2 1 2.5 0.5 2.5 -0.1 2.5 -0.6 2.5 -0.8 2 -1.5 2.1 -1.9 1.9 -2.1 1.2 -2 0.8 -2.5 0.4 -2.5 0 -2.5 -0.6 -2 -0.8 -2.2 -1.5 -1.8 -1.9 -1.4 -2.1 -1 -2.5 -0.5 -2.5 0.1 -2.5 0.6 -2.5 1.1 -2.5 1.5 -2 2.1 -1.9 2 -1.1 2 -0.7zM634.2 152.7l2.4 0 2.5 0.6 2.1 0.9 2.1 1.5 1.8 1.8 1.4 2.2 0.9 2 0.5 2.5 0.1 2.5 -0.5 2.5 -1 2.5 -1.4 2 -1.5 1.6 -2.1 1.4 -2.4 1 -2.5 0.4 -2.5 0 -2.5 -0.6 -2.5 -1.1 -2 -1.4 -1.7 -1.8 -1.3 -2.1 -1 -2.4 -0.5 -2.5 0.1 -2.5 0.5 -2.5 0.9 -2 1.5 -2.2 1.9 -1.8 2.1 -1.3 2 -0.8zM563.1 164.7l2.4 0 2.5 0.6 2.2 0.9 2.1 1.5 1.7 1.7 1.5 2.3 0.9 2 0.5 2.5 0.1 2.5 -0.5 2.5 -1 2.5 -1.4 2 -1.6 1.6 -2 1.3 -2 0.9 -2.5 0.6 -2.5 0 -2.5 -0.4 -2.4 -1 -2.1 -1.4 -1.7 -1.6 -1.4 -2 -1.2 -2.5 -0.5 -2.5 -0.1 -2.5 0.5 -2.5 1 -2.5 1.3 -2 1.6 -1.7 2 -1.3 2.5 -1.1zM494 176.7l2.5 0.4 2 0.7 2 1.2 2 1.8 1.5 1.9 1 2 0.8 2.5 0.2 2.5 -0.3 2.5 -0.5 2 -1.2 2.3 -1.5 1.9 -2 1.7 -2 1 -2 0.7 -2.5 0.4z"/>
<path fill="#194e89" stroke="#062018" stroke-opacity="0.38" stroke-width="0.5" fill-rule="evenodd" d="M679.9 19.1l2.7 -0.5 0 21.6 -2 -0.4 -1.5 -0.5 -1.5 -0.9 -1.7 -1.3 -1.3 -1.5 -0.9 -1.5 -0.6 -1.5 -0.5 -2 0.2 -3.5 0.6 -2 0.7 -1.5 1.1 -1.5 1.4 -1.3 1.5 -0.9zM611.8 30.6l2.3 0.2 2 0.6 2 1 1.5 1.2 1.3 1.5 1.2 2 0.7 2 0.2 2 -0.1 2 -0.4 2 -0.9 1.9 -1.2 1.6 -1.6 1.5 -1.7 1.1 -2 0.7 -2 0.3 -2.5 -0.2 -2 -0.5 -2 -1.1 -1.5 -1.2 -1.5 -1.6 -1.1 -2 -0.7 -2 -0.2 -2 0.1 -2 0.5 -2 0.9 -2 1.5 -1.8 1.5 -1.3 2 -1.1 2 -0.6zM540.6 42.6l1.9 0.1 2 0.5 2 0.9 1.5 1 1.5 1.5 1.3 2 0.8 2 0.4 2 0 2 -0.4 2 -0.8 2 -1.3 1.9 -1.5 1.5 -1.5 0.9 -2 0.9 -2 0.3 -2.5 0 -2 -0.5 -2 -0.9 -1.5 -1 -1.5 -1.6 -1.3 -2 -0.8 -2 -0.3 -2 0.1 -2.5 0.5 -2 0.8 -1.8 1.2 -1.7 1.7 -1.5 1.6 -1 2 -0.7zM658.2 86.6l2.4 0.1 2 0.5 2 0.9 1.5 1.1 1.5 1.5 1.3 1.9 0.7 2 0.4 2 0 2 -0.4 2 -0.8 2 -1.2 1.8 -1.5 1.5 -1.5 1 -2 0.8 -2 0.4 -2.5 0 -2 -0.5 -2 -0.9 -1.5 -1 -1.6 -1.6 -1.3 -2 -0.7 -2 -0.4 -2 0 -2 0.4 -2 0.8 -2 1.3 -1.8 1.5 -1.5 1.5 -0.9 2 -0.9zM587.2 98.6l2.4 0.1 1.9 0.4 2.1 1 1.5 1 1.5 1.5 1.3 2 0.7 2 0.4 2 0 2.1 -0.4 2 -0.8 2 -1.2 1.8 -1.5 1.4 -1.5 1 -2 0.9 -2 0.3 -2.1 0.1 -2.4 -0.5 -2.1 -1 -1.5 -1 -1.5 -1.5 -1.3 -2 -0.7 -2 -0.4 -2 0 -2.1 0.4 -2 0.8 -2 1.2 -1.8 1.5 -1.4 1.5 -1 2 -0.9zM516.1 110.7l2.4 0 2 0.5 2 0.9 1.5 1 1.5 1.5 1.1 1.6 0.9 2 0.5 2 0 2 -0.3 2 -0.7 2 -1.2 2 -1.3 1.3 -1.5 1.2 -2 0.9 -2 0.5 -2 0.1 -2 -0.3 -2 -0.7 -2 -1.2 -1.5 -1.3 -1.5 -2 -0.9 -2 -0.5 -2 0 -2 0.3 -2 0.7 -2 1.2 -2 1.4 -1.5 1.8 -1.3 2 -0.8zM633.9 154.7l2.2 -0.1 2 0.4 2 0.8 1.5 1 1.5 1.4 1.5 1.9 0.9 2.1 0.5 2 0 2 -0.3 2 -0.7 2 -1.2 2 -1.2 1.3 -1.6 1.2 -1.9 0.9 -2 0.5 -2 0.1 -2 -0.3 -2 -0.6 -2 -1.2 -1.6 -1.4 -1.4 -1.9 -1 -2.1 -0.5 -2 0 -2 0.3 -2 0.7 -2 1.2 -2 1.4 -1.5 1.9 -1.3 2 -0.9zM562.8 166.7l2.2 -0.1 2 0.4 1.8 0.7 1.7 1 1.7 1.5 1.3 1.9 1 2.1 0.5 2 0 2 -0.3 2 -0.7 2 -1.2 2 -1.3 1.3 -1.5 1.2 -2 0.9 -2 0.5 -2 0.1 -2 -0.3 -2 -0.7 -2 -1.1 -1.5 -1.4 -1.5 -2 -0.9 -2 -0.4 -2 -0.1 -2 0.3 -2 0.6 -2 1.3 -2 1.4 -1.5 1.8 -1.3 2 -0.8zM494 178.7l2 0.3 2 0.8 1.5 0.9 1.7 1.5 1.1 1.5 1 2 0.6 2 0.1 2 -0.2 2 -0.6 2 -1.1 2 -1.1 1.4 -1.5 1.2 -1.5 0.9 -2 0.7 -2 0.3z"/>
<path fill="#19347f" stroke="#062018" stroke-opacity="0.38" stroke-width="0.5" fill-rule="evenodd" d="M680.6 21.1l2 -0.4 0 17.3 -3 -0.8 -2.2 -1.6 -1.8 -2.5 -0.9 -3 0.2 -3 1.1 -2.5 2.1 -2.2zM609.6 33.1l1.5 -0.3 2 0 3 0.9 2.5 1.9 1.1 1.5 0.7 1.5 0.4 1.5 0.1 2 -0.2 1.5 -0.6 1.7 -0.8 1.3 -1.2 1.4 -1.5 1 -1.5 0.7 -1.5 0.3 -2 0 -3 -0.8 -1.5 -1 -1.2 -1.1 -1.1 -1.5 -0.7 -1.5 -0.3 -1.5 -0.1 -2 0.2 -1.5 0.7 -1.7 0.8 -1.3 1.2 -1.3 1.5 -1zM538.6 45.1l1.9 -0.4 1.5 0.1 3 0.8 1.5 1 1.1 1 1.1 1.5 0.7 1.5 0.4 1.5 0.1 2 -0.2 1.5 -0.7 1.8 -1 1.6 -1 1 -1.5 1.1 -1.5 0.6 -1.5 0.3 -2 0 -3 -0.9 -1.5 -0.9 -1.1 -1.1 -1.1 -1.5 -0.7 -1.5 -0.3 -1.5 -0.1 -2 0.2 -1.5 0.6 -1.6 0.8 -1.4 1.2 -1.3 1.5 -1zM656.5 89.1l3.1 -0.4 2 0.4 1.5 0.6 2.6 1.9 1.1 1.5 0.6 1.5 0.4 1.5 0.1 2 -0.2 1.5 -0.6 1.7 -0.8 1.3 -1.2 1.4 -1.5 1 -1.5 0.7 -1.5 0.3 -2 0 -3 -0.8 -1.5 -1 -1.2 -1.1 -1.1 -1.5 -0.7 -1.5 -0.3 -1.5 -0.1 -2 0.7 -3 0.9 -1.5 1.3 -1.3 1.5 -1.1zM585.5 101.1l3.1 -0.4 2 0.4 1.5 0.5 1.5 1 1.1 1 1.1 1.5 0.6 1.5 0.4 1.5 0.1 2.1 -0.2 1.5 -0.6 1.7 -0.8 1.3 -1.2 1.3 -1.5 1 -1.5 0.7 -1.5 0.3 -2.1 0 -3 -0.8 -1.5 -1 -1.1 -1 -1.1 -1.5 -0.6 -1.5 -0.4 -1.5 -0.1 -2.1 0.7 -3 0.9 -1.5 1.2 -1.3 1.5 -1zM514.4 113.2l1.6 -0.4 2 0 3 0.8 1.5 1 1.2 1.1 1.1 1.5 0.7 1.5 0.3 1.5 0.1 2 -0.7 3 -1.8 2.5 -1.4 1.1 -1.5 0.7 -1.5 0.4 -2 0.2 -2 -0.4 -1.4 -0.5 -1.6 -1 -1.1 -1 -1.1 -1.5 -0.6 -1.5 -0.4 -1.5 -0.1 -2 0.7 -3 0.9 -1.5 1.2 -1.4 1.5 -1zM632.4 157.2l1.7 -0.4 1.5 -0.1 2 0.4 1.5 0.6 1.5 0.9 1.1 1.1 1.1 1.5 0.7 1.5 0.3 1.5 0.1 2 -0.8 3 -1.7 2.5 -1.3 1 -1.5 0.8 -1.5 0.4 -2 0.2 -2 -0.3 -1.5 -0.6 -1.5 -1 -1.1 -1 -1.1 -1.5 -0.7 -1.5 -0.4 -1.5 -0.1 -2 0.7 -3 0.9 -1.5 1.3 -1.4 1.5 -1.1zM561.4 169.2l1.6 -0.4 1.5 -0.1 2 0.4 1.5 0.5 1.5 1 1.2 1.1 1.1 1.5 0.7 1.5 0.3 1.5 0.1 2 -0.8 3 -1.7 2.5 -1.4 1.1 -1.5 0.7 -1.5 0.4 -2 0.2 -2 -0.4 -1.4 -0.5 -1.6 -1 -1 -1 -1.1 -1.5 -0.7 -1.5 -0.4 -1.5 -0.1 -2 0.7 -3 0.9 -1.5 1.2 -1.4 1.5 -1zM494 181.2l0 -0.4 2.5 0.6 1.5 0.8 1.5 1.3 1 1.2 0.8 1.5 0.4 1.5 0.2 2 -0.5 3 -0.8 1.5 -1.1 1.4 -2.5 1.7 -3 0.8z"/>
<path fill="#1a1e74" stroke="#062018" stroke-opacity="0.38" stroke-width="0.5" fill-rule="evenodd" d="M682.3 23.1l0.3 0 0 12.6 -2 -0.6 -2 -1.5 -1.2 -2 -0.4 -2 0.4 -2.5 1.2 -2 1.5 -1.2zM611.3 35.1l2.3 0.1 2.1 0.9 1.9 1.8 0.9 2.2 0 2.5 -0.9 2.4 -1.6 1.6 -2.4 1.1 -2.5 -0.1 -2.3 -1 -1.7 -1.7 -1 -2.3 0 -2.5 1 -2.4 0.9 -1.1 1.1 -0.7zM540.2 47.1l2.3 0.1 2.2 0.9 1.8 1.8 1 2.2 0 2.5 -1 2.5 -1.5 1.5 -2.5 1.1 -2.5 -0.1 -2.2 -1 -1.8 -1.8 -0.9 -2.2 0 -2.5 0.9 -2.3 1 -1.2 1 -0.7zM658.1 91.1l2.5 0.1 2.2 0.9 1.8 1.9 0.9 2.1 0 2.5 -0.9 2.4 -1.6 1.6 -2.4 1.1 -2.5 -0.1 -2.3 -1 -1.7 -1.7 -1 -2.3 0 -2.5 1 -2.4 1.5 -1.6zM587 103.1l2.6 0.1 2.2 0.9 1.8 1.8 0.9 2.2 0 2.6 -0.9 2.3 -1.6 1.7 -2.4 1 -2.6 -0.1 -2.2 -0.9 -1.8 -1.8 -0.9 -2.2 0 -2.6 0.9 -2.3 1.6 -1.7zM516 115.2l2.5 0 2.3 1 1.7 1.7 1 2.3 0 2.5 -1 2.4 -1.5 1.6 -2.5 1 -2.5 -0.1 -2.2 -0.9 -1.8 -1.9 -0.9 -2.1 0 -2.5 0.9 -2.4 1.6 -1.6zM633.9 159.2l2.2 -0.1 2.5 0.9 1.8 1.7 1 2 0.2 2.5 -0.8 2.5 -1.7 1.9 -2 0.9 -2.5 0.2 -2.5 -0.9 -1.8 -1.6 -1.2 -2.5 0 -2.5 1 -2.5 1.5 -1.5zM562.9 171.2l2.1 -0.1 2.5 0.9 1.9 1.7 1 2 0.2 2.5 -0.8 2.5 -1.8 1.9 -2 0.9 -2.5 0.2 -2.5 -0.9 -1.7 -1.6 -1.2 -2.5 0 -2.5 0.9 -2.4 1.6 -1.6zM494 183.2l2 0.5 2 1.5 1.2 2 0.4 2.5 -0.4 2 -1.2 2 -2 1.5 -2 0.5z"/>
<path fill="#1d0d66" stroke="#062018" stroke-opacity="0.38" stroke-width="0.5" fill-rule="evenodd" d="M682.2 25.6l0.4 -0.1 0 7.8 -1 -0.4 -1.1 -0.8 -0.7 -1 -0.4 -1.5 0.2 -1.5 0.5 -1 1 -1zM611.2 37.6l1.4 -0.1 1.5 0.4 1 0.7 0.9 1.5 0.2 1.5 -0.3 1.5 -0.8 1.1 -1.5 0.9 -1.5 0.2 -1.5 -0.4 -1.1 -0.8 -0.9 -1.5 -0.2 -1.5 0.4 -1.5 0.8 -1.1zM540.2 49.6l1.3 -0.1 1.5 0.4 1.1 0.7 0.9 1.5 0.2 1.5 -0.3 1.5 -0.9 1.2 -1.5 0.9 -1.5 0.1 -1.5 -0.4 -1 -0.8 -0.9 -1.5 -0.2 -1.5 0.4 -1.5 1.2 -1.4zM658.1 93.6l1.5 -0.1 1.5 0.4 1 0.8 0.9 1.4 0.2 1.5 -0.4 1.5 -0.7 1.1 -1.5 0.9 -1.5 0.2 -1.5 -0.4 -1.1 -0.8 -0.9 -1.5 -0.2 -1.5 0.4 -1.5 0.8 -1.1zM587.1 105.6l1.5 -0.1 1.5 0.4 1 0.7 0.9 1.5 0.2 1.6 -0.4 1.5 -0.7 1 -1.5 1 -1.6 0.1 -1.5 -0.4 -1 -0.7 -0.9 -1.5 -0.2 -1.6 0.4 -1.5 0.7 -1zM516 117.7l1.5 -0.2 1.5 0.4 1.1 0.8 0.9 1.5 0.2 1.5 -0.4 1.5 -0.8 1.1 -1.5 0.9 -1.5 0.1 -1.5 -0.4 -1 -0.8 -0.9 -1.4 -0.2 -1.5 0.4 -1.5 0.7 -1.1zM634 161.7l1.6 -0.2 1.5 0.4 1 0.8 0.9 1.5 0.2 1.5 -0.4 1.5 -0.7 1 -1.5 0.9 -1.5 0.2 -1.5 -0.4 -1.1 -0.7 -0.9 -1.5 -0.2 -1.5 0.3 -1.5 0.9 -1.2zM563 173.7l1.5 -0.2 1.5 0.4 1.1 0.8 0.9 1.5 0.2 1.5 -0.4 1.5 -0.8 1.1 -1.5 0.9 -1.5 0.1 -1.5 -0.4 -1 -0.7 -0.9 -1.5 -0.2 -1.5 0.3 -1.5 0.8 -1.1zM494 185.7l0 -0.2 1 0.4 1.1 0.8 0.7 1 0.4 1.5 -0.2 1.5 -0.5 1 -1 1 -1.5 0.6z"/>
</g>
<polygon fill="none" stroke="#fff" stroke-width="1.7" stroke-linejoin="miter" points="370.3,68.1 410.1,83.0 417.3,123.8 384.4,150.5 344.7,135.6 337.5,94.8"/>
<polygon fill="none" stroke="#fff" stroke-width="1.7" stroke-linejoin="miter" points="581.4,68.1 621.1,83.0 628.3,123.8 595.4,150.5 555.7,135.6 548.5,94.8"/>
<path fill="#fff" fill-rule="evenodd" d="M280 13.1h195v192.6h-195Z M283 16.1h189v186.6h-189Z"/>
<path fill="#fff" fill-rule="evenodd" d="M491 13.1h194.6v192.6h-194.6Z M494 16.1h188.6v186.6h-188.6Z"/>
<text x="282.5" y="212.2" text-anchor="middle" font-size="10.2" font-family="Liberation Sans, sans-serif"><tspan font-size="13.26" dy="1.02">−</tspan><tspan dy="-1.02" dx="-0.918">3</tspan></text>
<text x="277.2" y="207.0" text-anchor="end" font-size="10.2" font-family="Liberation Sans, sans-serif"><tspan font-size="13.26" dy="1.02">−</tspan><tspan dy="-1.02" dx="-0.918">3</tspan></text>
<text x="314.0" y="212.2" text-anchor="middle" font-size="10.2" font-family="Liberation Sans, sans-serif"><tspan font-size="13.26" dy="1.02">−</tspan><tspan dy="-1.02" dx="-0.918">2</tspan></text>
<text x="277.2" y="175.9" text-anchor="end" font-size="10.2" font-family="Liberation Sans, sans-serif"><tspan font-size="13.26" dy="1.02">−</tspan><tspan dy="-1.02" dx="-0.918">2</tspan></text>
<text x="345.5" y="212.2" text-anchor="middle" font-size="10.2" font-family="Liberation Sans, sans-serif"><tspan font-size="13.26" dy="1.02">−</tspan><tspan dy="-1.02" dx="-0.918">1</tspan></text>
<text x="277.2" y="144.8" text-anchor="end" font-size="10.2" font-family="Liberation Sans, sans-serif"><tspan font-size="13.26" dy="1.02">−</tspan><tspan dy="-1.02" dx="-0.918">1</tspan></text>
<text x="377.0" y="212.2" text-anchor="middle" font-size="10.2" font-family="Liberation Sans, sans-serif">0</text>
<text x="277.2" y="113.7" text-anchor="end" font-size="10.2" font-family="Liberation Sans, sans-serif">0</text>
<text x="408.5" y="212.2" text-anchor="middle" font-size="10.2" font-family="Liberation Sans, sans-serif">1</text>
<text x="277.2" y="82.6" text-anchor="end" font-size="10.2" font-family="Liberation Sans, sans-serif">1</text>
<text x="440.0" y="212.2" text-anchor="middle" font-size="10.2" font-family="Liberation Sans, sans-serif">2</text>
<text x="277.2" y="51.5" text-anchor="end" font-size="10.2" font-family="Liberation Sans, sans-serif">2</text>
<text x="471.5" y="212.2" text-anchor="middle" font-size="10.2" font-family="Liberation Sans, sans-serif">3</text>
<text x="277.2" y="20.4" text-anchor="end" font-size="10.2" font-family="Liberation Sans, sans-serif">3</text>
<text x="377.2" y="223.9" text-anchor="middle" font-size="10.4" font-family="Liberation Sans, sans-serif"><tspan font-style="italic">q</tspan><tspan font-style="italic" font-size="8" dy="2" dx="0.3">x</tspan><tspan dy="-2"> (</tspan><tspan font-family="Liberation Serif, serif" font-size="12">π</tspan>/<tspan font-family="Liberation Serif, serif" font-size="12">a</tspan>)</text>
<text x="492.9" y="212.2" text-anchor="middle" font-size="10.2" font-family="Liberation Sans, sans-serif"><tspan font-size="13.26" dy="1.02">−</tspan><tspan dy="-1.02" dx="-0.918">3</tspan></text>
<text x="487.2" y="207.0" text-anchor="end" font-size="10.2" font-family="Liberation Sans, sans-serif"><tspan font-size="13.26" dy="1.02">−</tspan><tspan dy="-1.02" dx="-0.918">3</tspan></text>
<text x="524.4" y="212.2" text-anchor="middle" font-size="10.2" font-family="Liberation Sans, sans-serif"><tspan font-size="13.26" dy="1.02">−</tspan><tspan dy="-1.02" dx="-0.918">2</tspan></text>
<text x="487.2" y="175.9" text-anchor="end" font-size="10.2" font-family="Liberation Sans, sans-serif"><tspan font-size="13.26" dy="1.02">−</tspan><tspan dy="-1.02" dx="-0.918">2</tspan></text>
<text x="555.9" y="212.2" text-anchor="middle" font-size="10.2" font-family="Liberation Sans, sans-serif"><tspan font-size="13.26" dy="1.02">−</tspan><tspan dy="-1.02" dx="-0.918">1</tspan></text>
<text x="487.2" y="144.8" text-anchor="end" font-size="10.2" font-family="Liberation Sans, sans-serif"><tspan font-size="13.26" dy="1.02">−</tspan><tspan dy="-1.02" dx="-0.918">1</tspan></text>
<text x="587.4" y="212.2" text-anchor="middle" font-size="10.2" font-family="Liberation Sans, sans-serif">0</text>
<text x="487.2" y="113.7" text-anchor="end" font-size="10.2" font-family="Liberation Sans, sans-serif">0</text>
<text x="618.9" y="212.2" text-anchor="middle" font-size="10.2" font-family="Liberation Sans, sans-serif">1</text>
<text x="487.2" y="82.6" text-anchor="end" font-size="10.2" font-family="Liberation Sans, sans-serif">1</text>
<text x="650.4" y="212.2" text-anchor="middle" font-size="10.2" font-family="Liberation Sans, sans-serif">2</text>
<text x="487.2" y="51.5" text-anchor="end" font-size="10.2" font-family="Liberation Sans, sans-serif">2</text>
<text x="681.9" y="212.2" text-anchor="middle" font-size="10.2" font-family="Liberation Sans, sans-serif">3</text>
<text x="487.2" y="20.4" text-anchor="end" font-size="10.2" font-family="Liberation Sans, sans-serif">3</text>
<text x="588.0" y="223.9" text-anchor="middle" font-size="10.4" font-family="Liberation Sans, sans-serif"><tspan font-style="italic">q</tspan><tspan font-style="italic" font-size="8" dy="2" dx="0.3">x</tspan><tspan dy="-2"> (</tspan><tspan font-family="Liberation Serif, serif" font-size="12">π</tspan>/<tspan font-family="Liberation Serif, serif" font-size="12">a</tspan>)</text>
<text transform="translate(262.7,108.7) rotate(-90)" text-anchor="middle" font-size="10.4" font-family="Liberation Sans, sans-serif"><tspan font-style="italic">q</tspan><tspan font-style="italic" font-size="8" dy="2" dx="0.3">y</tspan><tspan dy="-2"> (</tspan><tspan font-family="Liberation Serif, serif" font-size="12">π</tspan>/<tspan font-family="Liberation Serif, serif" font-size="12">b</tspan>)</text>
<defs><linearGradient id="vir" x1="0" x2="1" y1="0" y2="0"><stop offset="0.000" stop-color="#1e055f"/><stop offset="0.050" stop-color="#1c146c"/><stop offset="0.100" stop-color="#192378"/><stop offset="0.150" stop-color="#193a81"/><stop offset="0.200" stop-color="#19508a"/><stop offset="0.250" stop-color="#16618a"/><stop offset="0.300" stop-color="#186e89"/><stop offset="0.350" stop-color="#1b7b88"/><stop offset="0.400" stop-color="#1e8886"/><stop offset="0.450" stop-color="#239484"/><stop offset="0.500" stop-color="#28a082"/><stop offset="0.550" stop-color="#35aa7e"/><stop offset="0.600" stop-color="#43b37a"/><stop offset="0.650" stop-color="#52bc76"/><stop offset="0.700" stop-color="#62c26f"/><stop offset="0.750" stop-color="#73c869"/><stop offset="0.800" stop-color="#8cce61"/><stop offset="0.850" stop-color="#a5d45a"/><stop offset="0.900" stop-color="#bdd953"/><stop offset="0.950" stop-color="#d4dd4f"/><stop offset="1.000" stop-color="#ebe14b"/></linearGradient>
<linearGradient id="bwr" x1="0" x2="0" y1="0" y2="1"><stop offset="0" stop-color="#ff0000"/><stop offset="0.25" stop-color="#ffffff"/><stop offset="1" stop-color="#0000ff"/></linearGradient></defs>
<rect x="324.1" y="229.5" width="306.8" height="5.5" fill="url(#vir)"/>
<path d="M324.1 235v2.3 M385.5 235v2.3 M446.8 235v2.3 M508.2 235v2.3 M569.5 235v2.3 M630.9 235v2.3" stroke="#777" stroke-width="0.5" fill="none"/>
<text x="324.1" y="248.3" text-anchor="middle" font-size="10" font-family="Liberation Sans, sans-serif">0.00</text>
<text x="385.5" y="248.3" text-anchor="middle" font-size="10" font-family="Liberation Sans, sans-serif">0.04</text>
<text x="446.8" y="248.3" text-anchor="middle" font-size="10" font-family="Liberation Sans, sans-serif">0.08</text>
<text x="508.2" y="248.3" text-anchor="middle" font-size="10" font-family="Liberation Sans, sans-serif">0.12</text>
<text x="569.5" y="248.3" text-anchor="middle" font-size="10" font-family="Liberation Sans, sans-serif">0.16</text>
<text x="630.9" y="248.3" text-anchor="middle" font-size="10" font-family="Liberation Sans, sans-serif">0.20</text>
<text x="2.3" y="10.3" font-size="11" font-weight="bold" font-family="Liberation Sans, sans-serif">a</text>
<text x="256.4" y="8.7" font-size="11" font-weight="bold" font-family="Liberation Sans, sans-serif">b</text>
<text x="474.1" y="7.0" font-size="11" font-weight="bold" font-family="Liberation Sans, sans-serif">c</text>
<line x1="53.4" y1="198.7" x2="244.7" y2="152.1" stroke="#222" stroke-width="0.9"/>
<polygon fill="none" stroke="#bdbdbd" stroke-width="0.55" points="100.6,40.6 108.6,33.6 198.6,66.0 196.0,73.7 129.1,132.1 117.5,127.1"/>
<line x1="111.3" y1="44.0" x2="91.5" y2="37.7" stroke="#dcdcff" stroke-width="1.9"/>
<line x1="111.3" y1="44.0" x2="95.3" y2="57.5" stroke="#dcdcff" stroke-width="1.9"/>
<line x1="187.2" y1="70.4" x2="182.9" y2="50.8" stroke="#dcdcff" stroke-width="1.9"/>
<line x1="187.2" y1="70.4" x2="202.9" y2="56.9" stroke="#dcdcff" stroke-width="1.9"/>
<line x1="126.7" y1="121.5" x2="145.6" y2="128.9" stroke="#dcdcff" stroke-width="1.9"/>
<line x1="126.7" y1="121.5" x2="130.4" y2="142.0" stroke="#dcdcff" stroke-width="1.9"/>
<line x1="119.1" y1="83.1" x2="149.2" y2="57.0" stroke="#dcdcff" stroke-width="1.9"/>
<line x1="119.1" y1="83.1" x2="156.9" y2="95.8" stroke="#dcdcff" stroke-width="1.9"/>
<line x1="149.2" y1="57.0" x2="156.9" y2="95.8" stroke="#dcdcff" stroke-width="1.9"/>
<line x1="111.3" y1="44.0" x2="107.3" y2="24.1" stroke="#ffa8a8" stroke-width="1.7"/>
<line x1="149.2" y1="57.0" x2="165.0" y2="44.0" stroke="#ffa8a8" stroke-width="1.7"/>
<line x1="187.2" y1="70.4" x2="206.3" y2="77.3" stroke="#ffa8a8" stroke-width="1.7"/>
<line x1="156.9" y1="95.8" x2="160.5" y2="116.3" stroke="#ffa8a8" stroke-width="1.7"/>
<line x1="126.7" y1="121.5" x2="110.7" y2="135.6" stroke="#ffa8a8" stroke-width="1.7"/>
<line x1="119.1" y1="83.1" x2="99.3" y2="76.4" stroke="#ffa8a8" stroke-width="1.7"/>
<line x1="111.3" y1="44.0" x2="149.2" y2="57.0" stroke="#ffa8a8" stroke-width="1.7"/>
<line x1="119.1" y1="83.1" x2="126.7" y2="121.5" stroke="#ffa8a8" stroke-width="1.7"/>
<line x1="156.9" y1="95.8" x2="187.2" y2="70.4" stroke="#ffa8a8" stroke-width="1.7"/>
<line x1="111.3" y1="44.0" x2="119.1" y2="83.1" stroke="#0505fa" stroke-width="1.9"/>
<line x1="126.7" y1="121.5" x2="156.9" y2="95.8" stroke="#0505fa" stroke-width="1.9"/>
<line x1="149.2" y1="57.0" x2="187.2" y2="70.4" stroke="#0505fa" stroke-width="1.9"/>
<circle cx="111.3" cy="44.0" r="4.7" fill="#fff" stroke="#000" stroke-width="1"/>
<text x="111.3" y="46.3" text-anchor="middle" font-size="6.5" font-style="italic" font-family="Liberation Sans, sans-serif">1</text>
<circle cx="119.1" cy="83.1" r="4.7" fill="#fff" stroke="#000" stroke-width="1"/>
<text x="119.1" y="85.4" text-anchor="middle" font-size="6.5" font-style="italic" font-family="Liberation Sans, sans-serif">2</text>
<circle cx="126.7" cy="121.5" r="4.7" fill="#fff" stroke="#000" stroke-width="1"/>
<text x="126.7" y="123.8" text-anchor="middle" font-size="6.5" font-style="italic" font-family="Liberation Sans, sans-serif">3</text>
<circle cx="156.9" cy="95.8" r="4.7" fill="#fff" stroke="#000" stroke-width="1"/>
<text x="156.9" y="98.1" text-anchor="middle" font-size="6.5" font-style="italic" font-family="Liberation Sans, sans-serif">4</text>
<circle cx="149.2" cy="57.0" r="4.7" fill="#fff" stroke="#000" stroke-width="1"/>
<text x="149.2" y="59.3" text-anchor="middle" font-size="6.5" font-style="italic" font-family="Liberation Sans, sans-serif">5</text>
<circle cx="187.2" cy="70.4" r="4.7" fill="#fff" stroke="#000" stroke-width="1"/>
<text x="187.2" y="72.7" text-anchor="middle" font-size="6.5" font-style="italic" font-family="Liberation Sans, sans-serif">6</text>
<rect x="61.7" y="43.6" width="6.2" height="90" fill="url(#bwr)"/>
<line x1="67.9" y1="43.6" x2="69.9" y2="43.6" stroke="#444" stroke-width="0.5"/>
<text x="71.2" y="46.4" font-size="7.4" stroke="#000" stroke-width="0.15" font-family="Liberation Sans, sans-serif">+0.25</text>
<line x1="67.9" y1="66.2" x2="69.9" y2="66.2" stroke="#444" stroke-width="0.5"/>
<text x="71.2" y="69.0" font-size="7.4" stroke="#000" stroke-width="0.15" font-family="Liberation Sans, sans-serif">+0.00</text>
<line x1="67.9" y1="88.7" x2="69.9" y2="88.7" stroke="#444" stroke-width="0.5"/>
<text x="71.2" y="91.5" font-size="7.4" stroke="#000" stroke-width="0.15" font-family="Liberation Sans, sans-serif">−0.25</text>
<line x1="67.9" y1="111.2" x2="69.9" y2="111.2" stroke="#444" stroke-width="0.5"/>
<text x="71.2" y="114.0" font-size="7.4" stroke="#000" stroke-width="0.15" font-family="Liberation Sans, sans-serif">−0.50</text>
<line x1="67.9" y1="133.8" x2="69.9" y2="133.8" stroke="#444" stroke-width="0.5"/>
<text x="71.2" y="136.6" font-size="7.4" stroke="#000" stroke-width="0.15" font-family="Liberation Sans, sans-serif">−0.75</text>
<text x="59.6" y="33" font-size="9.6" font-family="Liberation Serif, serif">⟨<tspan font-weight="bold">S</tspan><tspan font-style="italic" font-size="6.5" dy="1.5">i</tspan><tspan dy="-1.5"> · </tspan><tspan font-weight="bold">S</tspan><tspan font-style="italic" font-size="6.5" dy="1.5">j</tspan><tspan dy="-1.5">⟩</tspan></text>
<polyline fill="none" stroke="#0a2fa8" stroke-width="1" stroke-dasharray="2.4,2.2" points="244.7,47.6 206.4,89.4 180.9,131.6 162.7,173.5 149.0,174.7 138.4,177.9 129.9,177.1 123.0,182.4 117.2,185.0"/>
<circle cx="244.7" cy="47.6" r="2.7" fill="#0a2fa8"/>
<circle cx="206.4" cy="89.4" r="2.7" fill="#0a2fa8"/>
<circle cx="180.9" cy="131.6" r="2.7" fill="#0a2fa8"/>
<circle cx="162.7" cy="173.5" r="2.7" fill="#0a2fa8"/>
<circle cx="149.0" cy="174.7" r="2.7" fill="#0a2fa8"/>
<circle cx="138.4" cy="177.9" r="2.7" fill="#0a2fa8"/>
<circle cx="129.9" cy="177.1" r="2.7" fill="#0a2fa8"/>
<circle cx="123.0" cy="182.4" r="2.7" fill="#0a2fa8"/>
<circle cx="117.2" cy="185.0" r="2.7" fill="#0a2fa8"/>
<text x="49.4" y="198.3" text-anchor="end" font-size="10.3" font-family="Liberation Sans, sans-serif"><tspan font-size="13.39" dy="1.03">−</tspan><tspan dy="-1.03" dx="-0.927">38.638</tspan></text>
<text x="49.4" y="174.8" text-anchor="end" font-size="10.3" font-family="Liberation Sans, sans-serif"><tspan font-size="13.39" dy="1.03">−</tspan><tspan dy="-1.03" dx="-0.927">38.636</tspan></text>
<text x="49.4" y="151.2" text-anchor="end" font-size="10.3" font-family="Liberation Sans, sans-serif"><tspan font-size="13.39" dy="1.03">−</tspan><tspan dy="-1.03" dx="-0.927">38.634</tspan></text>
<text x="49.4" y="127.7" text-anchor="end" font-size="10.3" font-family="Liberation Sans, sans-serif"><tspan font-size="13.39" dy="1.03">−</tspan><tspan dy="-1.03" dx="-0.927">38.632</tspan></text>
<text x="49.4" y="104.2" text-anchor="end" font-size="10.3" font-family="Liberation Sans, sans-serif"><tspan font-size="13.39" dy="1.03">−</tspan><tspan dy="-1.03" dx="-0.927">38.630</tspan></text>
<text x="49.4" y="80.6" text-anchor="end" font-size="10.3" font-family="Liberation Sans, sans-serif"><tspan font-size="13.39" dy="1.03">−</tspan><tspan dy="-1.03" dx="-0.927">38.628</tspan></text>
<text x="49.4" y="57.1" text-anchor="end" font-size="10.3" font-family="Liberation Sans, sans-serif"><tspan font-size="13.39" dy="1.03">−</tspan><tspan dy="-1.03" dx="-0.927">38.626</tspan></text>
<text x="49.4" y="33.6" text-anchor="end" font-size="10.3" font-family="Liberation Sans, sans-serif"><tspan font-size="13.39" dy="1.03">−</tspan><tspan dy="-1.03" dx="-0.927">38.624</tspan></text>
<path d="M53.4 194.6h3 M53.4 182.8h1.8 M53.4 171.1h3 M53.4 159.3h1.8 M53.4 147.5h3 M53.4 135.8h1.8 M53.4 124.0h3 M53.4 112.2h1.8 M53.4 100.5h3 M53.4 88.7h1.8 M53.4 76.9h3 M53.4 65.2h1.8 M53.4 53.4h3 M53.4 41.7h1.8 M53.4 29.9h3 M53.4 205.9v-3.2 M61.1 205.9v-1.8 M68.7 205.9v-1.8 M76.4 205.9v-1.8 M84.0 205.9v-1.8 M91.7 205.9v-3.2 M99.3 205.9v-1.8 M107.0 205.9v-1.8 M114.6 205.9v-1.8 M122.3 205.9v-1.8 M129.9 205.9v-3.2 M137.6 205.9v-1.8 M145.2 205.9v-1.8 M152.9 205.9v-1.8 M160.5 205.9v-1.8 M168.2 205.9v-3.2 M175.8 205.9v-1.8 M183.5 205.9v-1.8 M191.1 205.9v-1.8 M198.8 205.9v-1.8 M206.4 205.9v-3.2 M214.1 205.9v-1.8 M221.7 205.9v-1.8 M229.4 205.9v-1.8 M237.0 205.9v-1.8 M244.7 205.9v-3.2" stroke="#666" stroke-width="0.5" fill="none"/>
<text x="54.6" y="218.8" text-anchor="middle" font-size="10.2" font-family="Liberation Sans, sans-serif">0</text>
<text x="92.3" y="218.8" text-anchor="middle" font-size="10.2" font-family="Liberation Sans, sans-serif">0.05</text>
<text x="130.5" y="218.8" text-anchor="middle" font-size="10.2" font-family="Liberation Sans, sans-serif">0.1</text>
<text x="168.8" y="218.8" text-anchor="middle" font-size="10.2" font-family="Liberation Sans, sans-serif">0.15</text>
<text x="207.0" y="218.8" text-anchor="middle" font-size="10.2" font-family="Liberation Sans, sans-serif">0.2</text>
<rect x="53.4" y="18.2" width="191.3" height="187.7" fill="none" stroke="#111" stroke-width="1"/>
<text x="138.8" y="235" font-size="10" font-family="Liberation Sans, sans-serif"><tspan font-family="Liberation Serif, serif" font-size="12.5">χ</tspan><tspan font-size="8.3" dy="2.3">B</tspan><tspan font-size="8.3" dy="-9.6" dx="0.8">−1</tspan></text>
<text transform="translate(8.4,110.7) rotate(-90)" text-anchor="middle" font-size="10.5" font-family="Liberation Sans, sans-serif">ground state energy <tspan font-style="italic">E</tspan><tspan font-size="7.5" dy="2">0</tspan><tspan dy="-2"> (K)</tspan></text>
</svg></body></html>
